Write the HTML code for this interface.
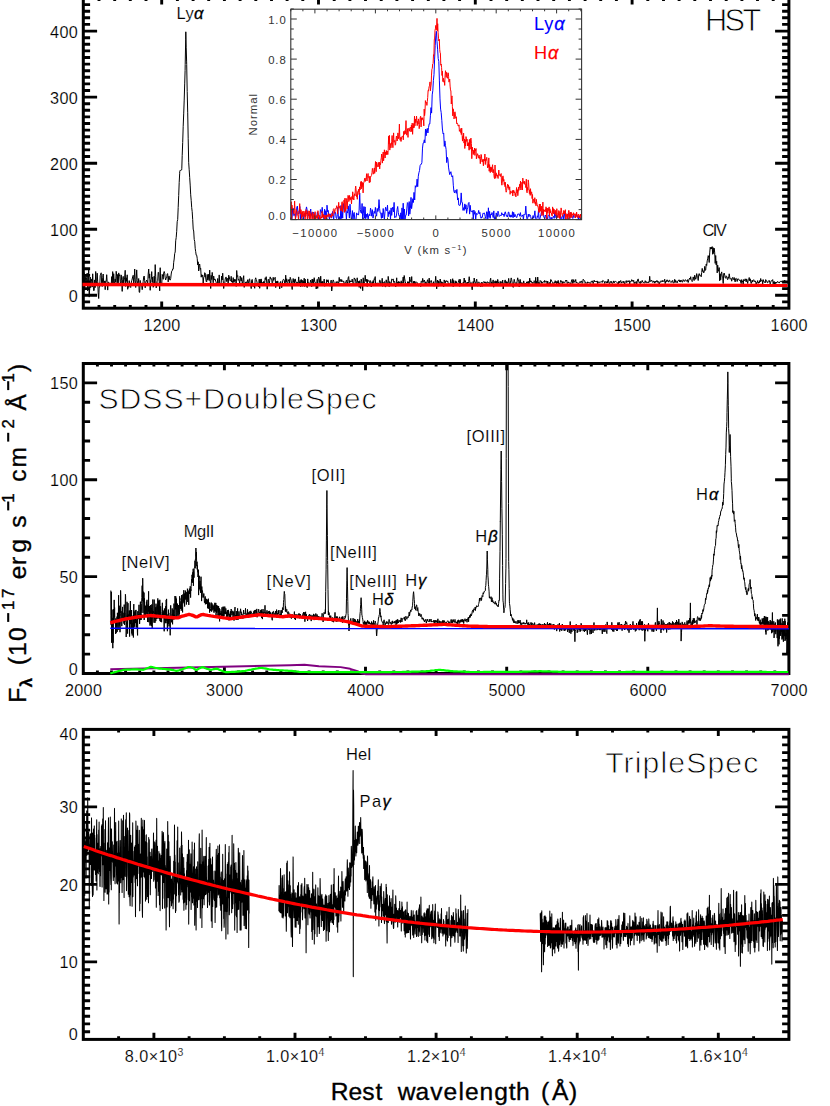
<!DOCTYPE html>
<html><head><meta charset="utf-8"><title>Spectra</title>
<style>html,body{margin:0;padding:0;background:#fff;}svg{display:block;}text{font-family:"Liberation Sans",sans-serif;}</style></head>
<body>
<svg width="830" height="1106" viewBox="0 0 830 1106" font-family="Liberation Sans, sans-serif">
<rect x="0" y="0" width="830" height="1106" fill="#fff"/>
<defs><clipPath id="c1"><rect x="83.3" y="-5" width="705.6" height="313.2"/></clipPath><clipPath id="c2"><rect x="83.3" y="363.5" width="705.6" height="312"/></clipPath><clipPath id="c3"><rect x="83.3" y="729.4" width="705.6" height="310"/></clipPath><clipPath id="ci"><rect x="290.6" y="9.2" width="291" height="210.4"/></clipPath></defs>
<rect x="83.3" y="-2.2" width="705.6" height="310.4" fill="none" stroke="#000" stroke-width="3.0"/>
<path d="M83.3,301.9h6.8M788.9,301.9h-6.8M83.3,295.2h13.8M788.9,295.2h-13.8M83.3,288.6h6.8M788.9,288.6h-6.8M83.3,282h6.8M788.9,282h-6.8M83.3,275.4h6.8M788.9,275.4h-6.8M83.3,268.8h6.8M788.9,268.8h-6.8M83.3,262.2h6.8M788.9,262.2h-6.8M83.3,255.6h6.8M788.9,255.6h-6.8M83.3,249h6.8M788.9,249h-6.8M83.3,242.4h6.8M788.9,242.4h-6.8M83.3,235.8h6.8M788.9,235.8h-6.8M83.3,229.2h13.8M788.9,229.2h-13.8M83.3,222.6h6.8M788.9,222.6h-6.8M83.3,216h6.8M788.9,216h-6.8M83.3,209.4h6.8M788.9,209.4h-6.8M83.3,202.8h6.8M788.9,202.8h-6.8M83.3,196.2h6.8M788.9,196.2h-6.8M83.3,189.6h6.8M788.9,189.6h-6.8M83.3,183h6.8M788.9,183h-6.8M83.3,176.4h6.8M788.9,176.4h-6.8M83.3,169.8h6.8M788.9,169.8h-6.8M83.3,163.2h13.8M788.9,163.2h-13.8M83.3,156.5h6.8M788.9,156.5h-6.8M83.3,149.9h6.8M788.9,149.9h-6.8M83.3,143.3h6.8M788.9,143.3h-6.8M83.3,136.7h6.8M788.9,136.7h-6.8M83.3,130.1h6.8M788.9,130.1h-6.8M83.3,123.5h6.8M788.9,123.5h-6.8M83.3,116.9h6.8M788.9,116.9h-6.8M83.3,110.3h6.8M788.9,110.3h-6.8M83.3,103.7h6.8M788.9,103.7h-6.8M83.3,97.1h13.8M788.9,97.1h-13.8M83.3,90.5h6.8M788.9,90.5h-6.8M83.3,83.9h6.8M788.9,83.9h-6.8M83.3,77.3h6.8M788.9,77.3h-6.8M83.3,70.7h6.8M788.9,70.7h-6.8M83.3,64.1h6.8M788.9,64.1h-6.8M83.3,57.5h6.8M788.9,57.5h-6.8M83.3,50.9h6.8M788.9,50.9h-6.8M83.3,44.3h6.8M788.9,44.3h-6.8M83.3,37.7h6.8M788.9,37.7h-6.8M83.3,31.1h13.8M788.9,31.1h-13.8M83.3,24.4h6.8M788.9,24.4h-6.8M83.3,17.8h6.8M788.9,17.8h-6.8M83.3,11.2h6.8M788.9,11.2h-6.8M83.3,4.6h6.8M788.9,4.6h-6.8M83.3,-2h6.8M788.9,-2h-6.8" stroke="#000" stroke-width="2.9" fill="none"/>
<path d="M99,308.2v-3.1M99,-2.2v3.1M114.7,308.2v-3.1M114.7,-2.2v3.1M130.3,308.2v-3.1M130.3,-2.2v3.1M146,308.2v-3.1M146,-2.2v3.1M161.7,308.2v-6.7M161.7,-2.2v6.7M177.4,308.2v-3.1M177.4,-2.2v3.1M193.1,308.2v-3.1M193.1,-2.2v3.1M208.7,308.2v-3.1M208.7,-2.2v3.1M224.4,308.2v-3.1M224.4,-2.2v3.1M240.1,308.2v-3.1M240.1,-2.2v3.1M255.8,308.2v-3.1M255.8,-2.2v3.1M271.5,308.2v-3.1M271.5,-2.2v3.1M287.1,308.2v-3.1M287.1,-2.2v3.1M302.8,308.2v-3.1M302.8,-2.2v3.1M318.5,308.2v-6.7M318.5,-2.2v6.7M334.2,308.2v-3.1M334.2,-2.2v3.1M349.9,308.2v-3.1M349.9,-2.2v3.1M365.5,308.2v-3.1M365.5,-2.2v3.1M381.2,308.2v-3.1M381.2,-2.2v3.1M396.9,308.2v-3.1M396.9,-2.2v3.1M412.6,308.2v-3.1M412.6,-2.2v3.1M428.3,308.2v-3.1M428.3,-2.2v3.1M443.9,308.2v-3.1M443.9,-2.2v3.1M459.6,308.2v-3.1M459.6,-2.2v3.1M475.3,308.2v-6.7M475.3,-2.2v6.7M491,308.2v-3.1M491,-2.2v3.1M506.7,308.2v-3.1M506.7,-2.2v3.1M522.3,308.2v-3.1M522.3,-2.2v3.1M538,308.2v-3.1M538,-2.2v3.1M553.7,308.2v-3.1M553.7,-2.2v3.1M569.4,308.2v-3.1M569.4,-2.2v3.1M585.1,308.2v-3.1M585.1,-2.2v3.1M600.7,308.2v-3.1M600.7,-2.2v3.1M616.4,308.2v-3.1M616.4,-2.2v3.1M632.1,308.2v-6.7M632.1,-2.2v6.7M647.8,308.2v-3.1M647.8,-2.2v3.1M663.5,308.2v-3.1M663.5,-2.2v3.1M679.1,308.2v-3.1M679.1,-2.2v3.1M694.8,308.2v-3.1M694.8,-2.2v3.1M710.5,308.2v-3.1M710.5,-2.2v3.1M726.2,308.2v-3.1M726.2,-2.2v3.1M741.9,308.2v-3.1M741.9,-2.2v3.1M757.5,308.2v-3.1M757.5,-2.2v3.1M773.2,308.2v-3.1M773.2,-2.2v3.1" stroke="#000" stroke-width="2.9" fill="none"/>
<g clip-path="url(#c1)">
<path d="M84.2,272.7L84.7,290.2L85.2,276.3L85.7,280.3L86.2,281.5L86.7,277.2L87.2,273.1L87.7,290.9L88.2,284.3L88.7,269.3L89.2,297.1L89.7,288.2L90.2,277L90.7,287.7L91.2,278.9L91.7,281.5L92.2,287L92.7,273.8L93.2,285.6L93.7,290.8L94.2,290.3L94.7,279.9L95.2,287.6L95.7,271.5L96.2,280.8L96.7,284.7L97.2,273.2L97.7,281.3L98.2,292.8L98.7,298.5L99.2,286.7L99.7,287.1L100.2,275.7L100.7,274.1L101.2,272.8L101.7,285.2L102.2,286.5L102.7,277.6L103.2,274L103.7,283.4L104.2,283.7L104.7,280.9L105.2,289.7L105.7,281.1L106.2,281.3L106.7,274.7L107.2,282.5L107.7,290.1L108.2,282L108.7,282.1L109.2,284.4L109.7,283.4L110.2,285L110.7,285L111.2,285.5L111.7,276.6L112.2,283.5L112.7,271.6L113.2,283.3L113.7,273.7L114.2,281.1L114.7,284.5L115.2,279L115.7,282.2L116.2,271.3L116.7,276.2L117.2,285.8L117.7,274.4L118.2,285.6L118.7,272.9L119.2,275.9L119.7,274.7L120.2,281.5L120.7,284.8L121.2,274.9L121.7,280.3L122.2,291.4L122.7,279.5L123.2,276.4L123.7,283.8L124.2,280L124.7,277.1L125.2,270.3L125.7,286.4L126.2,277.8L126.7,281.3L127.2,274.8L127.7,289.3L128.2,285.9L128.7,287.3L129.2,280.6L129.7,284.1L130.2,286.7L130.7,287.5L131.2,283.1L131.7,280.8L132.2,279L132.7,276.6L133.2,275.3L133.7,283.3L134.2,279.7L134.7,269L135.2,280.2L135.7,287.5L136.2,279.4L136.7,269.9L137.2,280.3L137.7,285.8L138.2,282.3L138.7,278.5L139.2,292.2L139.7,292.4L140.2,280.4L140.7,285.9L141.2,283.3L141.7,285.6L142.2,289.7L142.7,285.8L143.2,281.4L143.7,277L144.2,276L144.7,280.7L145.2,287.8L145.7,282.7L146.2,281.2L146.7,280.1L147.2,281L147.7,284.1L148.2,274.1L148.7,269L149.2,278.2L149.7,273.9L150.2,290.3L150.7,279.8L151.2,279.2L151.7,271.6L152.2,282.4L152.7,277L153.2,287.3L153.7,285.6L154.2,276.1L154.7,283.1L155.2,264.6L155.7,276.6L156.2,287.9L156.7,285.2L157.2,281.6L157.7,280.4L158.2,272.2L158.7,272.6L159.2,281.8L159.7,290.8L160.2,267.7L160.7,283.9L161.2,283.5L161.7,285.3L162.2,274.4L162.7,276.2L163.2,279.3L163.7,272.9L164.2,271.5L164.7,273.3L165.2,277.8L165.7,280L166.2,277.6L166.7,277.9L167.2,273.9L167.7,273.6L168.2,281.9L168.7,276.3L169.2,276L169.7,279.8L170.2,280.1L170.7,278.5L171.2,274L171.7,271.2L172.2,270.8L172.7,269L173.2,269.1L173.7,262.3L174.2,259L174.7,253.5L175.2,252L175.7,240.8L176.2,237.6L176.7,231.3L177.2,221.7L177.7,219.5L178.2,207.4L178.7,195.5L179.2,182.4L179.7,173.2L179.7,171.8L180.2,170.2L180.7,170.4L181.2,170.1L181.7,169.9L181.8,168.3L182.2,155.7L182.7,142.5L183.2,126.3L183.7,113.9L184.2,100.1L184.7,83.9L185.1,70.4L185.2,64.5L185.7,39.2L185.8,31.8L186.2,47.2L186.6,61.1L186.7,64.4L187.2,91.5L187.7,112.2L188.2,138.8L188.7,162.7L189.2,169.8L189.7,177.6L190.2,185.1L190.7,194.8L191.2,200.3L191.7,207.6L192.2,211.7L192.7,219.6L193.2,229.1L193.7,231L194.2,239.4L194.7,241.3L195.2,248.3L195.7,251.7L196.2,255.2L196.7,255.2L197.2,258.3L197.7,264.9L198.2,261.8L198.7,271L199.2,265.3L199.7,264L200.2,269.3L200.7,268.3L201.2,277.2L201.7,274.6L202.2,276.6L202.7,275.2L203.2,283L203.7,277.4L204.2,277.1L204.7,272.7L205.2,273.1L205.7,278L206.2,281.4L206.7,282L207.2,274.4L207.7,280.1L208.2,279L208.7,274.2L209.2,280.6L209.7,270.1L210.2,279.9L210.7,288.5L211.2,275.4L211.7,279.5L212.2,272.4L212.7,276.9L213.2,282.8L213.7,276.1L214.2,280.1L214.7,279.1L215.2,279.1L215.7,281.3L216.2,282.4L216.7,285.2L217.2,283.8L217.7,278.5L218.2,286L218.7,285.4L219.2,274.9L219.7,283.2L220.2,283.9L220.7,284.4L221.2,282.9L221.7,276L222.2,279.9L222.7,273.2L223.2,280.3L223.7,288.5L224.2,283.5L224.7,284.1L225.2,279.1L225.7,277.3L226.2,277.1L226.7,281.6L227.2,278.2L227.7,278.8L228.2,285.4L228.7,275.2L229.2,276.5L229.7,279.4L230.2,280.9L230.7,280.8L231.2,276.3L231.7,282.1L232.2,280.9L232.7,282.7L233.2,277.6L233.7,282.4L234.2,282.3L234.7,279.2L235.2,280.8L235.7,279.6L236.2,286.4L236.7,270.5L237.2,276.5L237.7,275.6L238.2,280.4L238.7,279.3L239.2,280.3L239.7,284.3L240.2,276.1L240.7,278.8L241.2,281L241.7,277.6L242.2,283.1L242.7,283L243.2,279.3L243.7,275.7L244.2,287.4L244.7,283.5L245.2,283.3L245.7,282.1L246.2,281.8L246.7,284.7L247.2,281.8L247.7,279.7L248.2,284.3L248.7,282.1L249.2,279.2L249.7,278.8L250.2,285.9L250.7,284L251.2,288.6L251.7,280.1L252.2,279.4L252.7,283.3L253.2,286.6L253.7,283.9L254.2,283.4L254.7,288.3L255.2,279.4L255.7,277.8L256.2,279.4L256.7,280.9L257.2,283.2L257.7,285.3L258.2,283.3L258.7,287L259.2,279.2L259.7,288.3L260.2,279.3L260.7,285.8L261.2,278.9L261.7,283.1L262.2,282.2L262.7,283.7L263.2,284.5L263.7,281.3L264.2,281.8L264.7,282.8L265.2,277.8L265.7,279.6L266.2,276.7L266.7,282L267.2,289.2L267.7,284.4L268.2,279.2L268.7,279.8L269.2,285.2L269.7,280.5L270.2,276.9L270.7,278.8L271.2,278.7L271.7,278.8L272.2,284.2L272.7,282.3L273.2,277.3L273.7,280.4L274.2,278.5L274.7,278.3L275.2,277.3L275.7,287.6L276.2,281.1L276.7,283.9L277.2,284.8L277.7,280.9L278.2,283.8L278.7,283.8L279.2,282.8L279.7,288.9L280.2,283L280.7,281.4L281.2,284.2L281.7,287.7L282.2,285.2L282.7,280.7L283.2,279.5L283.7,279.3L284.2,280.1L284.7,283.4L285.2,284.8L285.7,275.2L286.2,282.1L286.7,278.8L287.2,284.3L287.7,285L288.2,279.8L288.7,280.8L289.2,279.3L289.7,283.4L290.2,277.3L290.7,278.8L291.2,280.2L291.7,285.9L292.2,289.5L292.7,282.3L293.2,278.5L293.7,282.5L294.2,279.6L294.7,283.6L295.2,278.9L295.7,281.2L296.2,282.2L296.7,283.8L297.2,282L297.7,286L298.2,282.7L298.7,276.9L299.2,285L299.7,281.4L300.2,280.3L300.7,286.8L301.2,279.4L301.7,282.5L302.2,280.2L302.7,286.3L303.2,281.2L303.7,283L304.2,278.2L304.7,286.5L305.2,279.2L305.7,285L306.2,285.5L306.7,285.9L307.2,287.6L307.7,278.9L308.2,283.5L308.7,282.7L309.2,283.5L309.7,285.5L310.2,282.6L310.7,280L311.2,282L311.7,286.7L312.2,279L312.7,282.6L313.2,279.5L313.7,285.5L314.2,277.7L314.7,281.4L315.2,282L315.7,282.7L316.2,289L316.7,285L317.2,279.4L317.7,288.4L318.2,279L318.7,277.1L319.2,278.2L319.7,282.9L320.2,283.8L320.7,276.2L321.2,283.6L321.7,281.6L322.2,284.3L322.7,281.3L323.2,284.8L323.7,283.9L324.2,279.1L324.7,286.3L325.2,282.9L325.7,284.3L326.2,285.8L326.7,279.7L327.2,282.1L327.7,280.1L328.2,279.8L328.7,283.1L329.2,283.3L329.7,286L330.2,286.1L330.7,282.3L331.2,280.1L331.7,291L332.2,287.3L332.7,282.1L333.2,279.9L333.7,281.2L334.2,283.1L334.7,285.4L335.2,285L335.7,283.5L336.2,281.7L336.7,282.8L337.2,281.5L337.7,282.6L338.2,282.1L338.7,283.8L339.2,277.4L339.7,281.5L340.2,280.8L340.7,279.4L341.2,281.9L341.7,279.6L342.2,280.6L342.7,281.6L343.2,281.7L343.7,280.9L344.2,285.3L344.7,282.9L345.2,283.2L345.7,283L346.2,280.6L346.7,280.1L347.2,284.6L347.7,281.5L348.2,277.7L348.7,276.6L349.2,283L349.7,280.5L350.2,282.2L350.7,281L351.2,281.3L351.7,281.9L352.2,279.1L352.7,282.4L353.2,285L353.7,284.2L354.2,277.9L354.7,278.9L355.2,278.9L355.7,281.8L356.2,284.6L356.7,283.3L357.2,277.8L357.7,282.6L358.2,284.5L358.7,281.2L359.2,287.4L359.7,280.7L360.2,285.5L360.7,288.5L361.2,279.1L361.7,281.6L362.2,283.9L362.7,290.7L363.2,277.8L363.7,283.9L364.2,283.2L364.7,281.3L365.2,275.3L365.7,281.1L366.2,281.7L366.7,279.2L367.2,286.5L367.7,279.6L368.2,281.3L368.7,280.7L369.2,281.4L369.7,282.7L370.2,280.5L370.7,281.8L371.2,286.9L371.7,285.1L372.2,281.7L372.7,284.8L373.2,280.5L373.7,283L374.2,278.8L374.7,279.5L375.2,276.6L375.7,285.6L376.2,283L376.7,283.8L377.2,282.8L377.7,283.4L378.2,283.5L378.7,284.4L379.2,282.9L379.7,280.1L380.2,280.5L380.7,285.5L381.2,286L381.7,283.9L382.2,278.3L382.7,286.4L383.2,283.3L383.7,282.3L384.2,282.5L384.7,281.5L385.2,286.9L385.7,286.7L386.2,279.8L386.7,282L387.2,283.2L387.7,285.7L388.2,276.4L388.7,280.5L389.2,286.7L389.7,281.6L390.2,282.4L390.7,285.6L391.2,283.4L391.7,279.1L392.2,279.5L392.7,279.9L393.2,278.9L393.7,282.4L394.2,281.2L394.7,282.6L395.2,284.2L395.7,286.9L396.2,283L396.7,277.8L397.2,285.9L397.7,282.2L398.2,285.3L398.7,281.3L399.2,283.2L399.7,282.1L400.2,282.4L400.7,285.6L401.2,280.8L401.7,283.9L402.2,283L402.7,281.5L403.2,277L403.7,283.3L404.2,275.5L404.7,278.8L405.2,281.3L405.7,283.5L406.2,284.6L406.7,284.5L407.2,283.9L407.7,281.6L408.2,285.4L408.7,281.8L409.2,285.2L409.7,277L410.2,280.1L410.7,281L411.2,282.4L411.7,276.6L412.2,284.4L412.7,284.9L413.2,284.4L413.7,281.2L414.2,286L414.7,281.1L415.2,284.3L415.7,282.3L416.2,282.4L416.7,282.1L417.2,282.4L417.7,285.1L418.2,285.9L418.7,285.9L419.2,284.6L419.7,284L420.2,283.5L420.7,286.7L421.2,281.4L421.7,280.9L422.2,282.6L422.7,278.4L423.2,281.9L423.7,282.3L424.2,280L424.7,281.1L425.2,284.1L425.7,281.9L426.2,282.6L426.7,284.9L427.2,281L427.7,279.7L428.2,282.3L428.7,283.4L429.2,278.1L429.7,284L430.2,281.7L430.7,281.4L431.2,280.4L431.7,282L432.2,284.7L432.7,283.7L433.2,284.3L433.7,281.6L434.2,286.2L434.7,285.4L435.2,282.4L435.7,276.3L436.2,282.6L436.7,288.9L437.2,282.3L437.7,280L438.2,286.4L438.7,281L439.2,283.6L439.7,284.2L440.2,279L440.7,282.7L441.2,285.2L441.7,281.7L442.2,284L442.7,282.4L443.2,284.8L443.7,286.7L444.2,279.9L444.7,281.8L445.2,283.4L445.7,281L446.2,280.5L446.7,281.6L447.2,281.8L447.7,280.9L448.2,283.2L448.7,284.3L449.2,284.2L449.7,284L450.2,285.2L450.7,279.3L451.2,282.2L451.7,282.9L452.2,283.6L452.7,278.7L453.2,286.7L453.7,280.4L454.2,283L454.7,284.1L455.2,284.9L455.7,280.9L456.2,281.2L456.7,283.3L457.2,283.8L457.7,284.5L458.2,282.3L458.7,280.8L459.2,279.4L459.7,286.4L460.2,279.3L460.7,284L461.2,283.1L461.7,284.2L462.2,284.6L462.7,285.5L463.2,282.3L463.7,283.3L464.2,278L464.7,282.5L465.2,280.4L465.7,282.1L466.2,285.2L466.7,282.7L467.2,284.9L467.7,282L468.2,283.3L468.7,281.5L469.2,276.7L469.7,280.8L470.2,284.7L470.7,282.8L471.2,282.4L471.7,286.4L472.2,289.8L472.7,283.8L473.2,281.5L473.7,284.4L474.2,278L474.7,281.8L475.2,282.1L475.7,285.3L476.2,280.9L476.7,279.2L477.2,282.8L477.7,286.2L478.2,282L478.7,282.2L479.2,282L479.7,282.5L480.2,285.3L480.7,286.8L481.2,283.5L481.7,282.2L482.2,286.5L482.7,282.6L483.2,282.6L483.7,281.6L484.2,281.7L484.7,283L485.2,281.8L485.7,283.3L486.2,282.6L486.7,283.6L487.2,281.6L487.7,282L488.2,283L488.7,282.6L489.2,282.6L489.7,285L490.2,280.1L490.7,278.2L491.2,284L491.7,281.9L492.2,285.4L492.7,282.2L493.2,279.9L493.7,287.2L494.2,283.3L494.7,281.4L495.2,280.8L495.7,283.6L496.2,280.9L496.7,283.3L497.2,284.9L497.7,279.4L498.2,281.6L498.7,283.4L499.2,286L499.7,284.4L500.2,281.4L500.7,285.5L501.2,281.6L501.7,282.1L502.2,283.2L502.7,280L503.2,289L503.7,285L504.2,282.9L504.7,281.2L505.2,279.9L505.7,283.2L506.2,283.9L506.7,281.5L507.2,282L507.7,283.6L508.2,282.3L508.7,278.4L509.2,283.8L509.7,282.9L510.2,283.9L510.7,280.8L511.2,277.9L511.7,279.7L512.2,283L512.7,286.8L513.2,287.4L513.7,283L514.2,279.3L514.7,281.7L515.2,283.3L515.7,283.3L516.2,282.6L516.7,285.2L517.2,280.5L517.7,277.8L518.2,280.5L518.7,279.9L519.2,287L519.7,282L520.2,279.4L520.7,283.7L521.2,284.5L521.7,282.5L522.2,282.8L522.7,284.5L523.2,283.4L523.7,280.9L524.2,283.6L524.7,284.3L525.2,283.1L525.7,284.2L526.2,283.6L526.7,281.9L527.2,282L527.7,283.6L528.2,281.2L528.7,284.7L529.2,284.9L529.7,278.1L530.2,282.2L530.7,280.8L531.2,281L531.7,282.6L532.2,282L532.7,283.5L533.2,283L533.7,283.1L534.2,280.7L534.7,281.6L535.2,285.3L535.7,277.3L536.2,285.9L536.7,281.2L537.2,284.7L537.7,277L538.2,281.5L538.7,284.1L539.2,282.6L539.7,284.4L540.2,280.5L540.7,281.2L541.2,281L541.7,283.4L542.2,283.3L542.7,282.1L543.2,281.8L543.7,281.7L544.2,282.5L544.7,280.4L545.2,282.2L545.7,282L546.2,281.2L546.7,281.2L547.2,285.3L547.7,281.1L548.2,283.1L548.7,285.1L549.2,283.8L549.7,282.4L550.2,284.4L550.7,279.5L551.2,279.8L551.7,281.5L552.2,281.9L552.7,282.1L553.2,286L553.7,285.6L554.2,282.2L554.7,282.8L555.2,280.7L555.7,282.8L556.2,281.4L556.7,284.5L557.2,281.5L557.7,283.1L558.2,280.4L558.7,284.2L559.2,283.1L559.7,284.8L560.2,282.4L560.7,280.4L561.2,281.4L561.7,281L562.2,283.9L562.7,281.7L563.2,281.5L563.7,282.9L564.2,282.5L564.7,282.8L565.2,281.7L565.7,280.2L566.2,280.9L566.7,280L567.2,283.5L567.7,283.2L568.2,281.8L568.7,282.9L569.2,282.9L569.7,282.9L570.2,282.7L570.7,285.5L571.2,282.3L571.7,279.9L572.2,279.4L572.7,283.5L573.2,282.8L573.7,279.6L574.2,282.4L574.7,281.3L575.2,281.6L575.7,279.5L576.2,283L576.7,282.1L577.2,283L577.7,283.3L578.2,283.5L578.7,283.8L579.2,282.4L579.7,282.3L580.2,281.4L580.7,282.7L581.2,281.9L581.7,280.9L582.2,283.4L582.7,282.8L583.2,279.3L583.7,280.1L584.2,280.5L584.7,280.7L585.2,283.4L585.7,282.3L586.2,282.7L586.7,283.1L587.2,283.5L587.7,281.8L588.2,282.7L588.7,282.3L589.2,282.9L589.7,282.6L590.2,283.6L590.7,282.6L591.2,281.5L591.7,282.2L592.2,280.8L592.7,282.4L593.2,283.6L593.7,281.4L594.2,280.2L594.7,281.9L595.2,281.4L595.7,282L596.2,281.3L596.7,282.1L597.2,280.9L597.7,283.7L598.2,281.7L598.7,282.5L599.2,282.8L599.7,281.8L600.2,282.4L600.7,281.7L601.2,281.5L601.7,281.7L602.2,282.5L602.7,280.5L603.2,280.9L603.7,281L604.2,281.3L604.7,283.5L605.2,281.9L605.7,281.6L606.2,282.1L606.7,283.1L607.2,281.1L607.7,283L608.2,279.3L608.7,280.9L609.2,283.5L609.7,283.6L610.2,282.1L610.7,281.4L611.2,282.8L611.7,281.4L612.2,283.6L612.7,283.2L613.2,282.7L613.7,280.9L614.2,282.9L614.7,281.6L615.2,281.6L615.7,281.4L616.2,281.7L616.7,282.4L617.2,282.8L617.7,282.8L618.2,285.7L618.7,281.4L619.2,283.1L619.7,281.1L620.2,281.6L620.7,280.5L621.2,283.2L621.7,282.1L622.2,282L622.7,281.7L623.2,282.9L623.7,281.2L624.2,282.3L624.7,284.7L625.2,281.6L625.7,281.1L626.2,280.6L626.7,282.7L627.2,281.9L627.7,280.9L628.2,280.8L628.7,281.8L629.2,280.6L629.7,284.2L630.2,281.5L630.7,281.5L631.2,281.6L631.7,279.6L632.2,280L632.7,281.3L633.2,281.7L633.7,280.3L634.2,283.7L634.7,282.2L635.2,283.2L635.7,283.1L636.2,281.4L636.7,284.6L637.2,281.8L637.7,279.5L638.2,278.9L638.7,281.7L639.2,282.7L639.7,281.8L640.2,283.7L640.7,281.3L641.2,282.3L641.7,282.5L642.2,280.4L642.7,282L643.2,282.1L643.7,282.9L644.2,283.1L644.7,282.8L645.2,280.7L645.7,282.5L646.2,282.9L646.7,281.6L647.2,282.5L647.7,282.5L648.2,283L648.7,281.7L649.2,282.2L649.7,276.3L650.2,281.6L650.7,280.8L651.2,281.2L651.7,280.2L652.2,281.3L652.7,282.4L653.2,282.3L653.7,281.1L654.2,281.4L654.7,283.2L655.2,281L655.7,282.4L656.2,282L656.7,280.6L657.2,280.6L657.7,282.4L658.2,281.5L658.7,281.8L659.2,285.3L659.7,282.2L660.2,281.6L660.7,282.4L661.2,280.7L661.7,281.2L662.2,282L662.7,280.4L663.2,281.4L663.7,281.2L664.2,281.6L664.7,279.2L665.2,283.6L665.7,281.3L666.2,282.1L666.7,280.1L667.2,279.8L667.7,281.4L668.2,281L668.7,282.2L669.2,280.2L669.7,280.2L670.2,281.8L670.7,282.3L671.2,282.5L671.7,281.3L672.2,281.7L672.7,280.4L673.2,283L673.7,282.8L674.2,282.7L674.7,279.3L675.2,282.5L675.7,280.4L676.2,282L676.7,281.9L677.2,282.9L677.7,281.1L678.2,280.9L678.7,280L679.2,279.8L679.7,282L680.2,280.1L680.7,282.1L681.2,280.6L681.7,280.3L682.2,282.2L682.7,282L683.2,279.6L683.7,280.6L684.2,280.7L684.7,281.5L685.2,279.7L685.7,280L686.2,280.3L686.7,281.3L687.2,281.5L687.7,279.6L688.2,282.5L688.7,280.7L689.2,279.1L689.7,278L690.2,279.3L690.7,276.7L691.2,280.1L691.7,280.6L692.2,281.6L692.7,280.4L693.2,276.9L693.7,279.1L694.2,280.5L694.7,275.2L695.2,277.1L695.7,279.3L696.2,277.9L696.7,273.6L697.2,276.1L697.7,276.7L698.2,280.5L698.7,275L699.2,273.6L699.7,275.7L700.2,275.3L700.7,275.3L701.2,276.8L701.7,272.5L702.2,268.4L702.7,271.4L703.2,270.7L703.7,272.9L704.2,271.9L704.7,266.4L705.2,270.5L705.7,270L706.2,264.1L706.7,265.5L707.2,260.9L707.7,258.8L708.2,255.6L708.7,257L709.2,262.5L709.7,252.9L710.2,247.3L710.7,249.1L711.2,247L711.7,249L712.2,246.6L712.7,254.3L713.2,247.7L713.7,253.5L714.2,248.2L714.7,252.7L715.2,263.4L715.7,255.5L716.2,265L716.7,261.3L717.2,272.9L717.7,265.1L718.2,270L718.7,271.3L719.2,267.6L719.7,280.8L720.2,273.8L720.7,279.8L721.2,273.8L721.7,271.9L722.2,276.6L722.7,276.7L723.2,283.5L723.7,274L724.2,273L724.7,275.2L725.2,277.6L725.7,278.3L726.2,275.8L726.7,276.7L727.2,278.6L727.7,279.7L728.2,276.9L728.7,278.3L729.2,273.8L729.7,276.9L730.2,279.2L730.7,278.7L731.2,278.5L731.7,281.2L732.2,278.5L732.7,277.4L733.2,279.4L733.7,279.5L734.2,277.5L734.7,280.8L735.2,281.9L735.7,278.6L736.2,278.3L736.7,279.5L737.2,281.5L737.7,278.9L738.2,278.8L738.7,279.1L739.2,280.4L739.7,280.4L740.2,279.9L740.7,282L741.2,283.6L741.7,279.6L742.2,282L742.7,280.9L743.2,284.9L743.7,279.5L744.2,280.3L744.7,280.9L745.2,278.8L745.7,280.6L746.2,281.9L746.7,278.9L747.2,281.1L747.7,283.5L748.2,280.2L748.7,279.8L749.2,277.5L749.7,280.9L750.2,278.8L750.7,281.9L751.2,283.5L751.7,282L752.2,280.1L752.7,282.1L753.2,280.6L753.7,279.7L754.2,280.6L754.7,281.7L755.2,280.9L755.7,282.1L756.2,284.4L756.7,282.3L757.2,282.5L757.7,280.6L758.2,283.4L758.7,282.1L759.2,283L759.7,280.6L760.2,282L760.7,278.5L761.2,281.2L761.7,280.5L762.2,280.3L762.7,284L763.2,279.6L763.7,281.5L764.2,281.5L764.7,282.4L765.2,283L765.7,279.6L766.2,281L766.7,280.8L767.2,282.6L767.7,282.9L768.2,281.2L768.7,281L769.2,280.4L769.7,282.2L770.2,283.9L770.7,282.2L771.2,280.8L771.7,280.6L772.2,280.8L772.7,279.6L773.2,283.9L773.7,281.8L774.2,281.3L774.7,284.6L775.2,282L775.7,283.6L776.2,282.1L776.7,283.1L777.2,281.8L777.7,281.3L778.2,282.3L778.7,282.6L779.2,283.1L779.7,282L780.2,281.4L780.7,281.3L781.2,282.1L781.7,281.2L782.2,281.4L782.7,282.4L783.2,282.5L783.7,282.4L784.2,280.9L784.7,280L785.2,282.1L785.7,281.9L786.2,281.3L786.7,282L787.2,282.8L787.7,281.7" fill="none" stroke="#000" stroke-width="1" stroke-linejoin="round"/>
</g>
<line x1="82.5" y1="284.5" x2="787.5" y2="285.4" stroke="#f00" stroke-width="3.4"/>
<rect x="83.3" y="363.5" width="705.6" height="310" fill="none" stroke="#000" stroke-width="3.0"/>
<path d="M83.3,654.1h6.8M788.9,654.1h-6.8M83.3,634.8h6.8M788.9,634.8h-6.8M83.3,615.4h6.8M788.9,615.4h-6.8M83.3,596h6.8M788.9,596h-6.8M83.3,576.6h13.8M788.9,576.6h-13.8M83.3,557.2h6.8M788.9,557.2h-6.8M83.3,537.9h6.8M788.9,537.9h-6.8M83.3,518.5h6.8M788.9,518.5h-6.8M83.3,499.1h6.8M788.9,499.1h-6.8M83.3,479.8h13.8M788.9,479.8h-13.8M83.3,460.4h6.8M788.9,460.4h-6.8M83.3,441h6.8M788.9,441h-6.8M83.3,421.6h6.8M788.9,421.6h-6.8M83.3,402.2h6.8M788.9,402.2h-6.8M83.3,382.9h13.8M788.9,382.9h-13.8" stroke="#000" stroke-width="2.9" fill="none"/>
<path d="M97.4,673.5v-3.1M97.4,363.5v3.1M111.5,673.5v-3.1M111.5,363.5v3.1M125.6,673.5v-3.1M125.6,363.5v3.1M139.7,673.5v-3.1M139.7,363.5v3.1M153.9,673.5v-3.1M153.9,363.5v3.1M168,673.5v-3.1M168,363.5v3.1M182.1,673.5v-3.1M182.1,363.5v3.1M196.2,673.5v-3.1M196.2,363.5v3.1M210.3,673.5v-3.1M210.3,363.5v3.1M224.4,673.5v-6.7M224.4,363.5v6.7M238.5,673.5v-3.1M238.5,363.5v3.1M252.6,673.5v-3.1M252.6,363.5v3.1M266.8,673.5v-3.1M266.8,363.5v3.1M280.9,673.5v-3.1M280.9,363.5v3.1M295,673.5v-3.1M295,363.5v3.1M309.1,673.5v-3.1M309.1,363.5v3.1M323.2,673.5v-3.1M323.2,363.5v3.1M337.3,673.5v-3.1M337.3,363.5v3.1M351.4,673.5v-3.1M351.4,363.5v3.1M365.5,673.5v-6.7M365.5,363.5v6.7M379.7,673.5v-3.1M379.7,363.5v3.1M393.8,673.5v-3.1M393.8,363.5v3.1M407.9,673.5v-3.1M407.9,363.5v3.1M422,673.5v-3.1M422,363.5v3.1M436.1,673.5v-3.1M436.1,363.5v3.1M450.2,673.5v-3.1M450.2,363.5v3.1M464.3,673.5v-3.1M464.3,363.5v3.1M478.4,673.5v-3.1M478.4,363.5v3.1M492.5,673.5v-3.1M492.5,363.5v3.1M506.7,673.5v-6.7M506.7,363.5v6.7M520.8,673.5v-3.1M520.8,363.5v3.1M534.9,673.5v-3.1M534.9,363.5v3.1M549,673.5v-3.1M549,363.5v3.1M563.1,673.5v-3.1M563.1,363.5v3.1M577.2,673.5v-3.1M577.2,363.5v3.1M591.3,673.5v-3.1M591.3,363.5v3.1M605.4,673.5v-3.1M605.4,363.5v3.1M619.6,673.5v-3.1M619.6,363.5v3.1M633.7,673.5v-3.1M633.7,363.5v3.1M647.8,673.5v-6.7M647.8,363.5v6.7M661.9,673.5v-3.1M661.9,363.5v3.1M676,673.5v-3.1M676,363.5v3.1M690.1,673.5v-3.1M690.1,363.5v3.1M704.2,673.5v-3.1M704.2,363.5v3.1M718.3,673.5v-3.1M718.3,363.5v3.1M732.5,673.5v-3.1M732.5,363.5v3.1M746.6,673.5v-3.1M746.6,363.5v3.1M760.7,673.5v-3.1M760.7,363.5v3.1M774.8,673.5v-3.1M774.8,363.5v3.1" stroke="#000" stroke-width="2.9" fill="none"/>
<g clip-path="url(#c2)">
<path d="M110.8,590.5L111,615.5L111.2,625.1L111.4,591.8L111.6,642.7L111.8,624.9L112,633.1L112.2,617.9L112.4,630.8L112.6,634.6L112.8,648.2L113,609.7L113.2,642.7L113.4,609.2L113.6,622.2L113.8,616.3L114,618.5L114.2,599.9L114.4,617L114.6,607.5L114.8,617.7L115,622.4L115.2,620.3L115.4,618.6L115.6,633.9L115.8,623L116,627.7L116.2,633.1L116.4,618.8L116.6,620.4L116.8,626.1L117,616.6L117.2,631.8L117.4,612.8L117.6,616.9L117.8,617.6L118,615.8L118.2,618.7L118.4,614.1L118.6,595.2L118.8,629.9L119,614.3L119.2,625.6L119.4,607.9L119.6,624L119.8,605.7L120,632.2L120.2,616.7L120.4,613.7L120.6,590.4L120.8,596.1L121,612.8L121.2,611.5L121.4,611.5L121.6,612.4L121.8,626.2L122,613.3L122.2,613.2L122.4,609.9L122.6,606.9L122.8,620.2L123,612.7L123.2,613.1L123.4,619.2L123.6,617L123.8,623.6L124,623.1L124.2,604.6L124.4,609.1L124.6,624.9L124.8,612.7L125,621.7L125.2,608.2L125.4,594.3L125.6,596.4L125.8,609.8L126,612.2L126.2,637L126.4,622.8L126.6,622.3L126.8,624.3L127,601.8L127.2,616.6L127.4,615.2L127.6,633.6L127.8,609.9L128,603.2L128.2,616.8L128.4,614.5L128.6,617L128.8,618.2L129,617.6L129.2,610.6L129.4,612.3L129.6,636.6L129.8,610.7L130,620.6L130.2,607.4L130.4,601.1L130.6,624.1L130.8,618L131,628L131.2,625.7L131.4,618.7L131.6,610L131.8,633.5L132,617.3L132.2,635.5L132.4,623L132.6,624.9L132.8,622.4L133,621.1L133.2,615.3L133.4,637.5L133.6,609.5L133.8,604.1L134,619.8L134.2,611.6L134.4,625.7L134.6,615.6L134.8,627.4L135,618L135.2,610.4L135.4,614.3L135.6,623.1L135.8,611.8L136,609.9L136.2,615.4L136.4,619.6L136.6,627.5L136.8,620.5L137,624.2L137.2,615.2L137.4,632.6L137.6,635.4L137.8,611.2L138,618.8L138.2,615.5L138.4,619.1L138.6,613.6L138.8,610L139,604.8L139.2,611.3L139.4,615.5L139.6,623.9L139.8,619.8L140,611.3L140.2,609L140.4,601.7L140.6,619.9L140.8,614.8L141,618.9L141.2,619.9L141.4,613.6L141.6,603.7L141.8,597.6L142,587.1L142.2,585.6L142.4,589.9L142.6,600.7L142.7,578.2L142.8,583.8L143,612.9L143.2,591.6L143.4,592.4L143.6,599.8L143.8,602.2L144,592.6L144.2,620L144.4,598.3L144.6,608.4L144.8,609.4L145,616.7L145.2,611.1L145.4,609L145.6,605.7L145.8,614.8L146,610L146.2,606.8L146.4,601.7L146.6,605.5L146.8,613.8L147,599.8L147.2,613.7L147.4,613.3L147.6,622L147.8,607L148,604.6L148.2,611.7L148.4,609.4L148.6,591.3L148.8,622.2L149,614.5L149.2,613.7L149.4,606L149.6,615.6L149.8,610.3L150,625.6L150.2,618.4L150.4,624.3L150.6,605L150.8,605.8L151,609.5L151.2,608L151.4,625.9L151.6,615.9L151.8,604.4L152,611L152.2,627.9L152.4,610.7L152.6,618.2L152.8,599.5L153,608.8L153.2,612.1L153.4,611.3L153.6,613.4L153.8,616.3L154,622.7L154.2,599.6L154.4,614.1L154.6,619.2L154.8,615.5L155,622.8L155.2,612.7L155.4,614.1L155.6,607.3L155.8,621.1L156,603.7L156.2,610.5L156.4,613.6L156.6,618.8L156.8,611.7L157,606.6L157.2,618.6L157.4,605.1L157.6,608.4L157.8,598.4L158,615.5L158.2,615.2L158.4,600.5L158.6,612.3L158.8,618.5L159,608.9L159.2,601.2L159.4,613.4L159.6,619L159.8,599.8L160,620.9L160.2,613.8L160.4,621.5L160.6,606.3L160.8,621.7L161,616.9L161.2,620.6L161.4,615.1L161.6,622.2L161.8,613.4L162,611.3L162.2,606.8L162.4,602.8L162.6,615.4L162.8,612.3L163,614.1L163.2,612.8L163.4,617.6L163.6,615.4L163.8,610.5L164,620.9L164.2,631.3L164.4,608.5L164.6,611.9L164.8,619.5L165,609.9L165.2,623.1L165.4,610.1L165.6,606.2L165.8,608.1L166,623.2L166.2,599.9L166.4,616.1L166.6,598.9L166.8,620.7L167,618.1L167.2,620.2L167.4,631.2L167.6,614.6L167.8,623.9L168,619.7L168.2,623.1L168.4,609.6L168.6,623.7L168.8,612.9L169,626.4L169.2,622.4L169.4,615.9L169.6,619.8L169.8,619.4L170,617.1L170.2,635.3L170.4,609.2L170.6,605.3L170.8,605.6L171,613.5L171.2,614.9L171.4,620.2L171.6,622.3L171.8,616.9L172,616.2L172.2,608.4L172.4,621.9L172.6,624.3L172.8,613.7L173,619.3L173.2,609.8L173.4,613.8L173.6,614.5L173.8,619.5L174,603.6L174.2,613.7L174.4,619.1L174.6,615.2L174.8,617.1L175,596L175.2,606.6L175.4,609.3L175.6,606.9L175.8,596.4L176,618.2L176.2,612.7L176.4,598.6L176.6,607.6L176.8,610.7L177,616.3L177.2,614.2L177.4,603.6L177.6,605.6L177.8,610.9L178,615.3L178.2,606.4L178.4,605.1L178.6,612.2L178.8,609.3L179,616.4L179.2,611L179.4,613.8L179.6,596.3L179.8,599.7L180,598.5L180.2,603.1L180.4,608.6L180.6,604.7L180.8,608.8L181,601.3L181.2,610.7L181.4,609.6L181.6,595.1L181.8,598.4L182,600.5L182.2,607.9L182.4,607.3L182.6,612.4L182.8,594.5L183,603.3L183.2,601.7L183.4,600L183.6,600.4L183.8,590.2L184,601.9L184.2,598L184.4,593.5L184.6,606.5L184.8,595.7L185,599.9L185.2,595.1L185.4,590.6L185.6,595.6L185.8,598.9L186,592.3L186.2,599.2L186.4,604.5L186.6,601.7L186.8,594.4L187,591.9L187.2,599.4L187.4,588.7L187.6,590L187.8,602L188,595.7L188.2,595.6L188.4,591.6L188.6,601L188.8,604.9L189,590.4L189.2,593.9L189.4,588.6L189.6,591.1L189.8,594L190,593.1L190.2,586.3L190.4,588.3L190.6,597.6L190.8,589.4L191,590.7L191.2,586.5L191.4,583.1L191.6,578.5L191.8,578.3L192,574.8L192.2,576.5L192.4,576.8L192.6,582.7L192.8,572.3L193,580.1L193.2,568.8L193.4,585.9L193.6,571.4L193.8,572.8L194,577.7L194.2,568.2L194.4,567.9L194.6,566.5L194.8,566.6L195,560.7L195.2,568.3L195.3,565.1L195.4,559L195.6,559.4L195.8,550L195.9,548L196,550L196.2,556.3L196.4,552.1L196.6,561.1L196.8,566.1L197,561.7L197.2,569.4L197.4,565.4L197.6,572.7L197.8,573.4L198,577L198.2,574.5L198.4,571.3L198.5,569.7L198.6,595.1L198.8,575.4L199,578.5L199.2,576L199.4,589.2L199.6,587.1L199.8,588.4L200,580.9L200.2,590.5L200.4,583.9L200.6,592.8L200.8,588.1L201,576.7L201.2,589.4L201.4,587L201.6,601.1L201.8,586.5L202,591.4L202.2,592.2L202.4,590.6L202.6,591.8L202.8,595.2L203,597.6L203.2,594.7L203.4,595.7L203.6,597.1L203.8,593.5L204,596.7L204.2,598.1L204.4,602.4L204.6,601.3L204.8,600.9L205,602.9L205.2,596.4L205.4,604.3L205.6,598.7L205.8,599.9L206,599.2L206.2,603.7L206.4,598.9L206.6,604L206.8,600.6L207,600.3L207.2,604.2L207.4,599.6L207.6,607.9L207.8,600.7L208,602L208.2,608.8L208.4,598.7L208.6,608.2L208.8,605.3L209,605.7L209.2,606.4L209.4,602.5L209.6,612.6L209.8,608.7L210,609.4L210.2,610.1L210.4,610.8L210.6,608.4L210.8,603.8L211,602.6L211.2,602.5L211.4,606L211.6,611.6L211.8,603L212,606.7L212.2,610.4L212.4,607L212.6,607.4L212.8,604.5L213,609.2L213.2,606.5L213.4,606.2L213.6,607.4L213.8,610.4L214,612.7L214.2,605L214.4,611.2L214.6,605.4L214.8,602.8L215,607.3L215.2,610.1L215.4,609.8L215.6,611.5L215.8,602.9L216,615.4L216.2,613.4L216.4,613L216.6,605L216.8,612.5L217,609.2L217.2,609.4L217.4,610.1L217.6,605.7L217.8,615.3L218,615.2L218.2,614.5L218.4,616.8L218.6,606L218.8,611.1L219,611L219.2,608L219.4,615.3L219.6,621.4L219.8,609.1L220,614.8L220.2,613.2L220.4,613.5L220.6,613.3L220.8,615.3L221,610.9L221.2,611.7L221.4,618.7L221.6,613.2L221.8,613.1L222,607.3L222.2,614.8L222.4,615.3L222.6,614.2L222.8,618.5L223,606.7L223.2,616.3L223.4,608L223.6,609.9L223.8,606.8L224,616.1L224.2,613L224.4,612L224.6,613.5L224.8,606.6L225,611.4L225.2,614.1L225.4,611.5L225.6,613.3L225.8,608.4L226,614L226.2,612.6L226.4,614.2L226.6,618.5L226.8,613.8L227,611.7L227.2,614.8L227.4,610.2L227.6,618.8L227.8,613.7L228,613.8L228.2,615.3L228.4,609.9L228.6,613.7L228.8,613.1L229,620.4L229.2,618.2L229.4,619.4L229.6,614L229.8,614.4L230,617.1L230.2,611.9L230.4,611.2L230.6,618.7L230.8,615.4L231,615.5L231.2,609L231.4,612.8L231.6,612.7L231.8,612.1L232,615.1L232.3,611.5L232.7,610.8L233,620L233.3,615.8L233.7,611.5L234,620.6L234.3,616.1L234.6,615.6L235,607.1L235,618.9L235.3,615.2L235.6,618.1L236,619.5L236.3,611.1L236.6,619.8L236.9,617L237.3,615L237.6,608.4L237.9,620L238.3,615.5L238.6,616.3L238.9,611.4L239.3,616.2L239.6,616.1L239.9,618.5L240.2,612.1L240.6,608.8L240.9,612.8L241.2,611.8L241.6,615.1L241.9,613.9L242.2,614.9L242.6,617.6L242.9,618.6L243.2,614.4L243.6,610.1L243.9,614.1L244.2,613.6L244.5,613.9L244.9,613.7L245.2,613.9L245.5,608.3L245.9,615.3L246.2,615.2L246.5,614.7L246.8,613.5L247.2,616.1L247.5,609.4L247.8,613.4L248.2,615.2L248.5,612.5L248.8,613.4L249.2,616.1L249.5,613.1L249.8,611.3L250.2,612.3L250.5,614.4L250.8,610.8L251.1,613.4L251.5,612.4L251.8,613.5L252.1,615.2L252.5,615.1L252.8,613.4L253.1,613.8L253.4,615.2L253.8,611.3L254.1,613.6L254.4,610.3L254.8,616.2L255.1,613.4L255.4,609.9L255.8,611.9L256.1,614.9L256.4,612.9L256.8,608.9L257.1,617.3L257.4,613.5L257.7,613.9L258.1,612.2L258.4,610.9L258.7,609.2L259.1,613.2L259.4,612.8L259.7,612.2L260,614.6L260.1,613.6L260.4,610.3L260.7,611.8L261,615.6L261.4,609.5L261.7,618L262,611.6L262.4,619.1L262.7,614L263,609.1L263.4,614.1L263.7,613.2L264,612L264.3,613.2L264.7,613.2L265,605.3L265.3,614.9L265.7,612.4L266,613.2L266.3,614.9L266.6,613.2L267,610.3L267.3,615.2L267.6,612.5L268,613.8L268.3,611.6L268.6,612.9L269,611L269.3,617L269.6,610.9L269.9,615.6L270.3,612.4L270.6,614L270.9,612.7L271.3,615.7L271.6,614L271.9,618.8L272.3,620.3L272.6,612.2L272.9,615.1L273.2,611.3L273.6,611.3L273.9,613.4L274.2,615.7L274.6,615.1L274.9,613.2L275.2,616.3L275.6,611L275.9,611.6L276.2,613.5L276.6,609.6L276.9,616.9L277.2,613.5L277.5,613L277.9,614.8L278.2,610.8L278.5,613.6L278.9,610L279.2,613.5L279.5,614.2L279.9,617.6L280.2,614L280.5,617.1L280.8,614L281,610.3L281.2,615.3L281.5,612.8L281.8,610.4L282.2,612.9L282.5,607.6L282.8,608.2L283.1,609.7L283.2,609.9L283.5,602.3L283.8,599.5L284.1,594L284.3,591.4L284.5,593.4L284.8,594.2L285.1,603.1L285.4,611.4L285.5,606.3L285.8,608.6L286.1,611.8L286.4,610.3L286.8,609.3L287.1,612.5L287.4,613L287.8,612.4L288,614.6L288.1,611.9L288.4,611.6L288.8,612.6L289.1,614.7L289.4,615.1L289.8,613.8L290.1,617.6L290.4,616.5L290.7,615.3L291.1,617.7L291.4,618.6L291.7,616.9L292.1,614.1L292.4,617.2L292.7,618L293.1,616.4L293.4,615.2L293.7,616.1L294,616.3L294.4,611.6L294.7,619L295,615.7L295.4,620L295.7,615.8L296,614L296.4,617.5L296.7,616L297,617.7L297.3,614.9L297.7,614.9L298,614.4L298.3,614.4L298.7,616.8L299,613.3L299.3,616.4L299.6,618.3L300,614L300,615.5L300.3,614.4L300.6,615.2L301,616.4L301.3,617.5L301.6,617.9L302,617L302.3,617.5L302.6,614.8L302.9,613.7L303.3,614.1L303.6,612.1L303.9,616.2L304.3,612.3L304.6,616.6L304.9,621.7L305.3,614.2L305.6,611.8L305.9,617L306.2,614.1L306.6,616.2L306.9,616.2L307.2,616.7L307.6,621L307.9,617L308.2,616.9L308.6,616.2L308.9,614.9L309.2,615.1L309.6,614.2L309.9,618.2L310.2,616.1L310.5,617.8L310.9,614.8L311.2,621.1L311.5,616.4L311.9,617.8L312.2,615.4L312.5,619L312.9,616.2L313.2,616.7L313.5,613.9L313.8,617.8L314.2,620.1L314.5,619.5L314.8,614.6L315.2,618.6L315.5,615.4L315.8,613.5L316.1,614.3L316.5,619.4L316.8,616.2L317.1,614.5L317.5,617.6L317.8,617.6L318.1,616.3L318.5,617.9L318.8,616.2L319.1,619.4L319.4,618.5L319.8,616.9L320.1,617.7L320.4,618.8L320.8,616.8L321.1,618.1L321.4,616.8L321.8,616.2L322.1,613.3L322.4,614.6L322.8,615.1L323,617.2L323.1,622L323.4,614.3L323.7,614.6L324.1,612.3L324.4,613.3L324.7,613L325.1,614L325.4,609.3L325.4,613L325.7,591.7L326.1,569.2L326.2,557.6L326.4,540.1L326.7,508.9L326.9,490.5L327,504.2L327.4,535.7L327.6,560.5L327.7,564.5L328,589.4L328.4,615L328.4,610.9L328.7,615.1L329,612.5L329.4,615.7L329.7,617.8L330,620.3L330,618.1L330.3,620.6L330.7,615.6L331,617.7L331.3,618.1L331.7,618.3L332,617.9L332.3,621.7L332.6,617.5L333,620.1L333.3,619.1L333.6,622.2L334,617.9L334.3,619.7L334.6,619.4L335,612.4L335.3,619.2L335.6,620.4L335.9,621.3L336.3,616.5L336.6,618.2L336.9,621.8L337.3,616.5L337.6,617.1L337.9,619.7L338.3,619.9L338.6,621.2L338.9,620.8L339.2,618.9L339.6,616.8L339.9,617.6L340.2,618.8L340.6,619.5L340.9,619L341.2,620.4L341.6,617.5L341.9,618.2L342.2,616.6L342.6,622.7L342.9,616.5L343.2,620.8L343.5,621.4L343.9,619.8L344.2,618.8L344.5,618.2L344.9,618.7L345,616.1L345.2,617.1L345.5,617.5L345.9,614.8L346.2,613.8L346.2,613.6L346.5,598.2L346.8,580.8L347.1,567.6L347.2,572.9L347.5,586.9L347.8,601.4L348,613.7L348.2,615.3L348.5,623.4L348.8,626.6L349,631L349.1,629.4L349.5,625.2L349.8,621.4L350,623.9L350.1,621.7L350.5,619.1L350.8,618.4L351.1,621.1L351.5,622.3L351.8,621.8L352.1,623.4L352.4,622L352.8,622.3L353.1,618.2L353.4,623.8L353.8,620.6L354.1,623.2L354.4,618.9L354.8,620.1L355.1,623.7L355.4,619.6L355.8,622.1L356.1,621.1L356.4,624.8L356.7,622.5L357.1,624.1L357.4,621.9L357.7,619.1L358.1,625.5L358.4,621.1L358.7,622.2L359.1,622.1L359.4,619.5L359.5,623.4L359.7,619.4L360,613.8L360.3,611.6L360.4,608.9L360.7,604.7L361,598.9L361.1,597.7L361.4,603L361.7,609.2L361.9,615L362,615.1L362.4,617.5L362.7,619.1L363,621.1L363,621.5L363.3,623.7L363.7,622.3L364,625.5L364.3,624.4L364.7,620.8L365,623.8L365.3,625.1L365.6,622L366,625.1L366.3,621.8L366.6,625.7L367,624L367.3,622.7L367.6,620.3L368,622.9L368.3,621.8L368.6,623.7L368.9,621.6L369.3,623.8L369.6,622.3L369.9,624L370.3,624.4L370.6,623.3L370.9,623.9L371.3,624.8L371.6,621.5L371.9,624L372.2,623.5L372.6,625.6L372.9,622.8L373.2,624.6L373.6,620.3L373.9,625.1L374.2,623.7L374.6,623.7L374.9,624.5L375.2,621.1L375.6,622.7L375.8,623.2L375.9,623.7L376.2,628.2L376.5,635.3L376.7,636L376.9,633L377.2,628.3L377.5,625.2L377.6,625L377.9,623L378.2,621.2L378.5,617.3L378.9,617.6L379,616.6L379.2,614.7L379.5,614.6L379.8,608.3L379.9,608.6L380.2,611.4L380.5,614.1L380.8,617.1L380.9,615.8L381.2,618L381.5,620.8L381.8,621.3L382.1,621.3L382.5,622.9L382.8,622.8L383,623.7L383.1,626.7L383.5,623.3L383.8,620.4L384.1,619.8L384.5,621.9L384.8,623.3L385.1,628L385.4,622.9L385.8,623.2L386.1,623.9L386.4,621.5L386.8,622.9L387.1,623.4L387.4,622.3L387.8,621.7L388.1,623.7L388.4,624.5L388.8,623L389.1,619.4L389.4,621.7L389.7,622.2L390.1,623.5L390.4,622.1L390.7,622.2L391.1,624.2L391.4,624.6L391.7,622.9L392.1,621.1L392.4,620.9L392.7,623.7L393,621.6L393.4,622.7L393.7,622.4L394,622.9L394.4,623.1L394.7,621.1L395,621.7L395.4,622.9L395.7,622.6L396,620.6L396,625.3L396.3,620.4L396.7,623.8L397,619.8L397.3,623.4L397.7,619.3L398,623L398.3,621.8L398.6,622.6L399,620.2L399.3,621.5L399.6,621.4L400,621.1L400.3,620L400.6,622.5L401,617.9L401.3,618.2L401.6,618.1L401.9,622L402.3,618.7L402.6,618.7L402.9,618.6L403.3,619L403.6,619L403.9,618.5L404.3,616.9L404.6,619.5L404.9,618.8L405.2,620.8L405.6,619.1L405.7,618.4L405.9,616.2L406.2,617.9L406.6,618.2L406.9,619.3L407.2,617.1L407.6,617.3L407.9,616.6L408.2,617.6L408.6,616.5L408.9,614.6L409.2,612.1L409.5,616L409.9,613.4L410.2,611.7L410.5,610.5L410.5,609.9L410.9,611.7L411.2,610.1L411.5,609.7L411.9,610L412.2,606.4L412.5,606.7L412.6,605.2L412.8,601.3L413.2,594.7L413.5,592L413.6,591.7L413.8,594L414.2,599.4L414.5,603.4L414.7,608.8L414.8,608.5L415.1,607L415.4,608.4L415.5,610.2L415.8,607.5L416.1,605.8L416.5,605.8L416.5,604.8L416.8,605.5L417.1,610.8L417.5,608.6L417.8,607.6L418.1,611.2L418.4,612.5L418.8,615.9L418.9,614.5L419.1,613.5L419.4,615.3L419.8,613.6L420.1,615.2L420.4,616.6L420.8,615.4L421.1,614.3L421.4,616.1L421.8,616.9L422.1,619.2L422.4,618.2L422.5,618.9L422.7,617.8L423.1,619.4L423.4,618.6L423.7,620.4L424.1,620.1L424.4,621.9L424.7,620.9L425.1,619.8L425.4,619.3L425.7,620.9L426,621.8L426.4,623.1L426.7,620.4L427,619.5L427.3,619L427.4,620.1L427.7,621.2L428,621.1L428.4,621L428.7,621.4L429,621.9L429.3,619.2L429.7,621.5L430,621.3L430.3,621.3L430.7,620.9L431,619L431.3,622.1L431.6,620.9L432,621.4L432.3,622L432.6,621.6L433,622.1L433.3,622.2L433.6,620.4L434,620.1L434.3,622.7L434.6,620.6L434.9,624.5L435.3,620.2L435.6,621.9L435.9,621.6L436.3,622.1L436.6,620.5L436.9,622.2L437.3,624.4L437.6,621L437.9,618.8L438.2,622.6L438.6,622.3L438.9,622.7L439.2,620.7L439.6,622.4L439.9,623L440,621.2L440.2,621.9L440.6,622.5L440.9,622.8L441.2,621.5L441.6,622.1L441.9,624.5L442.2,624.5L442.5,620.5L442.9,624.7L443.2,621.3L443.5,623.2L443.9,620.2L444.2,621.6L444.5,621L444.9,622.9L445.2,622.1L445.5,622.4L445.8,622.3L446.2,622.1L446.5,623L446.8,622L447.2,621.7L447.5,621L447.8,620.7L448.1,621.1L448.5,622.3L448.8,623.1L449.1,621.7L449.5,624.4L449.8,623.4L450.1,621.9L450.5,622.3L450.8,621.8L451.1,619.5L451.4,622.9L451.8,622.1L452.1,619.7L452.4,622.9L452.8,621.1L453.1,621.5L453.4,619.6L453.8,621.8L454.1,622.4L454.4,621.3L454.8,621.8L455,619.4L455.1,622.5L455.4,621.7L455.7,621.8L456.1,622.7L456.4,623.2L456.7,621.8L457.1,623L457.4,624.2L457.7,620.5L458.1,622L458.4,619.8L458.7,622.4L459,623.7L459.4,621.8L459.7,620.5L460,621.3L460,622.5L460.4,619.9L460.7,619.9L461,622.2L461.4,619.7L461.7,621.4L462,619.8L462.3,619L462.7,622L463,622.2L463.3,619.7L463.7,623.5L464,620.7L464.3,621L464.6,620.4L465,618.7L465.3,621.3L465.6,620L466,620.4L466.3,619.8L466.6,619L467,622.3L467.3,619.8L467.6,618.8L467.9,619.8L468.3,617.3L468.3,619.3L468.6,621.8L468.9,617.1L469.3,618L469.6,615.5L469.9,616.5L470.3,617.4L470.6,614.2L470.9,613.8L471.2,616L471.6,614.4L471.9,614.4L471.9,614.2L472.2,611.5L472.6,610.5L472.9,609.9L473.2,612.4L473.6,609.6L473.9,608.7L474.2,609.8L474.6,609.9L474.9,610L475.2,607L475.5,610.5L475.5,607.6L475.9,608.3L476.2,607.5L476.5,605.7L476.9,606.8L477.2,606.1L477.5,606.4L477.9,606.8L478.2,606.5L478.5,604.4L478.8,603.4L479.2,601.5L479.5,598.1L479.8,601.2L480.2,599.3L480.5,599.1L480.8,598.2L480.9,599.2L481.1,597.7L481.5,600.5L481.8,598L482.1,595.6L482.5,596L482.8,596.7L483.1,592.8L483.5,593.9L483.8,592.3L484.1,592.4L484.4,591.1L484.8,591.2L485.1,590.9L485.4,590.6L485.4,587.4L485.8,585.7L486.1,580.4L486.4,575.1L486.5,574.8L486.8,568L487.1,554.5L487.2,551L487.4,559.3L487.8,569.5L487.9,575.8L488.1,577.9L488.4,584.2L488.7,586.7L489.1,591.8L489.3,597.1L489.4,598L489.7,596.7L490.1,598.5L490.4,598.2L490.7,598.2L491.1,596.7L491.4,601.9L491.7,601.3L492,597.7L492.4,602L492.7,600.9L492.8,600.5L493,601.2L493.4,603.1L493.7,602.4L494,602.5L494.4,602.8L494.7,602.8L495,604.2L495.3,601.4L495.7,602.5L496,604.2L496.3,603.2L496.7,605.1L497,604.8L497.3,606L497.6,605.6L498,606.8L498.2,606.2L498.3,606.5L498.6,603.5L499,600.1L499.3,600.5L499.4,600L499.6,578.9L500,551.4L500.3,521.5L500.3,521.9L500.6,495L500.9,469.7L501.2,451L501.3,458.9L501.6,481.6L501.9,508.4L502.1,520L502.3,534.8L502.6,565.6L502.9,594.9L503,600.9L503.3,602.8L503.6,608L503.9,610.2L503.9,612.8L504.2,608.8L504.6,608.2L504.9,607.7L505.2,604.8L505.2,603L505.6,583.5L505.9,568.8L506,558.6L506.2,458.7L506.4,362.9L506.6,316.5L506.7,249.4L506.9,250.2L507.2,251.1L507.6,247.6L507.9,251.2L507.9,250.6L508.1,364.9L508.2,386.5L508.5,503.4L508.7,561.5L508.9,569.6L509.2,588.8L509.4,601.9L509.5,603.6L509.9,606L510.2,609.8L510.5,613L510.7,616L510.9,614.1L511.2,614.5L511.5,616.4L511.8,617L512.2,618.2L512.5,620.3L512.8,618.2L513.2,620.8L513.5,622.3L513.7,622.7L513.8,619.5L514.1,621L514.5,622.9L514.8,621.5L515.1,622.1L515.5,621.6L515.8,623.3L516.1,622.2L516.5,621.6L516.8,622.2L517.1,623.8L517.5,622.7L517.8,620.4L518.1,620L518.4,623.3L518.8,620.6L519.1,622.8L519.4,621.9L519.8,623L520,622L520.1,620.1L520.4,624.5L520.8,622.8L521.1,622.7L521.4,624.7L521.7,623.7L522.1,624.3L522.4,622.8L522.7,623.2L523.1,623.6L523.4,622.4L523.7,624.1L524,623.7L524.4,622.9L524.7,622.8L525,624.3L525.4,623.1L525.7,623.8L526,623.7L526.4,623.2L526.7,619.8L527,623.9L527.4,624.5L527.7,622.9L528,622.9L528.3,624.7L528.7,622.4L529,625.1L529.3,624.4L529.7,625.4L530,623.8L530.3,624L530.6,624.3L531,622.3L531.3,623L531.6,625.3L532,623.3L532.3,623.1L532.6,624.5L533,625.7L533.3,624.2L533.6,624L534,624.3L534.3,624.8L534.6,622.6L534.9,624.8L535.3,624.9L535.6,625.7L535.9,625.7L536.3,625.3L536.6,626.9L536.9,624.7L537.2,624.6L537.6,626.5L537.9,624.9L538.2,624.2L538.6,624.3L538.9,624.9L539.2,623.4L539.6,626.1L539.9,625.3L540.2,626.5L540.5,623.9L540.9,624.7L541.2,624.4L541.5,625.8L541.9,625.7L542.2,626.2L542.5,626.2L542.9,624L543.2,625.7L543.5,625.5L543.9,625.4L544.2,626.2L544.5,623L544.8,624.6L545.2,625.2L545.5,624.5L545.8,624L546.2,627L546.5,627L546.8,628.3L547.1,624.4L547.5,622.3L547.8,626.8L548.1,625.3L548.5,624.2L548.8,626.7L549.1,625.8L549.5,623.2L549.6,626.1L549.8,623.3L550.1,626.9L550.5,624L550.8,623.6L551.1,627.5L551.4,627.9L551.8,625.9L552.1,624.4L552.4,627.5L552.8,626.8L553.1,627L553.4,626L553.8,624L554.1,625.9L554.4,629.5L554.7,625.7L555.1,626.8L555.4,626.9L555.7,629L556.1,627.7L556.4,626.4L556.7,631.1L557,627.7L557.4,628.1L557.7,626.2L558,624.4L558.4,628.6L558.7,627L559,628.5L559.4,623.1L559.7,631.5L560,628.1L560.4,629.8L560.7,625.8L561,628.4L561.3,628.6L561.7,630.8L562,630.1L562.3,624L562.7,629L563,628.9L563.3,628L563.6,629.2L564,630.1L564.3,631L564.5,626.4L564.6,627L565,629L565.3,630.4L565.6,626.7L566,628.9L566.3,626L566.6,628.9L567,628.4L567.3,630L567.6,631.9L567.9,627.1L568.3,629.8L568.6,625.3L568.9,629.5L569.3,632.8L569.6,625.3L569.9,627.6L570.2,621.5L570.6,629.7L570.9,633.7L571.2,626.6L571.6,629.5L571.9,631.9L572.2,627L572.6,629.2L572.9,627L573.2,627.6L573.5,628.8L573.9,630.7L574.2,629.2L574.5,628.6L574.9,641.7L575.2,631.2L575.5,629.9L575.9,629.6L576.2,624.3L576.5,628.2L576.9,626.1L577.2,632.8L577.5,630.2L577.8,632.1L578.2,626.7L578.5,625L578.8,626.7L579.2,630.1L579.5,627L579.8,630.3L580.1,631.8L580.5,627.8L580.8,631L581.1,623.3L581.5,625.6L581.8,627.1L582.1,627.7L582.5,625.1L582.8,627.6L583.1,631.1L583.5,630.6L583.8,629.6L584.1,626.3L584.4,632L584.8,630.1L585.1,626L585.4,630.9L585.8,627.6L586.1,629.8L586.4,629.4L586.8,629.9L587.1,632.2L587.4,634.7L587.7,629.4L588.1,628.8L588.4,628.4L588.7,629.6L589.1,630L589.4,625.2L589.7,628.7L590,634.2L590.4,630.4L590.7,631.2L591,628.4L591.4,633.9L591.7,630L592,627.7L592.4,626.6L592.7,629.7L593,632.9L593.4,626.8L593.7,625.9L594,622.5L594.3,630.6L594.7,625.6L595,626.5L595.3,625.6L595.7,626.1L596,630.3L596.3,626.3L596.6,628.7L597,626.4L597.3,627.3L597.6,629.9L598,629.9L598.3,625.2L598.6,628.2L599,625.7L599.3,630L599.6,626.5L600,625.7L600,630.2L600.3,626.6L600.6,628.4L600.9,629.9L601.3,626.6L601.6,627.2L601.9,629.6L602.3,633.9L602.6,629.5L602.9,629.9L603.2,628L603.6,627.8L603.9,631.8L604.2,626L604.6,626.1L604.9,631.8L605.2,625.8L605.6,624.6L605.9,629.1L606.2,630.4L606.5,632.4L606.9,633.6L607.2,621.9L607.5,627.3L607.9,626.9L608.2,628.7L608.5,625.5L608.9,627.9L609.2,628.5L609.5,628.2L609.9,625.5L610.2,628.3L610.5,625.4L610.8,625.4L611.2,627L611.5,629.8L611.8,622.3L612.2,627.5L612.5,631.3L612.8,628L613.1,626.2L613.5,628.2L613.8,631.7L614.1,627.1L614.5,625.7L614.8,629.5L615.1,626.8L615.5,625.6L615.8,629.7L616.1,625.2L616.5,626.6L616.8,631L617.1,627.8L617.4,630.8L617.8,622.6L618.1,623.3L618.4,625.3L618.8,627L619.1,622.2L619.4,627.9L619.8,625.8L620.1,625.9L620.4,627.3L620.7,626.5L621.1,624L621.4,626.6L621.7,624L622.1,630.7L622.4,625.9L622.7,626.4L623,625.4L623.4,627.2L623.7,627.7L624,626.7L624.4,624.3L624.7,630L625,627L625.4,622L625.7,621L626,624L626.4,623.8L626.7,622.5L627,624.3L627.3,627.8L627.7,630.3L628,627.5L628.3,627.8L628.7,629.9L629,632.7L629.3,629.9L629.6,628.5L630,626.5L630.3,624.1L630.6,627.9L631,630L631.3,627.6L631.6,625.3L632,628.3L632.3,626.5L632.6,625.1L633,621.4L633.3,628.2L633.6,624.9L633.9,629.8L634.3,624.9L634.6,626.9L634.9,625.1L635.3,631.4L635.6,630.3L635.9,626.6L636.2,630.5L636.6,623.2L636.9,628.3L637.2,625.1L637.6,626.2L637.9,625.3L638.2,628.2L638.6,621.7L638.9,625.3L639.2,630.2L639.5,620.3L639.9,625.9L640,622.9L640.2,619.2L640.5,627.5L640.9,625.1L641.2,629.9L641.5,621.4L641.9,627.5L642.2,630.7L642.5,621.4L642.9,628.2L643.2,628.3L643.5,627L643.8,630.2L644.2,628.2L644.5,624.4L644.8,641.3L645.2,626L645.5,630.9L645.8,626L646.1,628.8L646.5,625.9L646.8,628.1L647.1,627.8L647.5,629.7L647.8,631.3L648.1,624.9L648.5,623.2L648.8,626.1L649.1,626.2L649.5,627L649.8,629L650.1,625.1L650.4,626.3L650.8,626.3L651.1,629.3L651.4,625.1L651.8,629.6L652.1,631.6L652.4,625.6L652.8,630.2L653.1,627.8L653.4,626.1L653.7,631.8L654.1,629.7L654.4,625.4L654.7,627.8L655.1,624.4L655.4,622.4L655.7,629.1L656,626.2L656.4,630.8L656.7,626.7L657,627L657.4,607.9L657.7,626.7L658,624L658.4,625.5L658.7,621.3L659,621.1L659.4,622.3L659.7,624.4L660,625.8L660.3,625.6L660.7,629.3L661,632.9L661.3,619.3L661.7,630L662,628.6L662.3,624.4L662.6,626.4L663,620.5L663.3,625.3L663.6,630.3L664,622.6L664.3,624.2L664.6,626.1L665,627.7L665.3,625.9L665.6,624.3L666,627.6L666.3,624.1L666.6,632.5L666.9,629.2L667.3,626L667.6,623.5L667.9,624.1L668.3,623.6L668.6,624.7L668.9,629.7L669.2,622L669.6,626.1L669.9,625.6L670.2,622.9L670.6,629.2L670.9,626.9L671.2,626.4L671.6,623.9L671.9,623.5L672.2,625.6L672.5,621.4L672.9,626.5L673.2,622.3L673.5,625.4L673.9,627.3L674.2,624.7L674.5,623.6L674.9,623.3L675.2,625.7L675.5,622.2L675.9,625.4L676.2,628L676.5,620L676.8,623L677.2,626L677.5,622.1L677.8,622.3L678.2,621.7L678.5,627.6L678.8,619.1L679.1,624.8L679.5,624.5L679.8,625.1L680.1,622.8L680.5,625.2L680.8,623.5L681.1,641.1L681.5,632.2L681.8,627.8L682.1,621.9L682.5,622.9L682.8,626.1L683.1,628.9L683.4,624.3L683.6,626.9L683.8,625.4L684.1,628L684.4,623.1L684.8,622.4L685.1,625.2L685.4,625.1L685.8,624.4L686.1,627.6L686.4,626L686.7,624.2L687.1,620.6L687.4,625.7L687.7,626.1L688.1,621.7L688.4,623.2L688.7,620.2L689,623.6L689.4,622.5L689.7,618.1L690,623L690.4,602.9L690.7,621.8L691,625.5L691.4,623.8L691.7,624.8L692,621.5L692.4,625.7L692.7,620.2L693,623.9L693.3,618.3L693.7,622.4L694,619.4L694.3,618.3L694.7,623.1L695,621.9L695,622.6L695.3,621.3L695.6,621.6L696,620.7L696.3,620.2L696.6,620.5L697,624.7L697.3,617.8L697.6,616.6L698,617.5L698.3,617.8L698.6,619.8L699,620.6L699.3,620.4L699.6,617.8L699.9,619.1L700.3,620.8L700.6,618.5L700.9,619.4L701.3,615.3L701.5,618.3L701.6,617.8L701.9,613L702.2,613.9L702.6,613.6L702.9,609.6L703.2,611.4L703.6,610.2L703.9,607.7L704.2,605.7L704.6,604.3L704.9,603.9L705.2,603.9L705.5,598.3L705.9,599.7L706.2,598.4L706.5,595.2L706.9,593.2L707.2,593.7L707.5,589.9L707.5,593.1L707.9,590.9L708.2,588.1L708.5,588.7L708.9,585.9L709.2,584.7L709.5,586.7L709.8,582L710.2,577.5L710.5,581.1L710.8,577.4L711.2,576.4L711.5,579.2L711.8,575.1L711.9,576.3L712.1,570.2L712.5,567.7L712.8,565L713.1,564.6L713.5,559.1L713.8,553.9L714.1,555.4L714.5,550.2L714.8,548.2L715.1,546.3L715.5,545.6L715.8,538.7L716.1,538.5L716.4,530.7L716.4,533.1L716.8,531.7L717.1,525.7L717.4,526.2L717.8,525L718.1,525.5L718.4,522.2L718.8,520.6L719.1,518.6L719.4,518.9L719.4,518L719.7,516.6L720.1,515L720.4,515.2L720.7,511.4L721.1,511.3L721.4,510L721.7,509.2L722,509L722.4,506.5L722.7,502.2L723,505.1L723,504.8L723.4,499.6L723.7,493.6L724,484L724.4,481.2L724.7,477.5L725,472.2L725.4,465.2L725.4,464.8L725.7,454.3L726,447.1L726.3,432.9L726.7,426.3L726.9,421.5L727,412.4L727.3,399.2L727.7,382.9L727.8,371.9L728,383.7L728.3,405.7L728.6,423L728.6,428.4L729,435L729.3,452.5L729.3,450L729.6,445.7L730,435.2L730.1,434.5L730.3,441L730.6,456.3L731,466.2L731.3,478.9L731.3,481.5L731.6,484L732,490.3L732.3,499L732.6,503.8L732.8,512.4L732.9,510.6L733.3,513L733.6,514.1L733.9,511.3L734.3,521.3L734.6,521L734.9,519.8L735.2,523.7L735.6,527.8L735.9,532.2L736.2,532.8L736.6,535L736.9,537.1L737.2,537.1L737.3,538L737.6,540.8L737.9,540.3L738.2,544.7L738.5,547.8L738.9,544.4L739.2,550.2L739.5,552.1L739.9,554.7L740.2,559.6L740.5,556L740.9,563.9L741.2,563.6L741.5,568.8L741.8,565.4L741.9,567L742.2,568.1L742.5,571.2L742.8,570.7L743.2,572.8L743.5,575.9L743.8,579.3L744.2,577.8L744.5,581.5L744.8,582.9L745.1,586.5L745.5,589.5L745.8,587.3L746.1,590.1L746.3,592.2L746.5,590.8L746.8,594.7L747.1,594.8L747.5,592.7L747.8,591.9L748.1,588.5L748.5,588.4L748.5,590.8L748.8,590.6L749.1,584.8L749.4,583.4L749.8,583.3L749.9,582.5L750.1,579.5L750.4,585L750.8,589L751,587L751.1,589.8L751.4,593.4L751.8,594.5L752.1,598.9L752.2,598.1L752.4,596.9L752.7,599.7L753.1,600.1L753.4,603.5L753.7,608.9L754.1,610.3L754.4,612.7L754.7,616.1L755,613.6L755.2,615.7L755.4,617L755.7,620.5L756,618.1L756.4,617.5L756.7,618.8L757,616.4L757.4,614.1L757.7,620.4L758,618.4L758.4,621.1L758.7,617L759,618L759.3,623.1L759.7,621.8L760,624.5L760.2,619.7L760.4,622.2L760.6,624.4L760.8,625.3L761,622.5L761.2,623.8L761.4,622.6L761.6,622.5L761.8,622.8L762,624.7L762.2,618.4L762.4,623.1L762.6,619.5L762.8,623.4L763,622.4L763.2,624.1L763.4,622.5L763.6,622.9L763.8,618L764,629.2L764.2,618.1L764.4,616L764.6,625.2L764.8,626.3L765,623.5L765.2,622.5L765.4,619.1L765.6,632.1L765.8,616.6L766,634.5L766.2,617.1L766.4,619.7L766.6,623.3L766.8,622.4L767,626.8L767.2,620.6L767.4,623L767.6,617.1L767.8,630.5L768,623.4L768.2,621.2L768.4,625.1L768.6,629.6L768.8,627L769,621.7L769.2,626.2L769.4,627.3L769.6,627.8L769.8,624.1L770,629.4L770.2,620L770.4,626.6L770.6,621.7L770.8,626.5L771,623L771.2,630.1L771.4,624.2L771.6,633.2L771.8,621.3L772,632.5L772.2,621.9L772.4,612.5L772.6,621.1L772.8,632.1L773,628.2L773.2,630L773.4,624.8L773.6,629.3L773.8,621.3L774,638L774.2,637.3L774.4,630.4L774.6,624.1L774.8,623.7L775,631.8L775.2,630.3L775.4,622.5L775.6,633.1L775.8,634.2L776,632.4L776.2,631.5L776.4,630.7L776.6,629.3L776.8,627.4L777,625.5L777.2,638.1L777.4,619.4L777.6,630.8L777.8,636.1L778,646.3L778.2,620.4L778.4,640.3L778.6,639.9L778.8,637.8L779,644.4L779.2,619.5L779.4,638.7L779.6,631.1L779.8,635.2L780,631.2L780.2,626.1L780.4,618.6L780.6,635.8L780.8,631L781,622.8L781.2,632L781.4,624.6L781.6,626.5L781.8,634.7L782,639.5L782.2,618.4L782.4,632.9L782.6,638.4L782.8,623.8L783,631.4L783.2,636.6L783.4,641.7L783.6,625L783.8,621.1L784,629.4L784.2,630.4L784.4,634.4L784.6,635.2L784.8,618.7L785,641L785.2,621.1L785.4,638.2L785.6,639.7L785.8,639.1L786,638.3L786.2,638.9L786.4,629.1L786.6,628.8L786.8,654.8L787,650.3L787.2,648.5L787.4,644L787.6,622.5L787.8,653.8L788,635.1L788.2,636.8" fill="none" stroke="#000" stroke-width="1" stroke-linejoin="round"/>
</g>
<line x1="110.3" y1="628.3" x2="788.9" y2="628.7" stroke="#00f" stroke-width="1.5"/>
<path d="M110.3,669.2L200,667.2L290,665.2L304.5,664.8L318.9,666.2L340.6,667.1L350.2,668.8L357.5,671.2L362.3,673.6L366,674.3L788.9,674.3" fill="none" stroke="#800080" stroke-width="1.9" stroke-linejoin="round"/>
<path d="M110.3,673.4L111.8,673L113.3,672.5L114.8,672.1L116.3,671.7L117.8,671.3L119.3,670.9L120.8,670.6L122.3,670.2L123.8,669.8L125.3,669.7L126.8,669.7L128.3,669.6L129.8,669.6L131.3,669.5L132.8,669.4L134.3,669.4L135.8,669.3L137.3,669.4L138.8,669.5L140.3,669.6L141.8,669.7L143.3,669.8L144.8,669.2L146.3,668.6L147.8,668L149.3,667.4L150.8,666.9L152.3,667.2L153.8,667.5L155.3,667.8L156.8,668L158.3,668.3L159.8,668.6L161.3,668.7L162.8,668.9L164.3,669L165.8,669.1L167.3,669.3L168.8,669.4L170.3,669.6L171.8,669.9L173.3,670.2L174.8,670.5L176.3,670.9L177.8,670.7L179.3,670.2L180.8,669.7L182.3,669.2L183.8,668.7L185.3,668.2L186.8,667.7L188.3,667.1L189.8,667.1L191.3,667.5L192.8,667.9L194.3,668.8L195.8,669.8L197.3,669.6L198.8,668.6L200.3,667.9L201.8,667.2L203.3,667.3L204.8,668L206.3,668.6L207.8,669L209.3,669.4L210.8,669.8L212.3,669.5L213.8,669.2L215.3,668.9L216.8,668.6L218.3,669.2L219.8,669.9L221.3,670.6L222.8,671.2L224.3,671.8L225.8,672.2L227.3,672.1L228.8,672.1L230.3,672L231.8,671.9L233.3,671.9L234.8,671.8L236.3,671.7L237.8,671.6L239.3,671.4L240.8,671.3L242.3,671.2L243.8,671.1L245.3,670.9L246.8,670.5L248.3,670.2L249.8,669.9L251.3,669.6L252.8,669.2L254.3,669L255.8,668.7L257.3,668.5L258.8,668.2L260.3,668L261.8,667.9L263.3,668.2L264.8,668.4L266.3,668.7L267.8,669L269.3,669.3L270.8,669.5L272.3,669.6L273.8,669.8L275.3,669.9L276.8,670.1L278.3,670.2L279.8,670.3L281.3,670.4L282.8,670.4L284.3,670.5L285.8,670.6L287.3,670.7L288.8,670.8L290.3,670.9L291.8,670.9L293.3,671.1L294.8,671.3L296.3,671.5L297.8,671.7L299.3,671.9L300.8,672L302.3,672L303.8,672L305.3,672L306.8,672L308.3,672.1L309.8,672.1L311.3,672.1L312.8,672.1L314.3,672.1L315.8,672.1L317.3,672.1L318.8,672.1L320.3,672.1L321.8,672.1L323.3,672.2L324.8,672.2L326.3,672.2L327.8,672.2L329.3,672.2L330.8,672.2L332.3,672.2L333.8,672.2L335.3,672.2L336.8,672.2L338.3,672.2L339.8,672.2L341.3,672.2L342.8,672.2L344.3,672.2L345.8,672.2L347.3,672.2L348.8,672.2L350.3,672.2L351.8,672.2L353.3,672.2L354.8,672.2L356.3,672.2L357.8,672.2L359.3,672.2L360.8,672.2L362.3,672.2L363.8,672.2L365.3,672.2L366.8,672.2L368.3,672.2L369.8,672.2L371.3,672.2L372.8,672.2L374.3,672.2L375.8,672.1L377.3,672.1L378.8,672.1L380.3,672.1L381.8,672.1L383.3,672.1L384.8,672.1L386.3,672.1L387.8,672.1L389.3,672.1L390.8,672.1L392.3,672L393.8,672L395.3,672L396.8,672L398.3,672L399.8,672L401.3,672L402.8,671.9L404.3,671.9L405.8,671.9L407.3,671.8L408.8,671.8L410.3,671.8L411.8,671.7L413.3,671.7L414.8,671.6L416.3,671.6L417.8,671.6L419.3,671.5L420.8,671.5L422.3,671.5L423.8,671.4L425.3,671.4L426.8,671.2L428.3,671L429.8,670.9L431.3,670.7L432.8,670.5L434.3,670.4L435.8,670.2L437.3,670L438.8,669.9L440.3,669.9L441.8,670.1L443.3,670.2L444.8,670.4L446.3,670.6L447.8,670.7L449.3,670.9L450.8,671.1L452.3,671.2L453.8,671.3L455.3,671.3L456.8,671.4L458.3,671.5L459.8,671.5L461.3,671.6L462.8,671.7L464.3,671.7L465.8,671.8L467.3,671.9L468.8,671.9L470.3,672L471.8,672L473.3,672L474.8,672L476.3,672L477.8,672L479.3,672L480.8,672L482.3,672L483.8,671.9L485.3,671.9L486.8,671.9L488.3,671.9L489.8,671.9L491.3,671.9L492.8,671.9L494.3,671.9L495.8,671.9L497.3,671.9L498.8,671.9L500.3,671.9L501.8,671.9L503.3,671.9L504.8,671.9L506.3,671.9L507.8,671.8L509.3,671.8L510.8,671.8L512.3,671.8L513.8,671.8L515.3,671.8L516.8,671.8L518.3,671.8L519.8,671.8L521.3,671.8L522.8,671.7L524.3,671.7L525.8,671.6L527.3,671.6L528.8,671.5L530.3,671.5L531.8,671.4L533.3,671.4L534.8,671.4L536.3,671.3L537.8,671.3L539.3,671.2L540.8,671.2L542.3,671.3L543.8,671.3L545.3,671.4L546.8,671.4L548.3,671.4L549.8,671.5L551.3,671.5L552.8,671.6L554.3,671.6L555.8,671.7L557.3,671.7L558.8,671.8L560.3,671.8L561.8,671.8L563.3,671.8L564.8,671.8L566.3,671.8L567.8,671.8L569.3,671.8L570.8,671.9L572.3,671.9L573.8,671.9L575.3,671.9L576.8,671.9L578.3,671.9L579.8,671.9L581.3,671.9L582.8,671.9L584.3,671.9L585.8,671.9L587.3,671.9L588.8,671.9L590.3,672L591.8,672L593.3,672L594.8,672L596.3,672L597.8,672L599.3,672L600.8,672L602.3,672L603.8,672L605.3,672L606.8,672L608.3,672L609.8,672L611.3,672L612.8,672L614.3,672L615.8,672L617.3,672L618.8,672L620.3,672L621.8,672L623.3,672L624.8,672L626.3,671.9L627.8,671.9L629.3,671.9L630.8,671.9L632.3,671.9L633.8,671.9L635.3,671.9L636.8,671.9L638.3,671.9L639.8,671.9L641.3,671.9L642.8,671.9L644.3,671.9L645.8,671.9L647.3,671.9L648.8,671.9L650.3,671.9L651.8,671.9L653.3,671.9L654.8,671.9L656.3,671.9L657.8,671.9L659.3,671.9L660.8,671.9L662.3,671.9L663.8,671.9L665.3,671.9L666.8,671.9L668.3,671.9L669.8,671.9L671.3,671.9L672.8,671.9L674.3,671.9L675.8,671.8L677.3,671.8L678.8,671.8L680.3,671.8L681.8,671.8L683.3,671.8L684.8,671.8L686.3,671.8L687.8,671.8L689.3,671.8L690.8,671.8L692.3,671.8L693.8,671.8L695.3,671.8L696.8,671.8L698.3,671.8L699.8,671.8L701.3,671.8L702.8,671.8L704.3,671.8L705.8,671.8L707.3,671.8L708.8,671.8L710.3,671.8L711.8,671.8L713.3,671.8L714.8,671.8L716.3,671.8L717.8,671.8L719.3,671.8L720.8,671.8L722.3,671.9L723.8,671.9L725.3,671.9L726.8,671.9L728.3,671.9L729.8,671.9L731.3,671.9L732.8,671.9L734.3,671.9L735.8,671.9L737.3,671.9L738.8,671.9L740.3,671.9L741.8,671.9L743.3,671.9L744.8,671.9L746.3,671.9L747.8,671.9L749.3,671.9L750.8,671.9L752.3,671.9L753.8,671.9L755.3,671.9L756.8,671.9L758.3,671.9L759.8,671.9L761.3,671.9L762.8,671.9L764.3,671.9L765.8,671.9L767.3,672L768.8,672L770.3,672L771.8,672L773.3,672L774.8,672L776.3,672L777.8,672L779.3,672L780.8,672L782.3,672L783.8,672L785.3,672L786.8,672L788.3,672" fill="none" stroke="#0f0" stroke-width="2.2" stroke-linejoin="round"/>
<path d="M110.3,622.8L111.8,622.4L113.3,622L114.8,621.6L116.3,621.2L117.8,620.8L119.3,620.5L120.8,620.1L122.3,619.7L123.8,619.3L125.3,619L126.8,618.7L128.3,618.5L129.8,618.2L131.3,618L132.8,617.7L134.3,617.5L135.8,617.2L137.3,617L138.8,616.8L140.3,616.6L141.8,616.5L143.3,616.3L144.8,616.1L146.3,616L147.8,615.8L149.3,615.6L150.8,615.5L152.3,615.7L153.8,615.8L155.3,616L156.8,616.1L158.3,616.3L159.8,616.4L161.3,616.6L162.8,616.7L164.3,616.8L165.8,617L167.3,617.1L168.8,617.3L170.3,617.4L171.8,617.5L173.3,617.7L174.8,617.8L176.3,617.9L177.8,617.8L179.3,617.3L180.8,616.7L182.3,616.2L183.8,615.8L185.3,615.4L186.8,615L188.3,614.5L189.8,614.5L191.3,615L192.8,615.4L194.3,616.1L195.8,616.9L197.3,616.7L198.8,615.9L200.3,615.2L201.8,614.6L203.3,614.5L204.8,614.8L206.3,615.1L207.8,615.4L209.3,615.6L210.8,615.9L212.3,616.1L213.8,616.4L215.3,616.6L216.8,616.8L218.3,617L219.8,617.2L221.3,617.4L222.8,617.7L224.3,617.9L225.8,618.1L227.3,618.3L228.8,618.5L230.3,618.7L231.8,618.5L233.3,618.2L234.8,618L236.3,617.8L237.8,617.6L239.3,617.4L240.8,617.2L242.3,617L243.8,616.8L245.3,616.6L246.8,616.4L248.3,616.2L249.8,616L251.3,615.8L252.8,615.6L254.3,615.4L255.8,615.2L257.3,615L258.8,614.8L260.3,614.9L261.8,615L263.3,615.2L264.8,615.3L266.3,615.4L267.8,615.5L269.3,615.7L270.8,615.8L272.3,615.9L273.8,616L275.3,616.1L276.8,616.2L278.3,616.3L279.8,616.5L281.3,616.6L282.8,616.7L284.3,616.5L285.8,616.3L287.3,616.2L288.8,616L290.3,615.8L291.8,616L293.3,616.2L294.8,616.4L296.3,616.6L297.8,616.7L299.3,616.9L300.8,617.1L302.3,617.2L303.8,617.3L305.3,617.5L306.8,617.6L308.3,617.7L309.8,617.8L311.3,618L312.8,618.1L314.3,618.2L315.8,618.3L317.3,618.4L318.8,618.5L320.3,618.6L321.8,618.7L323.3,618.9L324.8,619L326.3,619.1L327.8,619.2L329.3,619.3L330.8,619.4L332.3,619.5L333.8,619.6L335.3,619.7L336.8,619.8L338.3,619.9L339.8,620.2L341.3,620.5L342.8,620.8L344.3,621.1L345.8,621.4L347.3,621.7L348.8,622L350.3,622.3L351.8,622.8L353.3,623.3L354.8,623.7L356.3,624.2L357.8,624.7L359.3,625.2L360.8,625.6L362.3,626.1L363.8,626.1L365.3,626.2L366.8,626.2L368.3,626.2L369.8,626.3L371.3,626.3L372.8,626.3L374.3,626.3L375.8,626.4L377.3,626.4L378.8,626.4L380.3,626.5L381.8,626.5L383.3,626.5L384.8,626.6L386.3,626.6L387.8,626.6L389.3,626.5L390.8,626.5L392.3,626.4L393.8,626.4L395.3,626.3L396.8,626.3L398.3,626.3L399.8,626.2L401.3,626.2L402.8,626.1L404.3,626.1L405.8,626L407.3,626L408.8,625.9L410.3,625.9L411.8,625.8L413.3,625.8L414.8,625.7L416.3,625.6L417.8,625.6L419.3,625.5L420.8,625.4L422.3,625.4L423.8,625.3L425.3,625.2L426.8,625.2L428.3,625.1L429.8,625L431.3,625L432.8,624.9L434.3,624.8L435.8,624.8L437.3,624.7L438.8,624.6L440.3,624.6L441.8,624.5L443.3,624.4L444.8,624.4L446.3,624.5L447.8,624.7L449.3,624.8L450.8,624.9L452.3,625L453.8,625.1L455.3,625.2L456.8,625.3L458.3,625.4L459.8,625.5L461.3,625.6L462.8,625.7L464.3,625.8L465.8,625.9L467.3,626L468.8,626.1L470.3,626.1L471.8,626.2L473.3,626.2L474.8,626.2L476.3,626.3L477.8,626.3L479.3,626.4L480.8,626.4L482.3,626.4L483.8,626.5L485.3,626.5L486.8,626.5L488.3,626.6L489.8,626.6L491.3,626.6L492.8,626.6L494.3,626.6L495.8,626.6L497.3,626.6L498.8,626.6L500.3,626.6L501.8,626.6L503.3,626.6L504.8,626.6L506.3,626.6L507.8,626.6L509.3,626.6L510.8,626.6L512.3,626.6L513.8,626.6L515.3,626.6L516.8,626.6L518.3,626.6L519.8,626.6L521.3,626.6L522.8,626.6L524.3,626.6L525.8,626.6L527.3,626.6L528.8,626.6L530.3,626.6L531.8,626.6L533.3,626.6L534.8,626.6L536.3,626.6L537.8,626.6L539.3,626.6L540.8,626.6L542.3,626.6L543.8,626.6L545.3,626.6L546.8,626.6L548.3,626.6L549.8,626.6L551.3,626.6L552.8,626.6L554.3,626.6L555.8,626.6L557.3,626.6L558.8,626.6L560.3,626.6L561.8,626.6L563.3,626.6L564.8,626.6L566.3,626.6L567.8,626.6L569.3,626.6L570.8,626.6L572.3,626.6L573.8,626.6L575.3,626.6L576.8,626.6L578.3,626.6L579.8,626.6L581.3,626.6L582.8,626.6L584.3,626.6L585.8,626.6L587.3,626.6L588.8,626.6L590.3,626.6L591.8,626.6L593.3,626.6L594.8,626.6L596.3,626.6L597.8,626.6L599.3,626.6L600.8,626.6L602.3,626.6L603.8,626.6L605.3,626.6L606.8,626.6L608.3,626.6L609.8,626.6L611.3,626.6L612.8,626.6L614.3,626.6L615.8,626.6L617.3,626.6L618.8,626.6L620.3,626.6L621.8,626.6L623.3,626.6L624.8,626.6L626.3,626.6L627.8,626.6L629.3,626.6L630.8,626.6L632.3,626.6L633.8,626.6L635.3,626.6L636.8,626.6L638.3,626.6L639.8,626.6L641.3,626.6L642.8,626.6L644.3,626.6L645.8,626.5L647.3,626.5L648.8,626.5L650.3,626.5L651.8,626.5L653.3,626.5L654.8,626.5L656.3,626.5L657.8,626.5L659.3,626.5L660.8,626.5L662.3,626.5L663.8,626.5L665.3,626.5L666.8,626.5L668.3,626.5L669.8,626.5L671.3,626.5L672.8,626.5L674.3,626.5L675.8,626.5L677.3,626.5L678.8,626.5L680.3,626.5L681.8,626.5L683.3,626.5L684.8,626.5L686.3,626.5L687.8,626.5L689.3,626.5L690.8,626.5L692.3,626.4L693.8,626.4L695.3,626.3L696.8,626.3L698.3,626.2L699.8,626.2L701.3,626.1L702.8,626.1L704.3,626L705.8,625.9L707.3,625.9L708.8,625.8L710.3,625.8L711.8,625.8L713.3,625.9L714.8,625.9L716.3,626L717.8,626L719.3,626L720.8,626.1L722.3,626.1L723.8,626.1L725.3,626.2L726.8,626.2L728.3,626.2L729.8,626.3L731.3,626.3L732.8,626.3L734.3,626.4L735.8,626.4L737.3,626.4L738.8,626.4L740.3,626.4L741.8,626.4L743.3,626.4L744.8,626.4L746.3,626.4L747.8,626.4L749.3,626.5L750.8,626.5L752.3,626.5L753.8,626.5L755.3,626.5L756.8,626.5L758.3,626.5L759.8,626.5L761.3,626.5L762.8,626.5L764.3,626.5L765.8,626.5L767.3,626.5L768.8,626.5L770.3,626.5L771.8,626.5L773.3,626.5L774.8,626.5L776.3,626.6L777.8,626.6L779.3,626.6L780.8,626.6L782.3,626.6L783.8,626.6L785.3,626.6L786.8,626.6L788.3,626.6" fill="none" stroke="#f00" stroke-width="3.4" stroke-linejoin="round"/>
<rect x="83.3" y="729.4" width="705.6" height="310" fill="none" stroke="#000" stroke-width="3.0"/>
<path d="M83.3,1031.7h6.8M788.9,1031.7h-6.8M83.3,1023.9h6.8M788.9,1023.9h-6.8M83.3,1016.2h6.8M788.9,1016.2h-6.8M83.3,1008.4h6.8M788.9,1008.4h-6.8M83.3,1000.7h6.8M788.9,1000.7h-6.8M83.3,992.9h6.8M788.9,992.9h-6.8M83.3,985.2h6.8M788.9,985.2h-6.8M83.3,977.4h6.8M788.9,977.4h-6.8M83.3,969.7h6.8M788.9,969.7h-6.8M83.3,961.9h13.8M788.9,961.9h-13.8M83.3,954.2h6.8M788.9,954.2h-6.8M83.3,946.4h6.8M788.9,946.4h-6.8M83.3,938.7h6.8M788.9,938.7h-6.8M83.3,930.9h6.8M788.9,930.9h-6.8M83.3,923.2h6.8M788.9,923.2h-6.8M83.3,915.4h6.8M788.9,915.4h-6.8M83.3,907.7h6.8M788.9,907.7h-6.8M83.3,899.9h6.8M788.9,899.9h-6.8M83.3,892.2h6.8M788.9,892.2h-6.8M83.3,884.4h13.8M788.9,884.4h-13.8M83.3,876.7h6.8M788.9,876.7h-6.8M83.3,868.9h6.8M788.9,868.9h-6.8M83.3,861.2h6.8M788.9,861.2h-6.8M83.3,853.4h6.8M788.9,853.4h-6.8M83.3,845.7h6.8M788.9,845.7h-6.8M83.3,837.9h6.8M788.9,837.9h-6.8M83.3,830.1h6.8M788.9,830.1h-6.8M83.3,822.4h6.8M788.9,822.4h-6.8M83.3,814.6h6.8M788.9,814.6h-6.8M83.3,806.9h13.8M788.9,806.9h-13.8M83.3,799.1h6.8M788.9,799.1h-6.8M83.3,791.4h6.8M788.9,791.4h-6.8M83.3,783.6h6.8M788.9,783.6h-6.8M83.3,775.9h6.8M788.9,775.9h-6.8M83.3,768.1h6.8M788.9,768.1h-6.8M83.3,760.4h6.8M788.9,760.4h-6.8M83.3,752.6h6.8M788.9,752.6h-6.8M83.3,744.9h6.8M788.9,744.9h-6.8M83.3,737.1h6.8M788.9,737.1h-6.8" stroke="#000" stroke-width="2.9" fill="none"/>
<path d="M118.6,1039.4v-3.1M118.6,729.4v3.1M153.9,1039.4v-6.7M153.9,729.4v6.7M189.1,1039.4v-3.1M189.1,729.4v3.1M224.4,1039.4v-3.1M224.4,729.4v3.1M259.7,1039.4v-3.1M259.7,729.4v3.1M295,1039.4v-6.7M295,729.4v6.7M330.3,1039.4v-3.1M330.3,729.4v3.1M365.5,1039.4v-3.1M365.5,729.4v3.1M400.8,1039.4v-3.1M400.8,729.4v3.1M436.1,1039.4v-6.7M436.1,729.4v6.7M471.4,1039.4v-3.1M471.4,729.4v3.1M506.7,1039.4v-3.1M506.7,729.4v3.1M541.9,1039.4v-3.1M541.9,729.4v3.1M577.2,1039.4v-6.7M577.2,729.4v6.7M612.5,1039.4v-3.1M612.5,729.4v3.1M647.8,1039.4v-3.1M647.8,729.4v3.1M683.1,1039.4v-3.1M683.1,729.4v3.1M718.3,1039.4v-6.7M718.3,729.4v6.7M753.6,1039.4v-3.1M753.6,729.4v3.1" stroke="#000" stroke-width="2.9" fill="none"/>
<g clip-path="url(#c3)">
<path d="M83.9,849.6L84.1,814.7L84.3,820.2L84.5,878.6L84.7,895.6L84.9,841.8L85.1,842L85.3,860.9L85.5,848.3L85.7,841L85.9,839.3L86.1,878L86.3,821.8L86.5,854.3L86.7,810.9L86.9,855.3L87.1,849.5L87.3,839.1L87.5,851L87.7,797.8L87.9,822L88.1,831.1L88.3,844.9L88.5,841.8L88.7,832.3L88.9,844.8L89.1,852.5L89.3,906.9L89.5,848.5L89.7,852.7L89.9,852.2L90.1,837L90.3,834.3L90.5,864.4L90.7,839L90.9,833.6L91.1,845.5L91.3,885.6L91.5,817.9L91.7,837.4L91.9,854.1L92.1,861.7L92.3,888.1L92.5,896.4L92.7,833.1L92.9,866.8L93.1,895.1L93.3,876.8L93.5,829L93.7,835.2L93.9,851.8L94.1,869.7L94.3,825.9L94.5,869.9L94.7,835.2L94.9,865.1L95.1,867.4L95.3,861.4L95.5,874.4L95.7,850.7L95.9,855.6L96.1,880.9L96.3,838.2L96.5,837.4L96.7,819.7L96.9,889.9L97.1,834.6L97.3,872.5L97.5,853.8L97.7,861.9L97.9,843.3L98.1,849.1L98.3,873.7L98.5,854.6L98.7,830L98.9,848.6L99.1,821.9L99.3,863.6L99.5,871.5L99.7,857.1L99.9,885.7L100.1,886.5L100.3,848.6L100.5,875.7L100.7,846.6L100.9,856L101.1,847.2L101.3,854.4L101.5,826.1L101.7,848.6L101.9,824.8L102.1,886.9L102.3,841.6L102.5,851.4L102.7,818.9L102.9,837.6L103.1,864.7L103.3,807.6L103.5,860.5L103.7,843L103.9,900.5L104.1,869L104.3,874.1L104.5,861.5L104.7,877.4L104.9,829.6L105.1,892.2L105.3,872.5L105.5,820.7L105.7,864L105.9,856.5L106.1,888.7L106.3,850.2L106.5,857.5L106.7,866.3L106.9,852.6L107.1,894L107.3,867.2L107.5,842.7L107.7,861.9L107.9,852.6L108.1,894L108.3,833.5L108.5,817.8L108.7,904L108.9,857.6L109.1,892L109.3,858.8L109.5,848L109.7,870.5L109.9,860.5L110.1,844.9L110.3,817.1L110.5,865.7L110.7,879L110.9,884.5L111.1,828.9L111.3,889.8L111.5,829.1L111.7,848.6L111.9,861.2L112.1,860.9L112.3,841.8L112.5,852.9L112.7,862.6L112.9,862.6L113.1,875.4L113.3,880.5L113.5,863.4L113.7,845L113.9,876.9L114.1,860.3L114.3,858.3L114.5,808.4L114.7,864.5L114.9,875.2L115.1,883.7L115.3,839.3L115.5,859L115.7,822.5L115.9,864.2L116.1,866.1L116.3,842L116.5,871.8L116.7,882.3L116.9,883.3L117.1,841.2L117.3,861.8L117.5,884L117.7,857.4L117.9,853.2L118.1,856L118.3,881L118.5,856.7L118.7,820.9L118.9,876.5L119.1,924L119.3,872.2L119.5,892.4L119.7,852.8L119.9,857.8L120.1,840.6L120.3,873.9L120.5,862.8L120.7,882.8L120.9,866.4L121.1,877.5L121.3,818.9L121.5,870.5L121.7,876.7L121.9,870.2L122.1,892.6L122.3,861.5L122.5,877.7L122.7,820.7L122.9,879.8L123.1,879.3L123.3,843.9L123.5,815.2L123.7,841.3L123.9,861.5L124.1,897.5L124.3,836.6L124.5,871.8L124.7,875.5L124.9,874L125.1,873.5L125.3,876.4L125.5,832.3L125.7,819.9L125.9,860.1L126.1,843L126.3,812.7L126.5,890.6L126.7,878.9L126.9,875.2L127.1,842L127.3,847.1L127.5,827.9L127.7,861.9L127.9,856.5L128.1,861.7L128.3,894.3L128.5,851.5L128.7,858.8L128.9,830.4L129.1,896.8L129.3,889.6L129.5,812.9L129.7,814.8L129.9,899.9L130.1,905.7L130.3,879.1L130.5,894.9L130.7,835.2L130.9,865.6L131.1,882.6L131.3,860.2L131.5,843.1L131.7,860.7L131.9,845.2L132.1,906.2L132.3,856L132.5,849.1L132.7,822.8L132.9,896.6L133.1,860.5L133.3,876.9L133.5,862L133.7,870.6L133.9,865.2L134.1,851.3L134.3,875.1L134.5,846.9L134.7,870.9L134.9,873L135.1,882.6L135.3,845.2L135.5,916.6L135.7,869.6L135.9,821L136.1,828.3L136.3,866.6L136.5,862.7L136.7,878.6L136.9,830.3L137.1,863.3L137.3,873.9L137.5,885.7L137.7,825.9L137.9,850.7L138.1,846.8L138.3,861.5L138.5,857.7L138.7,866.2L138.9,844.1L139.1,873.4L139.3,830.3L139.5,863L139.7,910.8L139.9,858.4L140.1,903.5L140.3,893.2L140.5,853.9L140.7,875L140.9,877.6L141.1,843L141.3,818.3L141.5,852.4L141.7,835.4L141.9,876.8L142.1,827L142.3,910.5L142.5,917.3L142.7,848.1L142.9,819.9L143.1,872L143.3,853.2L143.5,862.4L143.7,829.8L143.9,832.7L144.1,876.5L144.3,835.5L144.5,820.4L144.7,876.2L144.9,878L145.1,857.8L145.3,841.7L145.5,901.1L145.7,857.1L145.9,879.9L146.1,835.6L146.3,834.8L146.5,870.1L146.7,899.2L146.9,842.8L147.1,859.3L147.3,856.8L147.5,896.5L147.7,865.2L147.9,890.2L148.1,886.2L148.3,882L148.5,902.7L148.7,837.5L148.9,873L149.1,874.7L149.3,839.7L149.5,869.7L149.7,872.5L149.9,858.6L150.1,852.2L150.3,894.8L150.5,873L150.7,865.7L150.9,873.2L151.1,856.6L151.3,872.8L151.5,878.4L151.7,848.9L151.9,865.9L152.1,866.3L152.3,871.4L152.5,859.1L152.7,867.8L152.9,857.6L153.1,848.6L153.3,856.5L153.5,833L153.7,881.3L153.9,875.8L154.1,848.8L154.3,847.5L154.5,848.9L154.7,841.9L154.9,843.4L155.1,879.7L155.3,861.6L155.5,887.9L155.7,879.5L155.9,876.9L156.1,839.9L156.3,907.3L156.5,864.8L156.7,818.4L156.9,863.2L157.1,860.9L157.3,881.2L157.5,846.3L157.7,874.1L157.9,860.8L158.1,895.5L158.3,862.5L158.5,880L158.7,891.2L158.9,851.4L159.1,876.1L159.3,869.8L159.5,904.7L159.7,883L159.9,853.8L160.1,910.6L160.3,858.2L160.5,869.1L160.7,872.8L160.9,874.4L161.1,855.6L161.3,865.3L161.5,862.3L161.7,874.9L161.9,852.8L162.1,831.3L162.3,840L162.5,908.6L162.7,882.3L162.9,898.3L163.1,855.3L163.3,832.4L163.5,835.4L163.7,843.5L163.9,882.4L164.1,862.6L164.3,859.3L164.5,843.6L164.7,907.9L164.9,841.5L165.1,866.4L165.3,865.2L165.5,868.4L165.7,868.1L165.9,879.7L166.1,929.9L166.3,896.7L166.5,878.9L166.7,849.1L166.9,905.5L167.1,906.9L167.3,860L167.5,884.7L167.7,821.6L167.9,850.4L168.1,897.4L168.3,835.1L168.5,887.5L168.7,897.8L168.9,841.8L169.1,876L169.3,906.6L169.5,926.7L169.7,875.7L169.9,907.5L170.1,856.2L170.3,859.9L170.5,884.5L170.7,891.6L170.9,879.3L171.1,900.7L171.3,894.4L171.5,905.8L171.7,894L171.9,878.6L172.1,881.1L172.3,876L172.5,881.7L172.7,903L172.9,901.1L173.1,908.8L173.3,899.5L173.5,899L173.7,861.3L173.9,871.5L174.1,869.1L174.3,862.7L174.5,825L174.7,894L174.9,855.1L175.1,861.7L175.3,862.1L175.5,912.4L175.7,887.4L175.9,910.8L176.1,877.6L176.3,895.4L176.5,895.7L176.7,875L176.9,881.5L177.1,840.7L177.3,854.8L177.5,880L177.7,827L177.9,882.9L178.1,881.3L178.3,862.8L178.5,894.4L178.7,888L178.9,902.3L179.1,882L179.3,901.2L179.5,884.5L179.7,848.1L179.9,877L180.1,874.4L180.3,879.5L180.5,878.1L180.7,895L180.9,876L181.1,845.9L181.3,889.5L181.5,831.9L181.7,846.1L181.9,892L182.1,845.3L182.3,883L182.5,853.7L182.7,891.3L182.9,884.6L183.1,899.3L183.3,889.1L183.5,902.9L183.7,857.5L183.9,910.3L184.1,867.9L184.3,895.3L184.5,873.8L184.7,902.2L184.9,887.2L185.1,882.7L185.3,891.3L185.5,877.6L185.7,878.6L185.9,909.2L186.1,891.1L186.3,881.1L186.5,870.5L186.7,904.8L186.9,862L187.1,877.6L187.3,854.2L187.5,866.1L187.7,875.7L187.9,886.7L188.1,878L188.3,899.5L188.5,840.2L188.7,924.1L188.9,892L189.1,890.2L189.3,849.8L189.5,900.8L189.7,864L189.9,879.1L190.1,884.7L190.3,892.1L190.5,891.4L190.7,862.2L190.9,853.7L191.1,909.4L191.3,897.8L191.5,893.6L191.7,890.9L191.9,892.6L192.1,842.1L192.3,882.6L192.5,902.7L192.7,884.5L192.9,898.2L193.1,891.7L193.3,873.8L193.5,866.8L193.7,880.6L193.9,904.9L194.1,849.7L194.3,902.5L194.5,843.1L194.7,925.3L194.9,880.1L195.1,887L195.3,874L195.5,904.1L195.7,868.9L195.9,913.3L196.1,930L196.3,885L196.5,866.8L196.7,901.3L196.9,869.4L197.1,878L197.3,889.3L197.5,907.4L197.7,861.8L197.9,899.8L198.1,895.8L198.3,885.4L198.5,899.7L198.7,887.1L198.9,877.5L199.1,843.5L199.3,833.7L199.5,886.2L199.7,899.6L199.9,863.9L200.1,878.6L200.3,918L200.5,902.7L200.7,848.3L200.9,898.7L201.1,878.8L201.3,895.5L201.5,886.3L201.7,864.5L201.9,927.4L202.1,830.1L202.3,861.5L202.5,907.8L202.7,880.8L202.9,889.1L203.1,861.7L203.3,898.8L203.5,866.2L203.7,856.6L203.9,856.4L204.1,904.7L204.3,879.6L204.5,896.1L204.7,889.2L204.9,877.3L205.1,856.2L205.3,887.4L205.5,894.6L205.7,857.2L205.9,868.6L206.1,863.1L206.3,837.6L206.5,887.9L206.7,894L206.9,879.9L207.1,886.8L207.3,885.5L207.5,907.4L207.7,899.3L207.9,902L208.1,866.1L208.3,892.5L208.5,881.8L208.7,859.3L208.9,892L209.1,847.3L209.3,858.8L209.5,905L209.7,896.7L209.9,843.3L210.1,890.6L210.3,885.3L210.5,876.9L210.7,858.7L210.9,876.4L211.1,898.1L211.3,921.1L211.5,901.3L211.7,864.8L211.9,897.9L212.1,927.5L212.3,879.4L212.5,856.9L212.7,906.4L212.9,870.9L213.1,884.9L213.3,891L213.5,879.9L213.7,883.8L213.9,897.8L214.1,899.7L214.3,890.9L214.5,900.6L214.7,891.3L214.9,870.9L215.1,922.4L215.3,892L215.5,895.9L215.7,907.4L215.9,882.6L216.1,856.5L216.3,849.2L216.5,876.6L216.7,907L216.9,893.3L217.1,897.5L217.3,875.1L217.5,854.9L217.7,879.5L217.9,846.1L218.1,866.2L218.3,895L218.5,870.2L218.7,853.6L218.9,894.1L219.1,893.3L219.3,886.2L219.5,844.8L219.7,897.8L219.9,877L220.1,894L220.3,905.6L220.5,892.7L220.7,910.3L220.9,898.4L221.1,874.2L221.3,871.9L221.5,924.6L221.7,930.8L221.9,879.3L222.1,891.7L222.3,895.5L222.5,903L222.7,854.3L222.9,903.9L223.1,891.3L223.3,892.5L223.5,880.6L223.7,918.5L223.9,881.9L224.1,927.3L224.3,922.8L224.5,878.9L224.7,910.4L224.9,911.3L225.1,884.3L225.3,844.6L225.5,884.7L225.7,898.2L225.9,938.9L226.1,918.9L226.3,912L226.5,897.7L226.7,911.5L226.9,874.1L227.1,874.6L227.3,864.2L227.5,867.7L227.7,888.5L227.9,934L228.1,862.2L228.3,897.8L228.5,892.4L228.7,852.6L228.9,888.1L229.1,846.3L229.3,914.7L229.5,909.2L229.7,874.7L229.9,882.3L230.1,879.7L230.3,876.5L230.5,891.7L230.7,866.7L230.9,882.9L231.1,865.1L231.3,893.4L231.5,893.5L231.7,912.8L231.9,872.8L232.1,835.2L232.3,902.4L232.5,897.6L232.7,908.6L232.9,889.2L233.1,904L233.3,879.8L233.5,878.4L233.7,843.7L233.9,864.7L234.1,893.4L234.3,880.2L234.5,863.3L234.7,930.1L234.9,892.9L235.1,892.3L235.3,870.4L235.5,873.9L235.7,902.8L235.9,862.4L236.1,915.3L236.3,880.1L236.5,916.8L236.7,892.8L236.9,873.1L237.1,932.4L237.3,888.8L237.5,879.1L237.7,909.7L237.9,909.3L238.1,890.6L238.3,848.3L238.5,853.9L238.7,909.3L238.9,879.1L239.1,900.5L239.3,871.6L239.5,895.8L239.7,852.7L239.9,885.3L240.1,930.1L240.3,894.9L240.5,882.4L240.7,888L240.9,890.2L241.1,930L241.3,893.9L241.5,899.9L241.7,880.2L241.9,902.3L242.1,900.3L242.3,875.6L242.5,855.4L242.7,885.6L242.9,915.2L243.1,878.2L243.3,882.9L243.5,915.2L243.7,888.1L243.9,850.5L244.1,925.5L244.3,892.5L244.5,879.8L244.7,885.5L244.9,901.8L245.1,887.9L245.3,928.6L245.5,900.6L245.7,904.5L245.9,897.6L246.1,879.7L246.3,895.4L246.5,928.8L246.7,881.5L246.9,888.7L247.1,899.3L247.3,875.8L247.5,910.1L247.7,866L247.9,900.2L248.1,870.8L248.3,885.4L248.5,885.5L248.7,947.5L248.9,880.1L249.1,913.4" fill="none" stroke="#000" stroke-width="1.05" stroke-linejoin="round"/>
<path d="M278.9,911.3L279.1,885.4L279.3,904.1L279.5,910.6L279.7,911.8L279.9,895.1L280.1,911.1L280.3,912.7L280.5,868.5L280.7,881.9L280.9,878.1L281.1,888.8L281.3,913.1L281.5,908.9L281.7,907L281.9,892.5L282.1,917.2L282.3,875.6L282.5,878.4L282.7,912.2L282.9,896.6L283.1,918.1L283.3,914.8L283.5,916.3L283.7,888.5L283.9,892.4L284.1,874.7L284.3,901.4L284.5,901L284.7,892.2L284.9,897.1L285.1,904.4L285.3,916L285.5,892.3L285.7,891.7L285.9,899.9L286.1,910.5L286.3,931.3L286.5,916.8L286.7,863.3L286.9,874.6L287.1,889L287.3,861L287.5,912.8L287.7,898.6L287.9,880.8L288.1,898.5L288.3,906.3L288.5,895.7L288.7,901.1L288.9,916.3L289.1,884.8L289.3,901.4L289.5,871.7L289.7,882.2L289.9,917.8L290.1,889.7L290.3,885.7L290.5,914.5L290.7,894.2L290.9,916.4L291.1,932.1L291.3,936.9L291.5,898.4L291.7,907.3L291.9,892.9L292.1,929.3L292.3,911L292.5,946.5L292.7,894.8L292.9,901.4L293.1,856.9L293.3,891.1L293.5,892.2L293.7,909.8L293.9,917.7L294.1,889.8L294.3,900.4L294.5,911.8L294.7,901.3L294.9,913L295.1,927.1L295.3,892.8L295.5,907.4L295.7,920.8L295.9,904.2L296.1,927.2L296.3,897.9L296.5,920.5L296.7,907.1L296.9,912.6L297.1,893L297.3,920.4L297.5,885.7L297.7,920.2L297.9,904L298.1,907.9L298.3,924.3L298.5,882.5L298.7,916.1L298.9,909.8L299.1,896.4L299.3,916.9L299.5,904.1L299.7,933.6L299.9,896.9L300.1,928.9L300.3,926.4L300.5,910.5L300.7,894.5L300.9,904.5L301.1,885L301.3,894.2L301.5,895.6L301.7,905.6L301.9,883.4L302.1,911.9L302.3,898.1L302.5,919.8L302.7,914.3L302.9,895.9L303.1,909L303.3,908.6L303.5,897.2L303.7,901.3L303.9,903.2L304.1,890L304.3,886.5L304.5,908.5L304.7,878.2L304.9,912.7L305.1,918L305.3,899L305.5,912.1L305.7,893.9L305.9,915.5L306.1,952.7L306.3,913.2L306.5,904.9L306.7,905.2L306.9,884.5L307.1,894.7L307.3,901.4L307.5,896.4L307.7,907.1L307.9,924.7L308.1,884.5L308.3,895.9L308.5,907.8L308.7,887.8L308.9,891.7L309.1,912.9L309.3,914.3L309.5,910.4L309.7,890.4L309.9,913.7L310.1,918L310.3,898.8L310.5,906.5L310.7,901.5L310.9,902L311.1,897.9L311.3,912L311.5,893.8L311.7,931.6L311.9,915.7L312.1,902.3L312.3,939.4L312.5,908.5L312.7,872.3L312.9,929.5L313.1,916.8L313.3,905.9L313.5,907.6L313.7,897.7L313.9,889L314.1,890.4L314.3,943.9L314.5,897.4L314.7,908.9L314.9,933.7L315.1,896.4L315.3,905.7L315.5,900.3L315.7,884.9L315.9,914.5L316.1,916.2L316.3,903.7L316.5,904.1L316.7,916.5L316.9,917.6L317.1,936.4L317.3,917.9L317.5,919.5L317.7,898.2L317.9,887.7L318.1,926.7L318.3,895.6L318.5,918L318.7,909.3L318.9,896L319.1,911.8L319.3,933.5L319.5,928.4L319.7,901.5L319.9,904.5L320.1,878.4L320.3,890.6L320.5,900.2L320.7,908.4L320.9,915L321.1,902.1L321.3,926.6L321.5,895.6L321.7,919.1L321.9,894.2L322.1,903.9L322.3,911.8L322.5,920.5L322.7,898.9L322.9,903.4L323.1,913.1L323.3,913.3L323.5,930.5L323.7,919.6L323.9,905L324.1,905.3L324.3,927.8L324.5,929.5L324.7,924.8L324.9,909.9L325.1,896.9L325.3,899L325.5,911.7L325.7,894.7L325.9,907.5L326.1,941.2L326.3,916.3L326.5,922.4L326.7,896.1L326.9,930.7L327.1,905.2L327.3,911.7L327.5,913.6L327.7,911.6L327.9,903.2L328.1,919.8L328.3,940.6L328.5,906.1L328.7,923.2L328.9,895.5L329.1,915.8L329.3,902.3L329.5,931.7L329.7,905.3L329.9,920.6L330.1,912.7L330.3,894.2L330.5,911.9L330.7,910.9L330.9,922.2L331.1,908.1L331.3,885L331.5,895.9L331.7,902.7L331.9,919.6L332.1,904.5L332.3,922.5L332.5,905.4L332.7,914.6L332.9,923.1L333.1,911.1L333.3,884.6L333.5,924.6L333.7,905.2L333.9,919.5L334.1,868.5L334.3,907.3L334.5,906.6L334.7,900.7L334.9,905.2L335.1,892.5L335.3,893.5L335.5,907.9L335.7,903L335.9,916L336.1,911L336.3,895.9L336.5,905.6L336.7,898.8L336.9,912L337.1,927L337.3,905.4L337.5,898.1L337.7,932.3L337.9,900.7L338.1,894.7L338.3,898.9L338.5,876.1L338.7,921.9L338.9,916.2L339.1,915.5L339.3,908.5L339.5,899.1L339.7,894.7L339.9,891.3L340.1,909L340.3,910.8L340.5,908.7L340.7,887L340.9,921L341.1,889.5L341.3,898.1L341.5,897.1L341.7,891.9L341.9,871.6L342.1,882.8L342.3,889.8L342.5,907.3L342.7,890.7L342.9,898.4L343.1,881.6L343.3,890.2L343.5,906.4L343.7,912.3L343.9,896.7L344.1,898.4L344.3,893.7L344.5,890.5L344.7,892.4L344.9,900.9L345.1,883.9L345.3,878.9L345.5,894.9L345.7,882.6L345.9,891.5L346.1,876.8L346.3,888.7L346.5,881.5L346.7,879.6L346.9,890.8L347.1,871.2L347.3,859.8L347.5,870.3L347.7,879.1L347.9,896.2L348.1,876.4L348.3,868.1L348.5,873.3L348.7,887.8L348.9,880.7L349.1,881.2L349.3,881.1L349.5,889.4L349.7,862.8L349.9,886.3L350.1,878.7L350.3,863.1L350.5,877.2L350.7,882L350.9,866L351.1,876.1L351.3,846.3L351.5,850.7L351.7,867.4L351.9,862.4L352.1,866.4L352.3,863.7L352.5,865.6L352.7,843.7L352.9,800L353.1,770.4L353.3,976.6L353.5,790L353.7,805L353.9,864.6L354.1,843.1L354.3,851.8L354.5,860L354.7,841.3L354.9,840.2L355.1,841.5L355.3,826L355.5,851.8L355.7,849.6L355.9,855.9L356.1,839.4L356.3,843L356.5,844.9L356.7,852.8L356.9,841.3L357.1,842.1L357.3,832.1L357.5,840.2L357.7,836.9L357.9,845.3L358.1,842.4L358.3,826.2L358.5,826.3L358.7,838L358.9,831L359.1,836.7L359.3,843.5L359.5,822.4L359.7,836.4L359.9,824.9L360.1,834.3L360.3,834.7L360.5,827.4L360.7,817.5L360.9,835.9L361.1,828.8L361.3,843.5L361.5,844.1L361.7,853L361.9,850.7L362.1,829.2L362.3,832.1L362.5,841.3L362.7,849.8L362.9,854.7L363.1,847.2L363.3,858.3L363.5,847.5L363.7,868.4L363.9,854.9L364.1,855.6L364.3,857.3L364.5,863.7L364.7,879.6L364.9,868.4L365.1,877.1L365.3,860.9L365.5,875.7L365.7,877.6L365.9,880.9L366.1,861.7L366.3,863L366.5,873.4L366.7,879.8L366.9,865.7L367.1,877.1L367.3,892.5L367.5,855.9L367.7,863.8L367.9,875.8L368.1,883.8L368.3,879.2L368.5,885.8L368.7,896.2L368.9,876.8L369.1,873.5L369.3,897.9L369.5,865.5L369.7,893.3L369.9,898.6L370.1,888.2L370.3,879.5L370.5,887.8L370.7,880.6L370.9,908.3L371.1,894.1L371.3,888.6L371.5,893L371.7,894.4L371.9,900.5L372.1,893.3L372.3,881.9L372.5,887.8L372.7,879.7L372.9,876.7L373.1,894.8L373.3,886.7L373.5,891.2L373.7,900.4L373.9,903.9L374.1,895.6L374.3,889L374.5,902.2L374.7,886.7L374.9,911.9L375.1,891.2L375.3,908.6L375.5,885.6L375.7,920.3L375.9,902L376.1,896L376.3,909.2L376.5,903.8L376.7,899.5L376.9,897.8L377.1,904.3L377.3,901L377.5,891.2L377.7,892.4L377.9,898.5L378.1,887.8L378.3,879.8L378.5,910L378.7,895.2L378.9,926L379.1,904.2L379.3,910.9L379.5,910.7L379.7,903.3L379.9,899.2L380.1,886.3L380.3,891.9L380.5,889.4L380.7,888.7L380.9,888L381.1,906.8L381.3,883.7L381.5,922.4L381.7,896.7L381.9,910.1L382.1,909.2L382.3,910.7L382.5,905.3L382.7,904.4L382.9,908L383.1,916.2L383.3,914.5L383.5,909.2L383.7,891.6L383.9,898L384.1,908.5L384.3,920.4L384.5,923.6L384.7,910.8L384.9,911.9L385.1,902.4L385.3,898.5L385.5,909.6L385.7,914.9L385.9,911.5L386.1,884.3L386.3,921.5L386.5,887.3L386.7,920.7L386.9,924.6L387.1,942.9L387.3,894.8L387.5,904.8L387.7,911.7L387.9,915.2L388.1,905.9L388.3,922.5L388.5,906.7L388.7,911.5L388.9,911.1L389.1,919.3L389.3,916.8L389.5,895.8L389.7,920.4L389.9,902L390.1,903L390.3,905.3L390.5,910.5L390.7,919.1L390.9,919.2L391.1,898.5L391.3,912.6L391.5,924.2L391.7,923L391.9,915.9L392.1,907L392.3,920.2L392.5,911.9L392.7,901L392.9,890.1L393.1,919.5L393.3,926.3L393.5,928.5L393.7,927.8L393.9,919.5L394.1,914.1L394.3,917.1L394.5,921.7L394.7,904.3L394.9,916.8L395.1,912.1L395.3,922.2L395.5,921.6L395.7,895.7L395.9,900.9L396.1,915.6L396.3,920.9L396.5,908.1L396.7,917.1L396.9,915.9L397.1,911.2L397.3,910.5L397.5,919.5L397.7,927L397.9,911.1L398.1,921.6L398.3,918.7L398.5,911.9L398.7,911.8L398.9,908.5L399.1,918.4L399.3,922.3L399.5,914.6L399.7,901.4L399.9,918L400.1,916.2L400.3,913.9L400.5,912L400.7,910.4L400.9,914.9L401.1,919L401.3,930.9L401.5,908.5L401.7,919.9L401.9,902L402.1,912.2L402.3,915.7L402.5,906.8L402.7,923.1L402.9,920.6L403.1,911.7L403.3,919.5L403.5,912.3L403.7,916.2L403.9,916.7L404.1,930.7L404.3,911.1L404.5,923.8L404.7,929.1L404.9,934.4L405.1,924.6L405.3,937L405.5,910.1L405.7,909.9L405.9,924.9L406.1,920.2L406.3,933.1L406.5,915.2L406.7,920.9L406.9,925.8L407.1,902L407.3,932.7L407.5,921.1L407.7,912.9L407.9,915.5L408.1,916.5L408.3,932.4L408.5,913.4L408.7,932.4L408.9,916.1L409.1,925L409.3,918.1L409.5,921.1L409.7,929.7L409.9,920.7L410.1,916.4L410.3,930L410.5,939L410.7,920.1L410.9,919.6L411.1,917.2L411.3,910.4L411.5,915.7L411.7,925.2L411.9,916.7L412.1,924.8L412.3,923.7L412.5,927.5L412.7,934.9L412.9,921.7L413.1,910.7L413.3,924.2L413.5,927.2L413.7,937.5L413.9,922.9L414.1,916.9L414.3,914.9L414.5,927.6L414.7,920.8L414.9,931.2L415.1,934.1L415.3,922.9L415.5,927.7L415.7,923.3L415.9,928L416.1,911.5L416.3,915.7L416.5,936.5L416.7,910.4L416.9,914.2L417.1,927.6L417.3,914.9L417.5,919.3L417.7,915.4L417.9,935.4L418.1,922L418.3,936.5L418.5,925L418.7,909.6L418.9,924.3L419.1,907.9L419.3,931.1L419.5,904.8L419.7,931.9L419.9,927.7L420.1,935.6L420.3,927L420.5,925.6L420.7,920.2L420.9,896.9L421.1,917.3L421.3,920.6L421.5,921.5L421.7,942.8L421.9,926.9L422.1,916L422.3,934.6L422.5,924.3L422.7,917.7L422.9,924.4L423.1,918L423.3,927.9L423.5,920.9L423.7,932.3L423.9,913.4L424.1,925.4L424.3,912.8L424.5,935.7L424.7,914L424.9,939.9L425.1,921.6L425.3,932.2L425.5,917L425.7,921.2L425.9,935.3L426.1,912.9L426.3,928.6L426.5,910.7L426.7,941.1L426.9,932.6L427.1,908.8L427.3,921L427.5,932.7L427.7,942.6L427.9,923.4L428.1,908.7L428.3,934.3L428.5,917.5L428.7,923.9L428.9,920L429.1,912.3L429.3,905.3L429.5,936.6L429.7,924.9L429.9,923.9L430.1,918.8L430.3,926.7L430.5,914.7L430.7,914.1L430.9,912.1L431.1,911.6L431.3,925.8L431.5,911L431.7,938.8L431.9,922.4L432.1,919.6L432.3,921.3L432.5,936.2L432.7,904.5L432.9,923.6L433.1,937.9L433.3,932.4L433.5,926.2L433.7,920.4L433.9,942.7L434.1,920.1L434.3,939.3L434.5,916L434.7,911L434.9,923.9L435.1,920.2L435.3,904L435.5,923.5L435.7,943.8L435.9,922.6L436.1,927.4L436.3,923.7L436.5,923.8L436.7,925.9L436.9,925.2L437.1,924.1L437.3,927L437.5,927.5L437.7,925.4L437.9,911.9L438.1,917.1L438.3,914.7L438.5,922L438.7,936.4L438.9,926.4L439.1,920.7L439.3,940.4L439.5,930.8L439.7,918.9L439.9,928.2L440.1,932.7L440.3,932.2L440.5,919.7L440.7,926.5L440.9,926.6L441.1,913.7L441.3,928.9L441.5,908.6L441.7,923.4L441.9,933.1L442.1,929.9L442.3,924.5L442.5,928.1L442.7,926.3L442.9,936L443.1,929.6L443.3,931.4L443.5,919.6L443.7,924.2L443.9,921.1L444.1,934.2L444.3,932.8L444.5,926.7L444.7,933L444.9,926.6L445.1,924.5L445.3,930.9L445.5,928.5L445.7,946L445.9,915.4L446.1,934.7L446.3,918.5L446.5,933.3L446.7,918L446.9,911.8L447.1,940.1L447.3,925.1L447.5,940.9L447.7,920.4L447.9,919.6L448.1,937.5L448.3,921.3L448.5,927.2L448.7,918.9L448.9,924.6L449.1,907.3L449.3,923.3L449.5,925.4L449.7,935L449.9,935.4L450.1,925.9L450.3,927.6L450.5,926.3L450.7,946.2L450.9,920.5L451.1,934.5L451.3,928.1L451.5,915.5L451.7,932.2L451.9,937.8L452.1,930.1L452.3,916.7L452.5,932.7L452.7,933.2L452.9,923.4L453.1,935.7L453.3,912.4L453.5,916.1L453.7,924.1L453.9,927.4L454.1,935.8L454.3,936.3L454.5,920.4L454.7,937.2L454.9,942.3L455.1,935.5L455.3,926.5L455.5,925.2L455.7,932.2L455.9,908.8L456.1,920L456.3,913.6L456.5,929.4L456.7,928.7L456.9,931.3L457.1,930.9L457.3,932.5L457.5,922.4L457.7,924.1L457.9,932L458.1,942.5L458.3,909.4L458.5,916.2L458.7,924.7L458.9,916.7L459.1,921.5L459.3,927.4L459.5,918.8L459.7,935.9L459.9,934.8L460.1,935.4L460.3,932.4L460.5,935.8L460.7,895.1L460.9,936.4L461.1,917.3L461.3,951.5L461.5,920L461.7,931.5L461.9,911.1L462.1,914.6L462.3,930.3L462.5,932.4L462.7,945.7L462.9,937.8L463.1,942.8L463.3,951.1L463.5,910.4L463.7,945.7L463.9,918.9L464.1,932.2L464.3,927.2L464.5,939.2L464.7,937.5L464.9,935.5L465.1,923.3L465.3,906.1L465.5,929.5L465.7,928.4L465.9,929.4L466.1,935.8L466.3,952.9L466.5,942.8L466.7,934.5L466.9,922.3L467.1,913.4L467.3,948.2L467.5,937.9L467.7,929.7L467.9,909.3" fill="none" stroke="#000" stroke-width="1.05" stroke-linejoin="round"/>
<path d="M540.2,913.3L540.4,922.5L540.6,941.3L540.8,916.7L541,941.5L541.2,912.5L541.4,920.7L541.6,971.8L541.8,910.7L542,943.8L542.2,918.9L542.4,934.9L542.6,938.2L542.8,943.4L543,929.8L543.2,922.8L543.4,964.7L543.6,940.3L543.8,940.3L544,920.2L544.2,916.3L544.4,936.7L544.6,951.7L544.8,923.7L545,915.8L545.2,944.1L545.4,923.5L545.6,937.5L545.8,917L546,931.2L546.2,920.7L546.4,926.1L546.6,920.7L546.8,935L547,927.1L547.2,935.1L547.4,924.9L547.6,946.6L547.8,922.2L548,927.2L548.2,945.6L548.4,933.4L548.6,922.1L548.8,924.3L549,921L549.2,945.3L549.4,931.9L549.6,931.3L549.8,911L550,943.1L550.2,943.5L550.4,948L550.6,917.1L550.8,947.3L551,923.8L551.2,936.8L551.4,933.7L551.6,942.7L551.8,913.8L552,932.7L552.2,941.3L552.4,955.8L552.6,929.3L552.8,938L553,949.5L553.2,927.5L553.4,928.6L553.6,932.3L553.8,948.5L554,928.5L554.2,935.4L554.4,927.9L554.6,934.6L554.8,952.9L555,940.6L555.2,939.2L555.4,928.2L555.6,925.6L555.8,942.9L556,946.3L556.2,924.8L556.4,931.9L556.6,928.1L556.8,929.3L557,941.5L557.2,921.3L557.4,943.9L557.6,948.1L557.8,919L558,933.8L558.2,930.6L558.4,922.9L558.6,951.3L558.8,947L559,927.8L559.2,928.2L559.4,934.7L559.6,944.7L559.8,942.9L560,935.2L560.2,922.9L560.4,918.3L560.6,932.3L560.8,938.5L561,940.9L561.2,946.4L561.4,932.8L561.6,932.1L561.8,943.6L562,932L562.2,940.6L562.4,912.3L562.6,944.2L562.8,936L563,936.5L563.2,941.3L563.4,934L563.6,920L563.8,929.3L564,948L564.2,931.8L564.4,933.1L564.6,928.6L564.8,931.6L565,927.7L565.2,923.4L565.4,932.9L565.6,927.2L565.8,923.1L566,943L566.2,931.1L566.4,936L566.6,947L566.8,948.1L567,928.7L567.2,936.8L567.4,933L567.6,926.9L567.8,935.4L568,928.4L568.2,926.9L568.4,933L568.6,935.4L568.8,938.4L569,932.1L569.2,941.6L569.4,929.6L569.6,929.6L569.8,939.4L570,925.9L570.2,937.6L570.4,939.4L570.6,928.7L570.8,925.4L571,933.7L571.2,937.5L571.4,929.1L571.6,929.8L571.8,920.1L572,935.4L572.2,939.4L572.4,940.4L572.6,932.2L572.8,937.6L573,945.6L573.2,939.8L573.4,934.7L573.6,933.8L573.8,937.6L574,936.4L574.2,931.6L574.4,941.6L574.6,933.3L574.8,939.5L575,930.3L575.2,943.7L575.4,935.1L575.6,929.1L575.8,927.9L576,948.3L576.2,937.8L576.4,942L576.6,930.2L576.8,932.3L577,930.6L577.2,937.1L577.4,932.2L577.6,936.3L577.8,925.3L578,951.6L578.2,924.6L578.4,970.1L578.6,936.7L578.8,944.8L579,934.1L579.2,943L579.4,937.3L579.6,925L579.8,926.5L580,924.5L580.2,941L580.4,932.3L580.6,933.6L580.8,935.1L581,933.1L581.2,933.6L581.4,927.5L581.6,925.7L581.8,937.2L582,936L582.2,933.8L582.4,939L582.6,937.7L582.8,937.1L583,944.3L583.2,917.5L583.4,937.2L583.6,915.8L583.8,940.3L584,939.7L584.2,932.7L584.4,933.5L584.6,939.4L584.8,930.6L585,932.6L585.2,940.2L585.4,915.5L585.6,936.4L585.8,937.1L586,939.9L586.2,937.3L586.4,921.1L586.6,943.4L586.8,925.4L587,913.5L587.2,935.1L587.4,933.8L587.6,935.9L587.8,938.3L588,945.5L588.2,940.9L588.4,922.5L588.6,937.1L588.8,936.8L589,932.4L589.2,933.8L589.4,932.4L589.6,939.1L589.8,926.6L590,915L590.2,932.3L590.4,926.4L590.6,930.8L590.8,938.7L591,924.4L591.2,933.8L591.4,924.5L591.6,925.3L591.8,928.1L592,926.1L592.2,936.4L592.4,924.9L592.6,932L592.8,931.8L593,930.5L593.2,938.7L593.4,941.4L593.6,938L593.8,942.5L594,933.3L594.2,942.2L594.4,939.7L594.6,933.8L594.8,942.1L595,926.7L595.2,925.7L595.4,923.9L595.6,935.8L595.8,923.7L596,939.5L596.2,923.6L596.4,930.2L596.6,932.8L596.8,944L597,927.6L597.2,937.6L597.4,939.2L597.6,932.7L597.8,919.6L598,940.6L598.2,930L598.4,927.6L598.6,933.8L598.8,917.9L599,939.3L599.2,924.1L599.4,935.9L599.6,933.3L599.8,927L600,935.5L600.2,935.5L600.4,931.5L600.6,933.5L600.8,934.9L601,928.1L601.2,925.7L601.4,932.2L601.6,920.4L601.8,924.9L602,937.2L602.2,937.3L602.4,931.5L602.6,936.8L602.8,931.3L603,927.1L603.2,936.7L603.4,932.4L603.6,932.6L603.8,931.5L604,948.9L604.2,936.8L604.4,939.4L604.6,931.3L604.8,936.5L605,927.8L605.2,930.2L605.4,931.4L605.6,932.3L605.8,944.8L606,927.4L606.2,939.2L606.4,934.6L606.6,933.7L606.8,947.7L607,931.4L607.2,920.5L607.4,940.8L607.6,937.5L607.8,921.5L608,937.1L608.2,925.5L608.4,931.8L608.6,935.1L608.8,925.7L609,931.1L609.2,942L609.4,932.2L609.6,929.5L609.8,938.7L610,939.7L610.2,940.1L610.4,949.5L610.6,920.7L610.8,920.9L611,928.5L611.2,920.9L611.4,926.2L611.6,922.9L611.8,937.1L612,939.7L612.2,927.9L612.4,948.3L612.6,944.6L612.8,927.1L613,930.1L613.2,930.9L613.4,936.6L613.6,936.8L613.8,933.1L614,934.3L614.2,934L614.4,937L614.6,927.8L614.8,933.1L615,926.2L615.2,932.7L615.4,930.3L615.6,933.3L615.8,919.5L616,922.5L616.2,944.5L616.4,934.7L616.6,926.7L616.8,936L617,947.9L617.2,941L617.4,925.1L617.6,927.4L617.8,919.3L618,925.1L618.2,939.5L618.4,943.2L618.6,933.2L618.8,922.1L619,915.5L619.2,933.7L619.4,932L619.6,931.4L619.8,932.2L620,946L620.2,930.3L620.4,934.4L620.6,936.8L620.8,943.4L621,931.5L621.2,931.1L621.4,936.7L621.6,932.2L621.8,925L622,931.9L622.2,931.1L622.4,926.3L622.6,921.8L622.8,926.4L623,928.4L623.2,937.6L623.4,940.4L623.6,912.9L623.8,933.2L624,930.9L624.2,932.9L624.4,936.4L624.6,926.1L624.8,913.2L625,934.6L625.2,930.8L625.4,936.6L625.6,935.1L625.8,929.8L626,936.5L626.2,930.2L626.4,934.7L626.6,926.2L626.8,933.9L627,934.1L627.2,927.4L627.4,932.3L627.6,943.8L627.8,928.9L628,923.4L628.2,942.3L628.4,946.4L628.6,933.6L628.8,935.3L629,937L629.2,929.8L629.4,938.1L629.6,930.3L629.8,915.8L630,929.3L630.2,933.9L630.4,944.9L630.6,930.9L630.8,927.1L631,932.3L631.2,931L631.4,927.9L631.6,940.4L631.8,934.8L632,926.2L632.2,932.8L632.4,937.9L632.6,921.5L632.8,920.4L633,929.9L633.2,927.8L633.4,924.6L633.6,928.2L633.8,921.9L634,944.7L634.2,933.4L634.4,935.9L634.6,927.2L634.8,935.3L635,913.1L635.2,926.4L635.4,934L635.6,927.1L635.8,931.3L636,916.7L636.2,929.5L636.4,933.9L636.6,935.5L636.8,930.9L637,926.6L637.2,940.4L637.4,924.9L637.6,927.2L637.8,930.1L638,932.8L638.2,935L638.4,925.8L638.6,935.4L638.8,934.9L639,922.3L639.2,934.8L639.4,925.1L639.6,940.9L639.8,943.1L640,922.4L640.2,916.6L640.4,925.2L640.6,929.8L640.8,930.5L641,928.4L641.2,940.7L641.4,933.2L641.6,935.3L641.8,918.2L642,934.1L642.2,928.5L642.4,931.8L642.6,930.8L642.8,939.7L643,921.8L643.2,935L643.4,917.7L643.6,934L643.8,931.1L644,941.2L644.2,930.5L644.4,934.2L644.6,925.8L644.8,932.6L645,931.6L645.2,929.9L645.4,929.2L645.6,932.6L645.8,924.4L646,931.1L646.2,939L646.4,936.7L646.6,934.4L646.8,919.2L647,922.9L647.2,920.9L647.4,927.2L647.6,929.4L647.8,935.4L648,927.5L648.2,927L648.4,937.6L648.6,928.5L648.8,918.9L649,932.9L649.2,923.8L649.4,931.4L649.6,937.9L649.8,934.8L650,926.2L650.2,929.3L650.4,925L650.6,938.5L650.8,935.8L651,931.8L651.2,935.3L651.4,938.7L651.6,927.9L651.8,934.9L652,941.6L652.2,928.9L652.4,939.4L652.6,934.6L652.8,923.9L653,930L653.2,921.3L653.4,935.2L653.6,924.7L653.8,930.1L654,929.2L654.2,944.1L654.4,935.6L654.6,931.9L654.8,943L655,925.6L655.2,937.1L655.4,934.1L655.6,933L655.8,937.1L656,925.5L656.2,943L656.4,934.7L656.6,935.2L656.8,934.1L657,932.9L657.2,952.3L657.4,931.3L657.6,924.9L657.8,928.3L658,910.4L658.2,934.6L658.4,927.7L658.6,930.1L658.8,926L659,935.8L659.2,945.7L659.4,924.6L659.6,938.4L659.8,935.9L660,936.3L660.2,932.7L660.4,937.9L660.6,940.2L660.8,928.2L661,912.1L661.2,934.6L661.4,927.1L661.6,941.2L661.8,927.2L662,932.9L662.2,912.7L662.4,933.5L662.6,932.3L662.8,941.2L663,934.1L663.2,935L663.4,934L663.6,916.7L663.8,938.3L664,932.7L664.2,933L664.4,934.9L664.6,927.1L664.8,929.5L665,931.4L665.2,934.1L665.4,940.5L665.6,933.4L665.8,935.2L666,925L666.2,945.4L666.4,941.2L666.6,937.5L666.8,921.9L667,935.6L667.2,921.8L667.4,928.1L667.6,925.8L667.8,922L668,933L668.2,944.5L668.4,925.8L668.6,938.4L668.8,930.7L669,928.8L669.2,932.9L669.4,934.6L669.6,924.9L669.8,920.8L670,925.5L670.2,907.5L670.4,906.2L670.6,924L670.8,931.5L671,927.9L671.2,926.1L671.4,923.7L671.6,923.1L671.8,928.8L672,929.6L672.2,927.7L672.4,930.9L672.6,936.1L672.8,919.6L673,916.7L673.2,940.6L673.4,920.9L673.6,924.1L673.8,933.4L674,927.7L674.2,938.6L674.4,929.7L674.6,936.1L674.8,931.7L675,934.3L675.2,926.4L675.4,925.1L675.6,931.8L675.8,921.7L676,940.4L676.2,929.3L676.4,927.2L676.6,943L676.8,925.2L677,924L677.2,935.6L677.4,928.3L677.6,930L677.8,931.5L678,935.9L678.2,927L678.4,940.1L678.6,923.9L678.8,931.6L679,927.1L679.2,941.4L679.4,923.6L679.6,951L679.8,923.1L680,933.7L680.2,932.7L680.4,935.4L680.6,934.5L680.8,919.3L681,918.3L681.2,928.8L681.4,931.6L681.6,922L681.8,932.7L682,941.7L682.2,931.5L682.4,935.6L682.6,924.2L682.8,949.5L683,930.1L683.2,931.4L683.4,931.6L683.6,927.5L683.8,930.5L684,932.2L684.2,921.1L684.4,936.2L684.6,934.7L684.8,927L685,919.9L685.2,926.9L685.4,921.2L685.6,946.2L685.8,940.6L686,931.8L686.2,927.7L686.4,938.8L686.6,936L686.8,946.2L687,913.7L687.2,935.1L687.4,917.7L687.6,947.8L687.8,912.8L688,920.3L688.2,921.7L688.4,926.6L688.6,926.9L688.8,938.4L689,928.4L689.2,930.8L689.4,932.4L689.6,916.4L689.8,940.4L690,918.8L690.2,935.2L690.4,935.3L690.6,919.6L690.8,939.1L691,934.8L691.2,933.4L691.4,931.7L691.6,932.1L691.8,935.6L692,940.2L692.2,910.6L692.4,947.1L692.6,932.5L692.8,934L693,925L693.2,926.1L693.4,935L693.6,921.6L693.8,918.1L694,936.4L694.2,931.9L694.4,925.9L694.6,946.3L694.8,932.2L695,933.8L695.2,929.4L695.4,930.6L695.6,922.8L695.8,943.2L696,915.4L696.2,924.2L696.4,911.8L696.6,926.4L696.8,931.7L697,930.3L697.2,941.4L697.4,924.1L697.6,934.1L697.8,922.5L698,921.4L698.2,928.7L698.4,938.1L698.6,909.8L698.8,920.8L699,921L699.2,933.2L699.4,925L699.6,932.1L699.8,950.2L700,932.3L700.2,929.8L700.4,921.4L700.6,914.7L700.8,925.5L701,944.9L701.2,918.2L701.4,928.4L701.6,919.1L701.8,933.3L702,939.4L702.2,916.2L702.4,929L702.6,926.4L702.8,923.8L703,918.3L703.2,932L703.4,931.9L703.6,944.2L703.8,921.6L704,929.1L704.2,920.9L704.4,922.9L704.6,949.4L704.8,940.5L705,925.8L705.2,926.4L705.4,929.9L705.6,944.5L705.8,939.8L706,928.3L706.2,916L706.4,924.8L706.6,945.9L706.8,919.1L707,925.5L707.2,908.4L707.4,933.5L707.6,930.7L707.8,947.1L708,907.1L708.2,916.8L708.4,916.7L708.6,936.4L708.8,928.3L709,914L709.2,934L709.4,895.3L709.6,941.9L709.8,938L710,910.8L710.2,918.3L710.4,910.6L710.6,929.8L710.8,932.5L711,917.9L711.2,944.4L711.4,923.6L711.6,935L711.8,932.8L712,931.3L712.2,932.4L712.4,925.2L712.6,918.8L712.8,915.2L713,924.1L713.2,935.2L713.4,946.6L713.6,930.6L713.8,925.4L714,925.1L714.2,927.3L714.4,913.4L714.6,915.6L714.8,931.5L715,938.9L715.2,943.1L715.4,934.3L715.6,921.1L715.8,940.6L716,932L716.2,924.9L716.4,949.3L716.6,927.3L716.8,942.6L717,924.5L717.2,927.8L717.4,928.6L717.6,928.4L717.8,927.6L718,931.1L718.2,943L718.4,929.1L718.6,918.5L718.8,903.2L719,936.8L719.2,948.1L719.4,914.2L719.6,931.9L719.8,949.9L720,921L720.2,922.9L720.4,938.8L720.6,919.8L720.8,913.1L721,924.6L721.2,888.5L721.4,914.4L721.6,935.8L721.8,922.1L722,922.5L722.2,925.9L722.4,921L722.6,917.1L722.8,923.4L723,909L723.2,930.2L723.4,924.5L723.6,933.6L723.8,920.6L724,946.8L724.2,925.6L724.4,919.7L724.6,938.9L724.8,913.8L725,944.7L725.2,953.4L725.4,912L725.6,908.2L725.8,930.8L726,935.3L726.2,934.4L726.4,913.2L726.6,908.8L726.8,898.2L727,929.9L727.2,914.8L727.4,897L727.6,929.3L727.8,935L728,929.3L728.2,918.1L728.4,934.4L728.6,893.2L728.8,927.6L729,933L729.2,921.7L729.4,914.2L729.6,917.7L729.8,938.6L730,914.9L730.2,894.5L730.4,926.4L730.6,904.3L730.8,922L731,915.4L731.2,923.3L731.4,907.5L731.6,932.8L731.8,933.1L732,928.3L732.2,929L732.4,929.3L732.6,918.9L732.8,923.6L733,932.4L733.2,919.8L733.4,907.7L733.6,890.2L733.8,929.2L734,941.6L734.2,926.7L734.4,923.4L734.6,913.7L734.8,921.1L735,935.1L735.2,951.5L735.4,933.8L735.6,927.2L735.8,944.8L736,943.8L736.2,892.3L736.4,915.6L736.6,897.7L736.8,891.4L737,926.7L737.2,922L737.4,920.8L737.6,934.2L737.8,924.1L738,928.4L738.2,929.8L738.4,912.5L738.6,956L738.8,938L739,923.5L739.2,931L739.4,915.6L739.6,929.2L739.8,930.4L740,914.4L740.2,912.4L740.4,966.3L740.6,912.7L740.8,943.9L741,913.5L741.2,917.2L741.4,934.8L741.6,904.8L741.8,952.4L742,935.6L742.2,924.5L742.4,953.1L742.6,915.6L742.8,946.5L743,926.5L743.2,934.6L743.4,922.7L743.6,915.8L743.8,918.9L744,939.7L744.2,924.5L744.4,919.1L744.6,914.8L744.8,895.4L745,943.6L745.2,927.6L745.4,903.5L745.6,919.8L745.8,927.5L746,915.3L746.2,920.7L746.4,921.8L746.6,930L746.8,924.4L747,937L747.2,938.2L747.4,927.9L747.6,928.6L747.8,920.7L748,938.2L748.2,951.2L748.4,931.7L748.6,934.8L748.8,942.4L749,914.1L749.2,923.9L749.4,939.5L749.6,928.9L749.8,943.3L750,927L750.2,953.7L750.4,937L750.6,919L750.8,907.5L751,942.4L751.2,919.7L751.4,919.5L751.6,911.6L751.8,902L752,940.6L752.2,917.3L752.4,924.9L752.6,910.4L752.8,910.6L753,924L753.2,920.2L753.4,941.3L753.6,935.9L753.8,932.8L754,947.6L754.2,929.3L754.4,913.8L754.6,939.6L754.8,951.9L755,921.1L755.2,947.5L755.4,934.5L755.6,924L755.8,900.2L756,915L756.2,912.5L756.4,940L756.6,911.6L756.8,938.9L757,942.5L757.2,921.6L757.4,918.4L757.6,912.2L757.8,926.2L758,920.3L758.2,922.3L758.4,918.4L758.6,923L758.8,950.9L759,923.6L759.2,913L759.4,911L759.6,931L759.8,917.5L760,926.6L760.2,924.7L760.4,913.3L760.6,893.5L760.8,921.7L761,889.8L761.2,936.6L761.4,903.4L761.6,914.7L761.8,919.8L762,907.9L762.2,938.5L762.4,910.4L762.6,924.5L762.8,928.4L763,946L763.2,936.9L763.4,946.6L763.6,935.8L763.8,892.1L764,930.3L764.2,917.2L764.4,925.8L764.6,924.4L764.8,942L765,894.8L765.2,929.3L765.4,919.6L765.6,901.2L765.8,917.9L766,927.3L766.2,921L766.4,922.1L766.6,912.6L766.8,926.5L767,920.5L767.2,904.2L767.4,950.4L767.6,899.2L767.8,941.3L768,910.3L768.2,907.9L768.4,931L768.6,907.6L768.8,899.9L769,909.9L769.2,938.4L769.4,896.1L769.6,949.9L769.8,937.9L770,937.9L770.2,930L770.4,907.4L770.6,915L770.8,930.1L771,936.1L771.2,932.8L771.4,922.1L771.6,915.1L771.8,964.1L772,902.9L772.2,923.1L772.4,902.6L772.6,942.4L772.8,913.9L773,932.9L773.2,947.7L773.4,878.4L773.6,903.4L773.8,885.6L774,896.5L774.2,896.2L774.4,905.3L774.6,942.5L774.8,918.8L775,927.6L775.2,946.9L775.4,923.7L775.6,917.8L775.8,941.4L776,926.1L776.2,903.2L776.4,883.5L776.6,907.4L776.8,920.6L777,906.6L777.2,930.7L777.4,950.4L777.6,936L777.8,876.9L778,913.1L778.2,903.2L778.4,936.4L778.6,930.5L778.8,920.6L779,918.6L779.2,913.8L779.4,900.2L779.6,920.3L779.8,904.4L780,901.6L780.2,940.8L780.4,916.8L780.6,934.8L780.8,925.8L781,907.3L781.2,933.2L781.4,914.9L781.6,929.5L781.8,920.4L782,941.1L782.2,931.4L782.4,920.4" fill="none" stroke="#000" stroke-width="1.05" stroke-linejoin="round"/>
</g>
<path d="M83.8,846.6L86.8,847.6L89.8,848.6L92.8,849.6L95.8,850.7L98.8,851.7L101.8,852.7L104.8,853.7L107.8,854.7L110.8,855.6L113.8,856.6L116.8,857.6L119.8,858.5L122.8,859.5L125.8,860.4L128.8,861.4L131.8,862.3L134.8,863.2L137.8,864.2L140.8,865.1L143.8,866L146.8,866.9L149.8,867.8L152.8,868.7L155.8,869.6L158.8,870.5L161.8,871.3L164.8,872.2L167.8,873.1L170.8,873.9L173.8,874.8L176.8,875.6L179.8,876.4L182.8,877.3L185.8,878.1L188.8,878.9L191.8,879.7L194.8,880.5L197.8,881.3L200.8,882.1L203.8,882.9L206.8,883.7L209.8,884.4L212.8,885.2L215.8,886L218.8,886.7L221.8,887.5L224.8,888.2L227.8,889L230.8,889.7L233.8,890.4L236.8,891.1L239.8,891.8L242.8,892.5L245.8,893.2L248.8,893.9L251.8,894.6L254.8,895.3L257.8,896L260.8,896.6L263.8,897.3L266.8,898L269.8,898.6L272.8,899.3L275.8,899.9L278.8,900.5L281.8,901.1L284.8,901.8L287.8,902.4L290.8,903L293.8,903.6L296.8,904.2L299.8,904.8L302.8,905.3L305.8,905.9L308.8,906.5L311.8,907.1L314.8,907.6L317.8,908.2L320.8,908.7L323.8,909.2L326.8,909.8L329.8,910.3L332.8,910.8L335.8,911.3L338.8,911.8L341.8,912.3L344.8,912.8L347.8,913.3L350.8,913.8L353.8,914.3L356.8,914.8L359.8,915.2L362.8,915.7L365.8,916.1L368.8,916.6L371.8,917L374.8,917.4L377.8,917.9L380.8,918.3L383.8,918.7L386.8,919.1L389.8,919.5L392.8,919.9L395.8,920.3L398.8,920.7L401.8,921.1L404.8,921.4L407.8,921.8L410.8,922.1L413.8,922.5L416.8,922.8L419.8,923.2L422.8,923.5L425.8,923.8L428.8,924.1L431.8,924.4L434.8,924.7L437.8,925L440.8,925.3L443.8,925.6L446.8,925.9L449.8,926.2L452.8,926.4L455.8,926.7L458.8,926.9L461.8,927.2L464.8,927.4L467.8,927.7L470.8,927.9L473.8,928.1L476.8,928.3L479.8,928.5L482.8,928.7L485.8,928.9L488.8,929.1L491.8,929.3L494.8,929.5L497.8,929.7L500.8,929.8L503.8,930L506.8,930.2L509.8,930.3L512.8,930.4L515.8,930.6L518.8,930.7L521.8,930.8L524.8,931L527.8,931.1L530.8,931.2L533.8,931.3L536.8,931.4L539.8,931.5L542.8,931.5L545.8,931.6L548.8,931.7L551.8,931.8L554.8,931.8L557.8,931.9L560.8,931.9L563.8,932L566.8,932L569.8,932L572.8,932L575.8,932.1L578.8,932.1L581.8,932.1L584.8,932.1L587.8,932.1L590.8,932.1L593.8,932L596.8,932L599.8,932L602.8,931.9L605.8,931.9L608.8,931.9L611.8,931.8L614.8,931.7L617.8,931.7L620.8,931.6L623.8,931.5L626.8,931.4L629.8,931.4L632.8,931.3L635.8,931.2L638.8,931L641.8,930.9L644.8,930.8L647.8,930.7L650.8,930.6L653.8,930.4L656.8,930.3L659.8,930.1L662.8,930L665.8,929.8L668.8,929.7L671.8,929.5L674.8,929.3L677.8,929.2L680.8,929L683.8,928.8L686.8,928.6L689.8,928.4L692.8,928.2L695.8,928L698.8,927.7L701.8,927.5L704.8,927.3L707.8,927.1L710.8,926.8L713.8,926.6L716.8,926.3L719.8,926.1L722.8,925.8L725.8,925.5L728.8,925.3L731.8,925L734.8,924.7L737.8,924.4L740.8,924.1L743.8,923.8L746.8,923.5L749.8,923.2L752.8,922.9L755.8,922.6L758.8,922.3L761.8,921.9L764.8,921.6L767.8,921.3L770.8,920.9L773.8,920.6L776.8,920.2L779.8,919.9L782.8,919.5" fill="none" stroke="#f00" stroke-width="3.2" stroke-linecap="butt"/>
<rect x="290.8" y="9.2" width="290.8" height="210.4" fill="#fff" stroke="none"/>
<g clip-path="url(#ci)">
<path d="M290.8,207.1L291.4,219.6L292,218.9L292.6,209.7L293.2,208.2L293.8,215.7L294.4,215.3L295,213.7L295.6,218.1L296.2,215.1L296.8,207.2L297.4,206.1L298,213.9L298.6,213.3L299.2,213.4L299.8,206.5L300.4,219.6L301.1,212.8L301.7,213.9L302.3,215.5L302.9,214.9L303.5,219.6L304.1,214.1L304.7,213.2L305.3,216.9L305.9,210.2L306.5,206.9L307.1,209.8L307.7,214.4L308.3,215.6L308.9,214.9L309.5,219.6L310.1,214.2L310.7,209L311.3,215.6L311.9,212.7L312.5,218.4L313.1,213.9L313.7,212.2L314.3,213.7L314.9,219.6L315.6,217.7L316.2,215.9L316.8,216.6L317.4,212.1L318,215.5L318.6,219.6L319.2,216.9L319.8,219.5L320.4,209.6L321,211.4L321.6,212.8L322.2,207.3L322.8,213.3L323.4,215.2L324,219.6L324.6,209.2L325.2,215.3L325.8,210.7L326.4,219.6L327,205.2L327.6,211.8L328.2,210.4L328.8,215.8L329.5,219.6L330.1,213.8L330.7,216.2L331.3,218L331.9,217.6L332.5,211.5L333.1,215.3L333.7,219.6L334.3,212.2L334.9,212.1L335.5,212.3L336.1,217.8L336.7,218.6L337.3,214.7L337.9,207.1L338.5,219.4L339.1,219.6L339.7,216.5L340.3,219.6L340.9,205.5L341.5,218.5L342.1,210.5L342.7,218.2L343.3,203.5L344,208.9L344.6,211.5L345.2,208.3L345.8,209.3L346.4,219.6L347,211.4L347.6,212.9L348.2,205.9L348.8,211.6L349.4,218.1L350,204.2L350.6,212.9L351.2,217.3L351.8,219.5L352.4,210.6L353,219.6L353.6,214.1L354.2,212.4L354.8,219.6L355.4,219.6L356,219.6L356.6,212.9L357.2,214.4L357.9,214.1L358.5,215.1L359.1,210.2L359.7,193L360.3,209.6L360.9,212.8L361.5,213.2L362.1,203.5L362.7,219.6L363.3,213.7L363.9,206.5L364.5,218.3L365.1,206.9L365.7,218.8L366.3,214.2L366.9,217.3L367.5,213.5L368.1,219.6L368.7,215.3L369.3,214.2L369.9,215.9L370.5,208.1L371.1,210.6L371.7,216.2L372.4,209.7L373,218.1L373.6,214.6L374.2,211.3L374.8,213.3L375.4,207.4L376,214.2L376.6,216.2L377.2,208.4L377.8,211.6L378.4,209.9L379,199.6L379.6,208.7L380.2,213.1L380.8,213.1L381.4,218.4L382,212.8L382.6,217.8L383.2,208.5L383.8,214.1L384.4,219.6L385,211.8L385.6,207.2L386.3,209.7L386.9,210.9L387.5,205.2L388.1,216.8L388.7,211.9L389.3,214.1L389.9,210.5L390.5,219.4L391.1,207.9L391.7,215.4L392.3,209.1L392.9,207L393.5,211.9L394.1,202.4L394.7,217.7L395.3,216.6L395.9,217.3L396.5,215L397.1,209.4L397.7,206.5L398.3,212.5L398.9,215.8L399.5,215.6L400.1,219.6L400.8,212.8L401.4,219.6L402,207.9L402.6,219.2L403.2,203.2L403.8,219.6L404.4,209L405,219.6L405.6,215.3L406.2,215.2L406.8,208.9L407.4,202.6L408,203.5L408.6,215.9L409.2,201.6L409.8,214.2L410.4,208.7L411,197.4L411.6,208.7L412.2,204L412.8,198.7L413.4,202.5L414,192.4L414.7,200L415.3,185.7L415.9,187.3L416.5,186.6L417.1,179.1L417.7,186.7L418.3,176.2L418.9,172.8L419.5,170.6L420.1,165.6L420.7,164.4L421.3,164.3L421.9,162.5L422.5,148.1L423.1,143.1L423.7,142.9L424.3,139.8L424.9,142.9L425.5,129.1L426.1,135.8L426.7,129.7L427.3,128.4L427.9,133L428.5,127.6L429.2,123.8L429.8,124L430.4,115.8L431,107.6L431.6,113.1L432.2,94.9L432.8,90.7L433.4,80.4L434,74.5L434.6,59.1L435.2,45.7L435.8,35.2L436.4,31.3L437,41.6L437.6,49.2L438.2,58.5L438.8,61.4L439.4,80.9L440,98.9L440.6,109.1L441.2,112.6L441.8,120.3L442.4,129L443.1,133.9L443.7,133L444.3,146.4L444.9,140.9L445.5,145.7L446.1,149.5L446.7,162.6L447.3,157.3L447.9,159.1L448.5,167.1L449.1,171.1L449.7,174.6L450.3,173.1L450.9,171.7L451.5,175.7L452.1,177L452.7,175.7L453.3,185.2L453.9,191.4L454.5,192.9L455.1,190.2L455.7,191.6L456.3,193.3L456.9,189.4L457.6,200L458.2,197.9L458.8,205.1L459.4,205.4L460,205.5L460.6,203L461.2,192.9L461.8,202.4L462.4,202.5L463,210.4L463.6,207.7L464.2,210.4L464.8,203.9L465.4,209.1L466,204.8L466.6,213.3L467.2,209.3L467.8,207.3L468.4,203.2L469,202.4L469.6,214.1L470.2,205.3L470.8,211.4L471.5,211.2L472.1,212.1L472.7,210.6L473.3,219.1L473.9,210.1L474.5,214.2L475.1,211.6L475.7,219.6L476.3,213.3L476.9,214.6L477.5,214.2L478.1,213.4L478.7,210.4L479.3,213.9L479.9,212.4L480.5,216.7L481.1,218.3L481.7,216.9L482.3,217.4L482.9,213.3L483.5,213.5L484.1,212.8L484.7,214.2L485.3,216.8L486,218.8L486.6,211.8L487.2,211.9L487.8,219.6L488.4,207.8L489,217.4L489.6,211.4L490.2,218.4L490.8,214.1L491.4,214.9L492,212.5L492.6,214.7L493.2,217.6L493.8,210.9L494.4,219.6L495,216.8L495.6,219.6L496.2,212.9L496.8,215.1L497.4,216.5L498,211.2L498.6,213.6L499.2,216.5L499.9,215.8L500.5,215.1L501.1,215.8L501.7,212.7L502.3,214.1L502.9,215L503.5,214L504.1,216.6L504.7,213.1L505.3,211.8L505.9,214.2L506.5,216.4L507.1,215.4L507.7,217L508.3,212.1L508.9,212.2L509.5,216.6L510.1,214.8L510.7,217.2L511.3,215.2L511.9,217.1L512.5,211.7L513.1,217.7L513.7,212.3L514.4,217L515,214.3L515.6,215.8L516.2,217.2L516.8,217.6L517.4,215L518,213.7L518.6,214.2L519.2,214L519.8,216.3L520.4,212.6L521,216.4L521.6,216.1L522.2,216.1L522.8,214.9L523.4,219.6L524,214.3L524.6,215L525.2,214.2L525.8,206.1L526.4,215.2L527,219.2L527.6,218.5L528.3,214.1L528.9,216.8L529.5,214.5L530.1,214.8L530.7,216.7L531.3,219.6L531.9,218.8L532.5,218L533.1,215.5L533.7,218.3L534.3,215.7L534.9,210.8L535.5,218.5L536.1,219.6L536.7,219.6L537.3,215.8L537.9,217.3L538.5,210L539.1,219.6L539.7,219.6L540.3,217L540.9,214.5L541.5,211.8L542.1,211.1L542.8,213.3L543.4,216.3L544,217.4L544.6,218.4L545.2,215L545.8,216.1L546.4,219.6L547,217.3L547.6,219.5L548.2,215.3L548.8,215.2L549.4,214.5L550,219.1L550.6,218.2L551.2,217.2L551.8,219.6L552.4,218.1L553,217.2L553.6,216.2L554.2,218.4L554.8,212.2L555.4,214.5L556,218.1L556.6,218.5L557.3,217.4L557.9,215L558.5,214.4L559.1,214.5L559.7,215.1L560.3,215.4L560.9,219.5L561.5,217.8L562.1,216.3L562.7,215.3L563.3,219.6L563.9,214.4L564.5,213.5L565.1,219.6L565.7,219.6L566.3,219.6L566.9,219.4L567.5,216L568.1,213.7L568.7,213.4L569.3,217.7L569.9,218.7L570.5,212.5L571.2,214.8L571.8,215.8L572.4,218.1L573,218.5L573.6,215.2L574.2,217L574.8,217.3L575.4,217.6L576,215.4L576.6,214.4L577.2,215.3L577.8,216.7L578.4,219.6L579,215.8L579.6,217.2L580.2,219.6L580.8,218.5" fill="none" stroke="#00f" stroke-width="1" stroke-linejoin="round"/>
<path d="M290.8,214.8L291.2,201.7L291.6,219L291.9,205L292.3,208L292.7,209.2L293.1,210.3L293.5,210.9L293.9,213.7L294.3,210.2L294.6,201.1L295,210.7L295.4,219.6L295.8,215.4L296.2,209.5L296.6,210.8L297,211.2L297.4,213.9L297.7,214.9L298.1,216.5L298.5,219.5L298.9,210.7L299.3,210.5L299.7,203.6L300.1,210.3L300.4,214L300.8,209.5L301.2,210.1L301.6,218.7L302,212.7L302.4,211.4L302.8,217.1L303.2,215.7L303.5,215.5L303.9,211L304.3,216.3L304.7,212.7L305.1,219.6L305.5,211.1L305.9,211.5L306.2,209.6L306.6,214.8L307,216.4L307.4,219.6L307.8,212.4L308.2,210.8L308.6,215.3L309,215.8L309.3,218.7L309.7,210.9L310.1,217.5L310.5,213.6L310.9,219.6L311.3,215.7L311.7,215.7L312,213.4L312.4,211.9L312.8,219.2L313.2,219.5L313.6,215.1L314,213.5L314.4,219.6L314.8,219.6L315.1,211.7L315.5,219.3L315.9,218.3L316.3,218.3L316.7,215.6L317.1,215.8L317.5,218.6L317.9,210.7L318.2,212.2L318.6,216.2L319,217.4L319.4,219.6L319.8,215.2L320.2,219.6L320.6,218.6L320.9,217.5L321.3,216.8L321.7,218.2L322.1,211.4L322.5,217.4L322.9,214.1L323.3,215.2L323.7,217.6L324,215.1L324.4,217.3L324.8,219.6L325.2,219.6L325.6,215.3L326,219.1L326.4,215.6L326.7,216.1L327.1,214.8L327.5,215.1L327.9,217.2L328.3,213.7L328.7,215.5L329.1,213.9L329.5,215.3L329.8,216.8L330.2,216.8L330.6,216.8L331,215.2L331.4,217.6L331.8,213.4L332.2,214.2L332.5,214.6L332.9,216L333.3,209.5L333.7,208.7L334.1,209.5L334.5,213.3L334.9,211.7L335.3,208.4L335.6,208.2L336,208.6L336.4,207.8L336.8,205.7L337.2,209.6L337.6,213.8L338,207.8L338.3,208.1L338.7,202.3L339.1,208.3L339.5,207.6L339.9,206L340.3,210.2L340.7,209.7L341.1,210.8L341.4,210.4L341.8,203L342.2,201.7L342.6,212.1L343,204.2L343.4,203.2L343.8,202.6L344.1,199.9L344.5,212.4L344.9,198.2L345.3,206L345.7,211.3L346.1,198.3L346.5,200.2L346.9,207L347.2,209L347.6,200.9L348,195.3L348.4,195.8L348.8,201.6L349.2,200.7L349.6,195.4L349.9,198.9L350.3,199.8L350.7,197.4L351.1,199.7L351.5,204L351.9,196.5L352.3,199.3L352.7,191.8L353,194.4L353.4,197.3L353.8,200L354.2,196L354.6,193.8L355,195.8L355.4,188.3L355.7,186.1L356.1,189.6L356.5,196.6L356.9,194.9L357.3,199.3L357.7,191.7L358.1,192.1L358.5,189.3L358.8,192.3L359.2,194.7L359.6,186.9L360,190L360.4,186.3L360.8,181.6L361.2,189L361.5,181.5L361.9,187.4L362.3,186.1L362.7,182.4L363.1,192.9L363.5,182.9L363.9,182.5L364.3,180.8L364.6,178.3L365,181L365.4,181.4L365.8,178.1L366.2,178.6L366.6,173.7L367,181L367.4,175.6L367.7,174.8L368.1,173.5L368.5,177.6L368.9,177.3L369.3,182.7L369.7,176.3L370.1,182.2L370.4,176.6L370.8,176.9L371.2,175.8L371.6,175.3L372,172.5L372.4,168.4L372.8,170.1L373.2,174.2L373.5,173.9L373.9,171L374.3,167.9L374.7,173.4L375.1,167.4L375.5,161.5L375.9,168.1L376.2,171.7L376.6,162L377,164.2L377.4,166.7L377.8,166.5L378.2,163.8L378.6,162.5L379,167L379.3,162.1L379.7,168.9L380.1,163.3L380.5,164.8L380.9,160.4L381.3,157.9L381.7,154L382,155.7L382.4,163.1L382.8,157.4L383.2,152L383.6,160.8L384,156.3L384.4,149.8L384.8,154.6L385.1,158L385.5,152L385.9,154.9L386.3,150.5L386.7,154.6L387.1,151L387.5,152.4L387.8,154.6L388.2,150.3L388.6,136.2L389,144.1L389.4,135.3L389.8,150.1L390.2,144.7L390.6,143.5L390.9,147.9L391.3,145L391.7,141.8L392.1,135.5L392.5,142.8L392.9,147.7L393.3,138.8L393.6,132.9L394,142.3L394.4,141.2L394.8,140.4L395.2,145.2L395.6,144.4L396,139.7L396.4,136L396.7,136.9L397.1,141L397.5,138.8L397.9,132.9L398.3,136.3L398.7,138.8L399.1,132.3L399.4,124.1L399.8,138.4L400.2,140.3L400.6,137.4L401,141.5L401.4,139.3L401.8,136.6L402.2,136.4L402.5,136.4L402.9,135.9L403.3,139.8L403.7,131.4L404.1,134.2L404.5,134.3L404.9,130.6L405.2,133.8L405.6,130.3L406,120.6L406.4,134.9L406.8,135.1L407.2,132.6L407.6,128.6L408,137.4L408.3,128.7L408.7,128.3L409.1,128.1L409.5,131.2L409.9,128.4L410.3,127.4L410.7,127L411,132L411.4,125.1L411.8,131L412.2,123.1L412.6,134.3L413,126L413.4,127.9L413.8,123.4L414.1,127.7L414.5,116.1L414.9,125.9L415.3,119L415.7,122.7L416.1,122.6L416.5,116L416.9,120.2L417.2,125.7L417.6,121.4L418,124.1L418.4,118.9L418.8,121.2L419.2,128.7L419.6,124.6L419.9,120.7L420.3,116.9L420.7,116.2L421.1,126.9L421.5,117.8L421.9,120.1L422.3,119.2L422.7,117.7L423,119.2L423.4,120L423.8,125.9L424.2,109.1L424.6,115.7L425,111.8L425.4,100.6L425.7,102.6L426.1,102.5L426.5,102.3L426.9,105.4L427.3,101.5L427.7,97.6L428.1,90.7L428.5,91.1L428.8,88.4L429.2,86.5L429.6,85.3L430,81.9L430.4,90.8L430.8,87.2L431.2,84L431.5,75.1L431.9,69.3L432.3,68.3L432.7,64L433.1,63.7L433.5,54.7L433.9,55.6L434.3,39.4L434.6,39.7L435,30.2L435.4,28.8L435.8,25.4L436.2,29.9L436.6,29.5L437,18.4L437.3,30.8L437.7,23.7L438.1,32.6L438.5,38.2L438.9,41L439.3,39.3L439.7,49.4L440.1,52.9L440.4,53.1L440.8,65.2L441.2,64.1L441.6,67.7L442,75.5L442.4,71.2L442.8,81.5L443.1,80.6L443.5,78.3L443.9,82.2L444.3,80.8L444.7,85.4L445.1,75.1L445.5,70.7L445.9,74.3L446.2,77.4L446.6,72.3L447,73.8L447.4,78.3L447.8,76.7L448.2,72.8L448.6,76.5L448.9,82.1L449.3,81.5L449.7,79.1L450.1,86.1L450.5,89.9L450.9,91L451.3,104L451.7,97.5L452,95.9L452.4,106.8L452.8,115.9L453.2,108.8L453.6,111.5L454,118.9L454.4,117.1L454.7,112.2L455.1,111.8L455.5,116.7L455.9,118.4L456.3,116.7L456.7,123.8L457.1,123.2L457.5,123.3L457.8,124.5L458.2,126.1L458.6,126L459,124.9L459.4,131.2L459.8,130.1L460.2,131.7L460.6,132.5L460.9,128.5L461.3,134.6L461.7,128.1L462.1,134.8L462.5,141.1L462.9,136.4L463.3,139.2L463.6,133.1L464,143.1L464.4,139L464.8,148.5L465.2,139.8L465.6,146L466,136.6L466.4,138.7L466.7,141.4L467.1,139.2L467.5,146L467.9,143.7L468.3,146L468.7,142.6L469.1,150.2L469.4,139.4L469.8,146.6L470.2,149.2L470.6,139L471,138.1L471.4,143.4L471.8,158.7L472.2,147L472.5,151L472.9,151.4L473.3,154.5L473.7,150.2L474.1,152.9L474.5,148L474.9,155.4L475.2,149.4L475.6,150.9L476,148.5L476.4,158.8L476.8,155.2L477.2,155.4L477.6,153.7L478,155.4L478.3,158.2L478.7,157.3L479.1,155.1L479.5,158.4L479.9,157.2L480.3,163.7L480.7,158.6L481,154.4L481.4,154.8L481.8,160.5L482.2,162L482.6,159.5L483,161.8L483.4,165.8L483.8,159.1L484.1,161.1L484.5,160.1L484.9,154L485.3,164.5L485.7,159.2L486.1,160.5L486.5,157.8L486.8,157.3L487.2,163.2L487.6,167.9L488,167L488.4,167.1L488.8,157.9L489.2,171.2L489.6,164.6L489.9,170.6L490.3,172.6L490.7,166.9L491.1,170.4L491.5,167.5L491.9,171.9L492.3,166.3L492.6,164.7L493,172.9L493.4,169.5L493.8,173.5L494.2,177.3L494.6,178.6L495,165L495.4,173.7L495.7,178.3L496.1,172.8L496.5,173.9L496.9,176.2L497.3,174.9L497.7,177L498.1,178.5L498.4,175L498.8,170L499.2,173.9L499.6,175.5L500,176L500.4,176.5L500.8,173.9L501.2,173.5L501.5,183.1L501.9,185.2L502.3,182.1L502.7,176.2L503.1,175.9L503.5,181.2L503.9,179.5L504.2,184.6L504.6,182.3L505,186.7L505.4,182.3L505.8,190.4L506.2,192.2L506.6,190.6L507,186.9L507.3,186L507.7,184.1L508.1,188.1L508.5,185.1L508.9,189.7L509.3,189.6L509.7,186.8L510.1,194.3L510.4,191.9L510.8,190.9L511.2,192.9L511.6,192.6L512,192.3L512.4,190.7L512.8,196L513.1,190.1L513.5,192.5L513.9,190.6L514.3,192.7L514.7,192L515.1,195.5L515.5,193.5L515.9,196.9L516.2,191.4L516.6,187.5L517,193.1L517.4,189.7L517.8,195.7L518.2,192.1L518.6,187.1L518.9,190.4L519.3,187L519.7,184.2L520.1,187.7L520.5,181L520.9,190L521.3,185.8L521.7,184.3L522,182.1L522.4,190L522.8,178.1L523.2,182.7L523.6,183.3L524,181.4L524.4,184.2L524.7,181.4L525.1,183.7L525.5,185.4L525.9,187.7L526.3,179.2L526.7,191.7L527.1,192.8L527.5,187.5L527.8,190.1L528.2,179.9L528.6,182.5L529,188.9L529.4,193.6L529.8,189.9L530.2,195.4L530.5,188.7L530.9,194.5L531.3,192.2L531.7,191.9L532.1,198.6L532.5,194.5L532.9,203.2L533.3,199.2L533.6,200.4L534,200.6L534.4,202.5L534.8,197.7L535.2,204.1L535.6,202L536,205.8L536.3,199.3L536.7,202.3L537.1,204.4L537.5,206.1L537.9,205.9L538.3,208L538.7,211.6L539.1,212.5L539.4,204L539.8,212.1L540.2,204L540.6,210.9L541,208L541.4,206.2L541.8,215.6L542.1,214.2L542.5,208.9L542.9,202.1L543.3,215.4L543.7,209.3L544.1,211.2L544.5,210L544.9,210.4L545.2,211.9L545.6,208.4L546,206.8L546.4,207.6L546.8,218.6L547.2,208L547.6,212.4L547.9,213.3L548.3,208.5L548.7,210.6L549.1,206.9L549.5,216L549.9,208.8L550.3,213L550.7,210.7L551,212.7L551.4,213L551.8,215.5L552.2,216.2L552.6,206.9L553,212.8L553.4,208.6L553.7,214L554.1,209.3L554.5,212.3L554.9,213L555.3,214.4L555.7,210.3L556.1,215.8L556.5,215.4L556.8,208.7L557.2,212.8L557.6,213.2L558,217.8L558.4,215.4L558.8,210.5L559.2,215L559.6,218.5L559.9,211.5L560.3,217.6L560.7,212.4L561.1,207.9L561.5,210.1L561.9,214L562.3,215.6L562.6,216.3L563,213.3L563.4,214.1L563.8,210.4L564.2,214L564.6,211.2L565,212.9L565.4,209.7L565.7,219.6L566.1,213.6L566.5,216.4L566.9,215.4L567.3,219.2L567.7,214L568.1,217.4L568.4,212.1L568.8,210.3L569.2,211.4L569.6,218.5L570,215.1L570.4,212.4L570.8,217.8L571.2,212.5L571.5,212.4L571.9,217.4L572.3,213.9L572.7,214.6L573.1,214.7L573.5,212.7L573.9,215.3L574.2,213.7L574.6,215.6L575,216.4L575.4,217.9L575.8,213.7L576.2,216.7L576.6,212.1L577,215.6L577.3,217.6L577.7,217.1L578.1,214.7L578.5,214.1L578.9,216.6L579.3,218L579.7,215.7L580,215.9L580.4,214L580.8,218.5" fill="none" stroke="#f00" stroke-width="1" stroke-linejoin="round"/>
</g>
<path d="M290.8,219.6h6M581.6,219.6h-6M290.8,209.6h3M581.6,209.6h-3M290.8,199.5h3M581.6,199.5h-3M290.8,189.5h3M581.6,189.5h-3M290.8,179.5h6M581.6,179.5h-6M290.8,169.4h3M581.6,169.4h-3M290.8,159.4h3M581.6,159.4h-3M290.8,149.4h3M581.6,149.4h-3M290.8,139.4h6M581.6,139.4h-6M290.8,129.3h3M581.6,129.3h-3M290.8,119.3h3M581.6,119.3h-3M290.8,109.3h3M581.6,109.3h-3M290.8,99.2h6M581.6,99.2h-6M290.8,89.2h3M581.6,89.2h-3M290.8,79.2h3M581.6,79.2h-3M290.8,69.2h3M581.6,69.2h-3M290.8,59.1h6M581.6,59.1h-6M290.8,49.1h3M581.6,49.1h-3M290.8,39.1h3M581.6,39.1h-3M290.8,29h3M581.6,29h-3M290.8,19h6M581.6,19h-6M290.8,9h3M581.6,9h-3M290.8,219.6v-2.1M290.8,9.2v2.1M302.9,219.6v-2.1M302.9,9.2v2.1M314.9,219.6v-4.2M314.9,9.2v4.2M327,219.6v-2.1M327,9.2v2.1M339.1,219.6v-2.1M339.1,9.2v2.1M351.2,219.6v-2.1M351.2,9.2v2.1M363.3,219.6v-2.1M363.3,9.2v2.1M375.4,219.6v-4.2M375.4,9.2v4.2M387.5,219.6v-2.1M387.5,9.2v2.1M399.5,219.6v-2.1M399.5,9.2v2.1M411.6,219.6v-2.1M411.6,9.2v2.1M423.7,219.6v-2.1M423.7,9.2v2.1M435.8,219.6v-4.2M435.8,9.2v4.2M447.9,219.6v-2.1M447.9,9.2v2.1M460,219.6v-2.1M460,9.2v2.1M472.1,219.6v-2.1M472.1,9.2v2.1M484.1,219.6v-2.1M484.1,9.2v2.1M496.2,219.6v-4.2M496.2,9.2v4.2M508.3,219.6v-2.1M508.3,9.2v2.1M520.4,219.6v-2.1M520.4,9.2v2.1M532.5,219.6v-2.1M532.5,9.2v2.1M544.6,219.6v-2.1M544.6,9.2v2.1M556.6,219.6v-4.2M556.6,9.2v4.2M568.7,219.6v-2.1M568.7,9.2v2.1M580.8,219.6v-2.1M580.8,9.2v2.1" stroke="#333" stroke-width="1" fill="none"/>
<rect x="290.8" y="9.2" width="290.8" height="210.4" fill="none" stroke="#333" stroke-width="1.1"/>
<text x="286.6" y="219.8" font-size="11.3" text-anchor="end" letter-spacing="0.9" fill="#333">0.0</text>
<text x="286.6" y="184.1" font-size="11.3" text-anchor="end" letter-spacing="0.9" fill="#333">0.2</text>
<text x="286.6" y="144" font-size="11.3" text-anchor="end" letter-spacing="0.9" fill="#333">0.4</text>
<text x="286.6" y="103.8" font-size="11.3" text-anchor="end" letter-spacing="0.9" fill="#333">0.6</text>
<text x="286.6" y="63.7" font-size="11.3" text-anchor="end" letter-spacing="0.9" fill="#333">0.8</text>
<text x="286.6" y="23.6" font-size="11.3" text-anchor="end" letter-spacing="0.9" fill="#333">1.0</text>
<text x="315.4" y="237.4" font-size="11.3" text-anchor="middle" letter-spacing="1.35" fill="#333">−10000</text>
<text x="375.9" y="237.4" font-size="11.3" text-anchor="middle" letter-spacing="1.35" fill="#333">−5000</text>
<text x="436.3" y="237.4" font-size="11.3" text-anchor="middle" letter-spacing="1.35" fill="#333">0</text>
<text x="496.7" y="237.4" font-size="11.3" text-anchor="middle" letter-spacing="1.35" fill="#333">5000</text>
<text x="557.1" y="237.4" font-size="11.3" text-anchor="middle" letter-spacing="1.35" fill="#333">10000</text>
<text x="436" y="254.2" font-size="11.3" text-anchor="middle" letter-spacing="1.3" fill="#333">V (km s<tspan dy="-4.5" font-size="7.5">−1</tspan><tspan dy="4.5">)</tspan></text>
<text transform="translate(257.3,114.2) rotate(-90)" font-size="11.3" text-anchor="middle" letter-spacing="1.0" fill="#333">Normal</text>
<text x="534" y="29.6" font-size="18.2" text-anchor="start" letter-spacing="0.8" fill="#00f">Ly<tspan font-style="italic" stroke="#00f" stroke-width="0.3">α</tspan></text>
<text x="534" y="58.6" font-size="18.2" text-anchor="start" letter-spacing="0.8" fill="#f00">H<tspan font-style="italic" stroke="#f00" stroke-width="0.3">α</tspan></text>
<text x="78" y="301.6" font-size="16.2" text-anchor="end" letter-spacing="0.3" fill="#000" stroke="#fff" stroke-width="0.15">0</text>
<text x="78" y="235.6" font-size="16.2" text-anchor="end" letter-spacing="0.3" fill="#000" stroke="#fff" stroke-width="0.15">100</text>
<text x="78" y="169.6" font-size="16.2" text-anchor="end" letter-spacing="0.3" fill="#000" stroke="#fff" stroke-width="0.15">200</text>
<text x="78" y="103.5" font-size="16.2" text-anchor="end" letter-spacing="0.3" fill="#000" stroke="#fff" stroke-width="0.15">300</text>
<text x="78" y="37.5" font-size="16.2" text-anchor="end" letter-spacing="0.3" fill="#000" stroke="#fff" stroke-width="0.15">400</text>
<text x="162" y="330.7" font-size="16.2" text-anchor="middle" letter-spacing="0.3" fill="#000" stroke="#fff" stroke-width="0.15">1200</text>
<text x="318.8" y="330.7" font-size="16.2" text-anchor="middle" letter-spacing="0.3" fill="#000" stroke="#fff" stroke-width="0.15">1300</text>
<text x="475.6" y="330.7" font-size="16.2" text-anchor="middle" letter-spacing="0.3" fill="#000" stroke="#fff" stroke-width="0.15">1400</text>
<text x="632.4" y="330.7" font-size="16.2" text-anchor="middle" letter-spacing="0.3" fill="#000" stroke="#fff" stroke-width="0.15">1500</text>
<text x="789.2" y="330.7" font-size="16.2" text-anchor="middle" letter-spacing="0.3" fill="#000" stroke="#fff" stroke-width="0.15">1600</text>
<text x="78" y="674.5" font-size="16.2" text-anchor="end" letter-spacing="0.3" fill="#000" stroke="#fff" stroke-width="0.15">0</text>
<text x="78" y="583.1" font-size="16.2" text-anchor="end" letter-spacing="0.3" fill="#000" stroke="#fff" stroke-width="0.15">50</text>
<text x="78" y="486.2" font-size="16.2" text-anchor="end" letter-spacing="0.3" fill="#000" stroke="#fff" stroke-width="0.15">100</text>
<text x="78" y="389.4" font-size="16.2" text-anchor="end" letter-spacing="0.3" fill="#000" stroke="#fff" stroke-width="0.15">150</text>
<text x="83.6" y="696.3" font-size="16.2" text-anchor="middle" letter-spacing="0.3" fill="#000" stroke="#fff" stroke-width="0.15">2000</text>
<text x="224.7" y="696.3" font-size="16.2" text-anchor="middle" letter-spacing="0.3" fill="#000" stroke="#fff" stroke-width="0.15">3000</text>
<text x="365.8" y="696.3" font-size="16.2" text-anchor="middle" letter-spacing="0.3" fill="#000" stroke="#fff" stroke-width="0.15">4000</text>
<text x="507" y="696.3" font-size="16.2" text-anchor="middle" letter-spacing="0.3" fill="#000" stroke="#fff" stroke-width="0.15">5000</text>
<text x="648.1" y="696.3" font-size="16.2" text-anchor="middle" letter-spacing="0.3" fill="#000" stroke="#fff" stroke-width="0.15">6000</text>
<text x="789.2" y="696.3" font-size="16.2" text-anchor="middle" letter-spacing="0.3" fill="#000" stroke="#fff" stroke-width="0.15">7000</text>
<text x="78" y="1040.2" font-size="16.2" text-anchor="end" letter-spacing="0.3" fill="#000" stroke="#fff" stroke-width="0.15">0</text>
<text x="78" y="968.3" font-size="16.2" text-anchor="end" letter-spacing="0.3" fill="#000" stroke="#fff" stroke-width="0.15">10</text>
<text x="78" y="890.8" font-size="16.2" text-anchor="end" letter-spacing="0.3" fill="#000" stroke="#fff" stroke-width="0.15">20</text>
<text x="78" y="813.3" font-size="16.2" text-anchor="end" letter-spacing="0.3" fill="#000" stroke="#fff" stroke-width="0.15">30</text>
<text x="78" y="739.8" font-size="16.2" text-anchor="end" letter-spacing="0.3" fill="#000" stroke="#fff" stroke-width="0.15">40</text>
<text x="154.3" y="1062" font-size="16.2" text-anchor="middle" letter-spacing="0.45" fill="#000" stroke="#fff" stroke-width="0.15">8.0×10<tspan dy="-6.2" font-size="10.5">3</tspan></text>
<text x="295.4" y="1062" font-size="16.2" text-anchor="middle" letter-spacing="0.45" fill="#000" stroke="#fff" stroke-width="0.15">1.0×10<tspan dy="-6.2" font-size="10.5">4</tspan></text>
<text x="436.5" y="1062" font-size="16.2" text-anchor="middle" letter-spacing="0.45" fill="#000" stroke="#fff" stroke-width="0.15">1.2×10<tspan dy="-6.2" font-size="10.5">4</tspan></text>
<text x="577.6" y="1062" font-size="16.2" text-anchor="middle" letter-spacing="0.45" fill="#000" stroke="#fff" stroke-width="0.15">1.4×10<tspan dy="-6.2" font-size="10.5">4</tspan></text>
<text x="718.7" y="1062" font-size="16.2" text-anchor="middle" letter-spacing="0.45" fill="#000" stroke="#fff" stroke-width="0.15">1.6×10<tspan dy="-6.2" font-size="10.5">4</tspan></text>
<text x="176.5" y="18.9" font-size="16.5" letter-spacing="0.33" fill="#000" stroke="#fff" stroke-width="0.15">Ly<tspan font-style="italic" stroke="#000" stroke-width="0.3">α</tspan></text>
<text x="702.5" y="235.8" font-size="16.5" letter-spacing="-1.65" fill="#000" stroke="#fff" stroke-width="0.15">CIV</text>
<text x="121.6" y="567.6" font-size="16.5" letter-spacing="0.44" fill="#000" stroke="#fff" stroke-width="0.15">[NeIV]</text>
<text x="183.7" y="537.2" font-size="16.5" letter-spacing="-0.44" fill="#000" stroke="#fff" stroke-width="0.15">MgII</text>
<text x="266.6" y="586.6" font-size="16.5" letter-spacing="0.75" fill="#000" stroke="#fff" stroke-width="0.15">[NeV]</text>
<text x="311.5" y="480.6" font-size="16.5" letter-spacing="0.60" fill="#000" stroke="#fff" stroke-width="0.15">[OII]</text>
<text x="330.1" y="557.6" font-size="16.5" letter-spacing="0.46" fill="#000" stroke="#fff" stroke-width="0.15">[NeIII]</text>
<text x="349.3" y="586.6" font-size="16.5" letter-spacing="0.59" fill="#000" stroke="#fff" stroke-width="0.15">[NeIII]</text>
<text x="372" y="605.4" font-size="16.5" letter-spacing="0.35" fill="#000" stroke="#fff" stroke-width="0.15">H<tspan font-style="italic" stroke="#000" stroke-width="0.3">δ</tspan></text>
<text x="405.3" y="586.4" font-size="16.5" letter-spacing="0.84" fill="#000" stroke="#fff" stroke-width="0.15">H<tspan font-style="italic" stroke="#000" stroke-width="0.3">γ</tspan></text>
<text x="475.3" y="542.1" font-size="16.5" letter-spacing="0.90" fill="#000" stroke="#fff" stroke-width="0.15">H<tspan font-style="italic" stroke="#000" stroke-width="0.3">β</tspan></text>
<text x="466.6" y="442.3" font-size="16.5" letter-spacing="0.54" fill="#000" stroke="#fff" stroke-width="0.15">[OIII]</text>
<text x="695.9" y="499.7" font-size="16.5" letter-spacing="1.27" fill="#000" stroke="#fff" stroke-width="0.15">H<tspan font-style="italic" stroke="#000" stroke-width="0.3">α</tspan></text>
<text x="346.1" y="760.2" font-size="16.5" letter-spacing="-0.05" fill="#000" stroke="#fff" stroke-width="0.15">HeI</text>
<text x="359.5" y="807" font-size="16.5" letter-spacing="1.39" fill="#000" stroke="#fff" stroke-width="0.15">Pa<tspan font-style="italic" stroke="#000" stroke-width="0.3">γ</tspan></text>
<text x="705" y="31.4" font-size="30.8" text-anchor="start" letter-spacing="-2.7" fill="#000" stroke="#fff" stroke-width="0.85" paint-order="fill stroke">HST</text>
<text x="98.4" y="408.5" font-size="30.2" text-anchor="start" letter-spacing="1.0" fill="#000" stroke="#fff" stroke-width="0.85" paint-order="fill stroke">SDSS+DoubleSpec</text>
<text x="605.2" y="773.3" font-size="30.2" text-anchor="start" letter-spacing="1.1" fill="#000" stroke="#fff" stroke-width="0.85" paint-order="fill stroke">TripleSpec</text>
<g font-size="24.6" fill="#000" stroke="#000" stroke-width="0.35">
<text x="330.8" y="1100.3">R</text>
<text x="348.4" y="1100.3">e</text>
<text x="362.3" y="1100.3">s</text>
<text x="375.6" y="1100.3">t</text>
<text x="397.7" y="1100.3">w</text>
<text x="415.4" y="1100.3">a</text>
<text x="430.2" y="1100.3">v</text>
<text x="443.4" y="1100.3">e</text>
<text x="458.6" y="1100.3">l</text>
<text x="464.9" y="1100.3">e</text>
<text x="479.4" y="1100.3">n</text>
<text x="494.2" y="1100.3">g</text>
<text x="508.7" y="1100.3">t</text>
<text x="515.9" y="1100.3">h</text>
<text x="540.9" y="1100.3">(</text>
<text x="552" y="1100.3">Å</text>
<text x="568.9" y="1100.3">)</text>
</g>
<g transform="translate(25.6,700.4) rotate(-90)" fill="#000" stroke="#000" stroke-width="0.35">
<text x="-2.4" y="0" font-size="24.6">F</text>
<text x="13.1" y="6.6" font-size="16.5" font-weight="bold">λ</text>
<text x="35.2" y="0" font-size="24.6">(</text>
<text x="44.4" y="0" font-size="24.6">1</text>
<text x="59.3" y="0" font-size="24.6">0</text>
<line x1="78.5" y1="-17.4" x2="87.3" y2="-17.4" stroke="#000" stroke-width="2.1"/>
<text x="90.4" y="-11.6" font-size="16.8">1</text>
<text x="102.3" y="-11.6" font-size="16.8">7</text>
<text x="121.2" y="0" font-size="24.6">e</text>
<text x="135.3" y="0" font-size="24.6">r</text>
<text x="147.6" y="0" font-size="24.6">g</text>
<text x="172.6" y="0" font-size="24.6">s</text>
<line x1="190" y1="-17.4" x2="198.9" y2="-17.4" stroke="#000" stroke-width="2.1"/>
<text x="197.7" y="-11.6" font-size="16.8">1</text>
<text x="218.6" y="0" font-size="24.6">c</text>
<text x="232.8" y="0" font-size="24.6">m</text>
<line x1="258.8" y1="-17.4" x2="267.6" y2="-17.4" stroke="#000" stroke-width="2.1"/>
<text x="271.9" y="-11.6" font-size="16.8">2</text>
<text x="289.8" y="0" font-size="24.6">Å</text>
<line x1="310.3" y1="-17.4" x2="319.2" y2="-17.4" stroke="#000" stroke-width="2.1"/>
<text x="318" y="-11.6" font-size="16.8">1</text>
<text x="328.5" y="0" font-size="24.6">)</text>
</g>
</svg>
</body></html>
